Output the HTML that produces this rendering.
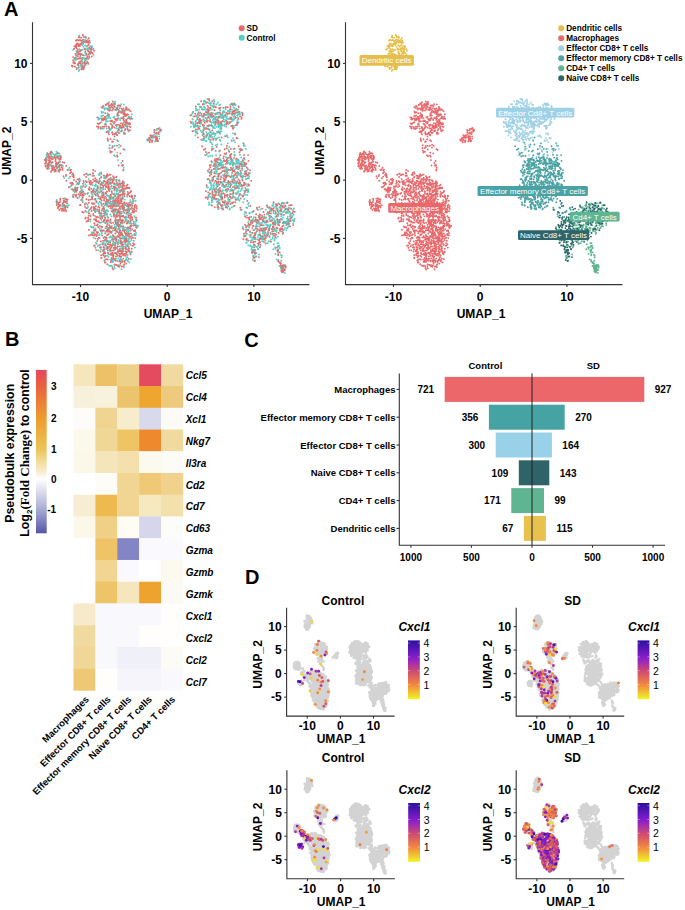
<!DOCTYPE html><html><head><meta charset="utf-8"><style>
html,body{margin:0;padding:0;background:#fff;width:685px;height:910px;overflow:hidden}
svg{display:block;font-family:"Liberation Sans",sans-serif}
.pts path,.pts use{fill:none;stroke-linecap:round}
.pts *{vector-effect:non-scaling-stroke}
.ax{stroke:#333;stroke-width:1.1;fill:none}
.tk{font-size:12px;font-weight:bold;fill:#000}
.lab{font-size:12px;font-weight:bold;fill:#000}
.lg{font-size:8.2px;font-weight:bold;fill:#000}
.bl{font-size:8px;fill:#FFFFFF}
.gn{font-size:10px;font-weight:bold;font-style:italic}
.cl{font-size:9.5px;font-weight:bold}
.cbt{font-size:10px;font-weight:bold}
.bt{font-size:12.4px;font-weight:bold}
.sf{font-family:"Liberation Serif",serif;font-weight:bold;font-size:13px}
.ct{font-size:9.5px;font-weight:bold}
.cv{font-size:10px;font-weight:bold}
.gl{font-size:12px;font-weight:bold;font-style:italic}
.lt{font-size:10.5px}
</style></head><body><svg width="685" height="910" viewBox="0 0 685 910"><defs><path id="p000" vector-effect="non-scaling-stroke" d="M82.6 69.3h0m-4.6 -1.4h0m8.7 -5.3h0m-7.4 -22.7h0m11.5 8.8h0m-3.3 -8.8h0m-2.5 -0.2h0m-0.4 1.3h0m-2 14.1h0m9.4 -7.8h0m-10.6 18h0m6 -3.8h0m-8 -12.2h0m6.3 3.1h0m-6.9 18.5h0m-5.7 -21.1h0m2.4 10.2h0m18 -5.3h0m-19.2 3.4h0m16 -12h0m-5.2 12.4h0m2 -0.3h0m-12.3 1.2h0m-1.2 3.5h0m11.6 -17.4h0m-11.7 17.8h0m5.3 2.7h0"/><path id="p001" vector-effect="non-scaling-stroke" d="M80.4 61.4h0m7 -13h0m2.4 0.9h0m-9.3 0.9h0m0.1 15.7h0m8.6 -24.5h0m-10.2 4.7h0m9.5 5.5h0m-12.5 8.2h0m4.9 4.6h0m-4.4 -10.9h0m9.1 -16.9h0m-6.3 33.3h0m-1.1 -5.2h0m6.3 -1.2h0m-1.9 -13.8h0m2.2 5.7h0m-2.6 2.8h0m3.3 -15.7h0m-9.3 25.1h0m0.1 -16.3h0m8.3 13.5h0m2.1 -15.4h0m-1.9 -0.4h0m4.3 -0.6h0m-5.6 -1.6h0"/><path id="p002" vector-effect="non-scaling-stroke" d="M82.1 61.5h0m2.6 -1.8h0m2.8 -3.1h0m-6 -15.3h0m-1.1 15.2h0m11.5 -10.3h0m-10.4 19.7h0m9.3 -14.7h0m-6.8 7.1h0m-2.4 5.4h0m-3.9 -12.8h0m4.3 7.7h0m-6 -0.9h0m13.7 -15.4h0m-3.7 17.3h0m1.5 -3.7h0m-1 6.5h0m1.5 -13.5h0m-5.3 18.1h0m-0.5 -21.9h0m0.4 -2.8h0m1 -5.3h0m-4.4 -1.3h0m7.6 10.8h0m-1.3 18.4h0m-0.2 -11.9h0"/><path id="p010" vector-effect="non-scaling-stroke" d="M89.8 42.8h0m-11.1 24.8h0m-6.9 -2h0m18.4 -13.5h0m-11.5 -7.3h0m-1.1 6.4h0m5.8 4.2h0m-6.7 -15.1h0m9.6 13.6h0m-3.1 -10.2h0m4.5 -1.8h0m-4.2 24.8h0m-0 0.9h0m-3.4 -10.5h0m5.7 1.5h0m-3.8 -15.3h0m-0.9 -5.5h0m6.3 7.8h0m-12.6 20.9h0m10.2 -18h0m-3.7 -5.2h0m-2.1 19.6h0m2.5 -8.7h0m3.8 6.1h0m-5.5 -6.3h0m10.2 -0.2h0m-1.6 -11h0m-12.3 5.2h0m-0.4 -0.7h0m3.7 -2.9h0m4.2 23.9h0m5.2 -12.1h0m-7.4 11.4h0m-0.3 1.7h0m-3.7 -4.5h0m-0.9 4.2h0m8.9 -9.8h0m-3 -1.2h0m3.9 -17h0m2.2 -2.7h0m-11.1 5.2h0m-1.5 12.2h0m9.9 -14.4h0m-6.3 4.9h0m-4.9 17.2h0m11.2 -25.7h0m-6.6 24h0m7.5 -19.4h0m-6.3 1.5h0m1.8 15.5h0m-8.3 -10.6h0"/><path id="p011" vector-effect="non-scaling-stroke" d="M91.1 48.6h0m-10.7 6.2h0m-3.7 -11.2h0m2.7 8h0m6.8 -10.4h0m-4.3 26.7h0m-7.9 -6h0m15.4 -20.5h0m-11.4 13.2h0m8.7 -13.5h0m1.9 10h0m-16 15.3h0m11.9 -17.5h0m0.1 12.8h0m8.7 -12.8h0m-18.2 14.3h0m10.2 -12h0m-2.4 -15.8h0m-5.3 13.8h0m14.3 3.5h0m-13.9 1.6h0m0.4 -0.4h0m8.1 0.8h0m-3.1 14.5h0m-6.1 -17.2h0m10.4 10.4h0m-8.9 -21.8h0m10.6 -0.1h0m-14 13.4h0m9.8 11.1h0m3 -6.1h0m5.8 -8.1h0m-12.5 9.9h0m9.8 -13.7h0m-3.9 -4.8h0m-14.1 19.9h0m15.3 -7.8h0m-4 -17.2h0m-2 20.9h0m0 5.2h0m8.4 -14.3h0m0.8 7.6h0m-13.2 -11h0m1.4 5.9h0m0.6 -6.9h0m11.8 8.7h0m-9.1 -11.3h0m7.8 10.6h0m-1.4 -0.6h0m-9.2 3.4h0"/><path id="p012" vector-effect="non-scaling-stroke" d="M76.4 46.3h0m11.8 17.4h0m-15 -3.4h0m4.3 -1.5h0m3 -0.2h0m-2.8 -6.2h0m0.7 -6.5h0m9.8 -4.2h0m-13.3 4.8h0m14.7 6.4h0m-3.4 10.7h0m3 -16.2h0m-6.1 -7.7h0m-7.4 5.4h0m0.2 -4.5h0m6.8 -5.7h0m-0.4 5.7h0m-4.4 24.1h0m3.2 -14.4h0m6 7h0m-12.8 -10.9h0m-1.9 19.8h0m7.1 -12.2h0m8.3 -3.5h0m-8.3 -13.2h0m-0.8 14.2h0m12.8 -1.7h0m-14.2 -10h0m-0.8 4.8h0m7.9 22.2h0m5 -9.1h0m-10.5 0.8h0m3.3 8.9h0m-3.8 -4h0m2 -1.3h0m7.8 -19.9h0m0.4 2.8h0m-9.9 -7.7h0m-2 7.4h0m1.2 11.5h0m4.7 8.9h0m-9.5 -8h0m7 6.3h0m10.3 -11.1h0m-9.8 -12.1h0m4.2 22.9h0m-0.5 -21.2h0m-9 16.1h0m8.8 4.4h0m-3.3 -17.8h0"/><path id="p100" vector-effect="non-scaling-stroke" d="M112.3 133.3h0m2.4 -10.8h0m-0 -17.9h0m7 26.1h0m-6.7 -28.9h0m9.5 30.6h0m-21.3 -20.1h0m20.1 5.1h0m-19.6 10.8h0m22 -4.8h0m-8.2 -9h0m-11.8 2.9h0m21.4 -7.3h0m-21.1 10.6h0m13.5 12.1h0m9.4 -14.9h0m-22.8 3.9h0m7.4 -16.4h0m-5 11.1h0m-7.4 1.9h0m7.9 -16.1h0m19.9 14.2h0m-3.8 -6h0m-0.4 1h0m-21.1 -5h0m12.9 19.6h0m-14.4 3h0m15.2 -8.8h0m8.6 2.9h0m-5.5 -17.4h0m-7.5 3.9h0m11 -5.2h0m-17.4 14.4h0m3.4 10.4h0m-1.6 -20.7h0m-6.8 3.3h0m1 3.9h0m21.4 2.7h0m-6.2 -11.3h0m3.5 -3h0m1.1 26.4h0m-2.9 -19.9h0m-20.9 7.1h0m24.6 7.9h0m-23.9 -6.2h0m19.6 -0.9h0m8.3 9h0m-0.6 -6.1h0m-3.9 -9.2h0m-9.2 5.2h0m8.5 10.4h0m-3.5 -9.9h0m2.7 -6.2h0m-4.6 -2.2h0m-9.1 21.6h0m21.4 -6.7h0m-2.5 -4.3h0m-9.9 8.1h0m6.8 -10.3h0m-14.8 14.1h0m-7.1 -24.9h0m15 3.1h0m-9.6 18.4h0m-6 -0.4h0m12 5.9h0m19.5 -15.3h0m-24.4 -9.8h0m8.5 16.2h0m2.8 7.9h0m-20.8 -13.6h0m10.7 -12.6h0m-1.8 24.7h0m13.5 -5.7h0m-0.9 1.5h0m4.2 -5h0m-9.2 -19.4h0m8.3 9.3h0m-9.8 -9h0m7.2 8.8h0m-13.6 -3.7h0m12.4 17.4h0m6.6 -16.4h0m-4.8 19.2h0m5.8 -4.5h0m-17.6 -15.1h0m11.3 18.4h0m-18.8 -14.6h0m9.6 15.7h0m-2 -11.6h0m11.8 14h0m-3.9 4.3h0m-11.9 -26.7h0m3.7 7.7h0m7.1 -8.4h0m-11.5 1.7h0m-6.4 19.1h0m2.9 -12.5h0m14.5 16.7h0m8 -0.1h0m-23 -5.4h0m13.6 -20.5h0m-6.1 11h0m-5.1 -2.3h0m15.9 14.3h0m-9.9 1.2h0m2.6 -6.5h0m7.1 -9h0m2.9 -6.9h0m6.6 22.7h0m-16.4 -26.5h0m6.6 4.6h0m7.5 -2.4h0m-15.2 0.7h0m16.9 14.9h0m-3.7 4.3h0m-22.6 -4.6h0m9.1 7.7h0m3 -26.5h0m-8.5 20.5h0m4.1 -8.7h0m11.3 -3.7h0m10.7 5.2h0m-20.7 1.6h0m21.4 -4.2h0m-27.7 -6.1h0m10.4 8.7h0m3.4 11.7h0m-4.8 -6.2h0m-6.1 -6.5h0m0.4 -2.6h0m10.2 17.7h0m-0.5 1.2h0m-9.3 -10.9h0m-8.4 -2.5h0m22.6 7.5h0m-1.8 -6.2h0m-1.1 24.7h0m3.7 21.1h0m-7.7 -9.5h0m-1.1 -16.9h0m9.3 31.1h0m0.3 -2.7h0m-13.7 -17.2h0m9.1 -3h0m3 18h0m-9.3 -19.6h0m-3 -0.7h0m11.7 17.7h0m3.2 -13.2h0m-6.6 10.3h0m-0 -19h0m-3.3 4.7h0m-3 2.3h0m-3.6 -7.2h0m9.2 11.7h0m-3.2 2.7h0m0.3 -15.9h0m38.5 -4h0m-2.8 2.4h0m9.6 -9.7h0m-3 10.6h0m-7.9 0.5h0m9.2 1.7h0m-6.3 -5h0m7.6 -7.8h0m-2.5 4.6h0m-8.2 7.2h0m10.3 -11.2h0m-11.7 11.1h0m13.5 -10h0m-3.7 -0.9h0m-1.3 9.4h0m-0.5 3.1h0m4.1 -2.8h0m-4.5 -8.2h0m2.6 3h0m-0.7 -3.1h0m-9.3 10.3h0m13.7 -10.4h0m-10.7 7.4h0m0.6 -0.7h0m3.5 -4.3h0m4.6 3.8h0m-6.8 0.7h0m-3.7 2.1h0m7.5 -1.4h0m0.9 -1.5h0m-2.7 -1.7h0m6.1 -3.2h0m-8.3 6.5h0m4.9 -4.1h0m-98.6 33.3h0m-7.7 -2.3h0m-0.8 1.1h0m9.6 -6.1h0m-1.7 -4.2h0m0.8 10.5h0m-5.4 -0.5h0m-5.8 -8.3h0m10.8 8.8h0m-1.8 -14.5h0m1.6 4.7h0m-9.9 10.9h0m3 -15.8h0m9.3 4.2h0m-2.6 8.1h0m-1 0.4h0m1.3 6.6h0m-1.9 -16.9h0m-0.8 3.8h0m4.1 7.2h0m-13 -9.6h0m13.2 13.4h0m-14 -6.7h0m11.3 -5.3h0m-7.6 -2.6h0m13.2 11.5h0m-6.2 0.5h0m2.7 1.5h0m1.9 -9.6h0m-8.2 1.4h0m5.8 11.2h0m-4.3 -1.3h0m-8.2 -9.2h0m14.1 1.7h0m-7 -4.1h0m-4.5 4.8h0m6.6 3.8h0m-8.4 -7h0m0.3 -6.2h0m3.1 1.6h0m4.6 16.1h0m-8.9 -13.1h0m12.8 -4.4h0m-3.8 2.9h0m4.5 2.7h0m-13.9 6.4h0m15.3 -8.3h0m-5.9 -2.2h0m-1.5 13.1h0m-2.8 -6.7h0m-4.8 5.5h0m10.8 2.2h0m0.3 -4.9h0m-3.7 -9.6h0m-4.3 14.2h0m0.9 -14.6h0m9.5 -0.1h0m-12.7 2.7h0m11.6 0.8h0m-8.4 4h0m-1.5 -4.8h0m3.9 -3.8h0m6.4 3.4h0m-9.6 8.3h0m2.1 -9.5h0m8.4 14.8h0m-2.8 -16.2h0m-1.1 0.8h0m0.6 0.3h0m-4.1 2.4h0m18.6 25.6h0m1.3 0h0m-6.3 -6.5h0m7.4 -1.3h0m3.9 13.6h0m-5.5 0.8h0m10.8 7.6h0m-9.4 -7.2h0m2.1 -2.1h0m-3 -12.6h0m-3.6 -5.4h0m0.5 8.7h0m1.8 7.9h0m-0.9 0.8h0m2.7 9.6h0m2.7 -5.3h0m0.6 -3.4h0m7.1 6h0m-1.6 -3.5h0m-2.3 -9.8h0m-4.1 8h0m4.2 -5.7h0m-15 -4.7h0m10.5 14.4h0m-11.8 -26.6h0m11.5 24.3h0m0.4 0.4h0m-5.3 -22.8h0m7 16.6h0m-13.3 25.1h0m1.6 -11.2h0m-2.9 10.7h0m5 -3.1h0m-6.9 -0.8h0m3.4 3.7h0m-7 -7.4h0m7.4 5h0m-6.9 -6.4h0m8.2 6.3h0m1.3 -3.8h0m-2.1 2.4h0m2.4 -3.2h0m-0.7 4.8h0m-0 -4h0m-3.4 4.2h0m-5.9 -3.9h0m5.8 0.8h0m0.4 1.5h0m5.9 0.1h0m-2.9 -2.6h0m-8.5 -0.1h0m-0.7 1.7h0m9 1.4h0m-1.7 -4.8h0m-1.7 5.1h0m-2.8 -0.7h0m5.9 -3.8h0m62.5 21.3h0m-5.1 0.9h0m-4.9 -11.2h0m2.4 7.6h0m7.7 10.3h0"/><path id="p101" vector-effect="non-scaling-stroke" d="M119.8 211.5h0m-5.7 -27.2h0m8 -1.1h0m9.9 21.9h0m-27.8 -26.8h0m-16.4 43h0m43.8 18.9h0m-32.7 -65.4h0m17 65.9h0m-6.4 -3.2h0m-3.8 -59h0m1.8 22.2h0m-6.1 -4.4h0m3.4 19.4h0m12.9 -26.7h0m-23 19.3h0m25.7 25.5h0m10.1 -8.1h0m-11.7 0.6h0m-31.2 -21.9h0m44.5 15.7h0m-30.5 7.5h0m29.2 31.6h0m-29.7 -87h0m19.7 51.1h0m-6.5 -32.7h0m4 74.5h0m-17.5 -48h0m29.1 24.3h0m-2 19.9h0m-6.9 -10.1h0m-11.4 -0.3h0m7.4 -34.4h0m3.6 31.9h0m-3.7 -26h0m-2.5 17.2h0m0.2 -46.2h0m16 27h0m-30.8 8.3h0m16.9 -36.9h0m8.6 59.4h0m-14.7 -30.1h0m2 -32.7h0m-14.9 6.7h0m8 42.2h0m14.4 -22.4h0m-0.6 45.7h0m6.6 -26h0m-26.1 -22.2h0m31.7 23.6h0m-10.4 -45h0m-24.6 -1.7h0m21.7 50.6h0m-11.9 -35.2h0m13.5 7.1h0m-28.6 22.4h0m17.7 7h0m-2.1 -31.1h0m6.3 -6.6h0m14 2.6h0m-32.4 -20.5h0m23.9 39.4h0m15.2 -2h0m-32.4 -40.5h0m5.4 12.8h0m9.4 36.2h0m9.8 -15h0m-21.9 24.2h0m11.7 -31.3h0m6.1 43.9h0m-10.6 -36.9h0m-16.4 -5.5h0m16 40.1h0m13.5 -59.9h0m-8.4 21.1h0m-3.7 49.7h0m-23 -52.4h0m11.7 -32.4h0m11.7 77.5h0m-2.6 4.9h0m18.9 -45.9h0m-23.7 48.8h0m0.6 -24.6h0m10.6 -53.3h0m-2.6 57.9h0m-12.5 -51.9h0m20.3 45.2h0m-0.2 -41.3h0m1.1 54.4h0m10.3 -11.2h0m-29.8 -54.6h0m7.1 31.5h0m9 22.3h0m-2.8 17.3h0m-18.7 -72h0m33.7 22.2h0m-2.6 1.5h0m-6 -18.9h0m9.5 23.2h0m-24.5 1.2h0m12.6 -2.1h0m5.5 50.6h0m-46.8 -62.6h0m44.1 -12.9h0m-16.7 43.9h0m-12.9 -36.8h0m18.9 18.5h0m16.6 -7.2h0m-23.7 -0.9h0m9.6 36.8h0m10.4 -49.8h0m-33 -13h0m34.7 81.3h0m1.7 -49.3h0m-25.3 -13.4h0m14 8.3h0m0.1 -19.3h0m-2.7 76.9h0m8.2 -74h0m-44.7 -3.1h0m37.5 0.4h0m18.3 14.7h0m-10.1 10.5h0m-32.4 -12.3h0m27.6 28.3h0m-24.5 -8.9h0m-2.3 -30.7h0m15.7 43h0m10.9 7.7h0m-25.1 -54.7h0m5.3 -7.9h0m-1.5 58.8h0m20.2 26.4h0m2.4 2.7h0m-28.6 -27.7h0m21 26.9h0m-2.3 -24.1h0m12 -38.3h0m-30.6 0.8h0m27.1 -2.6h0m-12.4 17.3h0m9.7 -9h0m14.8 10.1h0m-9.1 30.7h0m-25.8 -9.2h0m37.1 -12.3h0m-32.9 -1.2h0m24.7 28.7h0m-29.8 -52.4h0m41 28.8h0m-15.2 22.7h0m-4.2 -36h0m-29.1 -39.2h0m43.7 77.1h0m-23.5 -68.1h0m-6.3 42.9h0m3.4 -9.1h0m-13.3 14.3h0m9.8 -26.8h0m-5.4 -2.9h0m31.5 -8.1h0m-0.2 39.3h0m10.4 -7.8h0m-16.9 25.4h0m1.9 -64.8h0m-0.4 42.7h0m7.3 -25.1h0m-1.2 7.8h0m-22.5 1.7h0m8.2 -13.2h0m-1.5 34.6h0m15 -21h0m-35.6 19.4h0m14.9 7.3h0m22.1 21.6h0m-25.6 -18.4h0m9.6 -44h0m-19.5 19.3h0m27.5 7.1h0m0.9 16.7h0m-8.1 -59.5h0m-1.5 46.9h0m-2 5.6h0m18.2 -23.8h0m-34.6 17.5h0m-6.9 -24.9h0m26.2 -26.6h0m-13.6 14h0m18.6 -11.8h0m5.4 49.3h0m-4.8 21h0m-24.5 -40.1h0m22.4 21h0m-21.5 -31.3h0m10.3 22.1h0m18.1 44.8h0m-41.8 -76.1h0m5 17.1h0m35.1 -12.9h0m-13.9 61.4h0m0.4 -14.3h0m17.8 -22.7h0m-27.2 -39.9h0m21.1 81.1h0m-18.9 -41h0m3.6 -31h0m16.6 22.8h0m-2.4 -8h0m-25.6 -13.5h0m20.1 40h0m9 -38.3h0m-13.6 4.8h0m11.4 45.1h0m-0.9 -41.6h0m-20.1 34.1h0m30.6 -7.1h0m-26.7 -46.4h0m-23.3 -1h0m28.2 4.2h0m3.9 14.3h0m-7.1 29.7h0m2 27.5h0m9.6 -17.7h0m-1.6 9.7h0m13.8 -60h0m-20.3 2.8h0m-11.7 35.1h0m10.6 -8.2h0m1.1 48.1h0m0 -83.4h0m-23.4 2.3h0m3.6 -9.9h0m10.3 18.1h0m-15.4 -10.3h0m-4.3 13.4h0m37.2 41.5h0m-9.7 3.4h0m6.2 -30.5h0m-7.3 -26.1h0m14.3 41.1h0m4 -41.9h0m-11.2 52.7h0m15.4 -6.7h0m-33.7 -35h0m28.3 13.7h0m14.2 18.6h0m-42.2 -17.5h0m-13.1 -22.2h0m33.2 56.5h0m13.9 -15.7h0m-23.9 4.3h0m14.3 -1.8h0m1 -10.5h0m-3.4 -29.7h0m8.9 47.4h0m-26.1 -38.3h0m-5 0.3h0m31.5 41.5h0m-30.5 2h0m27 -11.9h0m8.3 -4.6h0m-3.6 34h0m-28 -48.2h0m6.6 33.7h0m16.7 -17.5h0m-1.4 -27.7h0m-1 -14.4h0m5.2 34.9h0m-21 30.6h0m15.7 -52.3h0m6.3 49.9h0m-37.2 -59h0m4.2 47.6h0m9.2 -29.2h0m23.8 23.1h0m-6.5 -11.7h0m-22.1 -32.7h0m29.1 1.1h0m0.6 72.8h0m-6.6 -35.2h0m-9.5 -29.2h0m0.5 49h0m-13.9 4.5h0m36 -15.3h0m-11.9 -19h0m12.9 1.5h0m-4.4 -0.6h0m-13.7 3.9h0m2.3 -25.1h0m0.4 -3.4h0m14.8 15h0m-17.6 5.5h0m12.2 21.8h0m-46.9 -44.3h0m13.7 -0.6h0m-0.6 38.7h0m24 -40.6h0m5.8 39.6h0m6 -10.7h0m-10.9 15.8h0m-17.3 18.1h0m27.3 2.4h0m-1.2 -14.3h0m-15.7 -40.6h0m15.1 44.7h0m7.5 -21.2h0m-29.7 9.4h0m21.3 -26.2h0m-12 38.1h0m-22.7 -70.3h0m-6.6 13.4h0m48 48h0m-2 -31.6h0m-12.3 -5.3h0m3.6 8.8h0m-28.5 24.8h0m26.9 17.4h0m-14.2 -47.8h0m8.7 26.1h0m9 -6.9h0m-2.8 -26h0m-39.2 -7.8h0m35.7 30.3h0"/><path id="p102" vector-effect="non-scaling-stroke" d="M126.8 228.7h0m-15.6 -30h0m-22.8 12.7h0m46.4 -15.6h0m-19.2 0.7h0m8.6 6.6h0m-25.3 32h0m31.3 -11.9h0m-30.5 -7.3h0m11.1 -10.9h0m16.1 1h0m3.3 -0.7h0m-28.3 -11.4h0m23.6 23.4h0m-25.2 -32.8h0m-18.1 6.2h0m32.6 36.6h0m20.9 -26.6h0m-13 37.8h0m-22.9 -63.6h0m17.8 67.5h0m19.2 -21.9h0m-5.3 -12h0m-12.3 -16.4h0m-16.1 -2.5h0m12 57.6h0m3.2 -35.7h0m-5.5 -13.6h0m22.1 49.7h0m-4.1 -2.7h0m-1.4 -8.9h0m0.2 16.9h0m-14.2 -46.7h0m0.5 -1.5h0m-8.4 24.1h0m-4.7 22.4h0m-5.8 -39.9h0m38.3 12.4h0m-12.4 13.9h0m-16.7 -24h0m7.4 39.9h0m-23.2 -38.4h0m9.5 0.4h0m33.9 25.3h0m-15.6 5.6h0m-12.7 -53.4h0m28.8 23.1h0m-18 -25.6h0m-20.8 1.1h0m-2.6 4.6h0m-3.6 14.1h0m12.1 12.1h0m19.8 -15.9h0m-25.3 -14.9h0m14 37h0m8 15.6h0m-4.5 -5.6h0m3.1 -44.4h0m-34.6 -4.8h0m45.7 65.9h0m-9.6 -25.8h0m-1.8 -25.5h0m-8.3 18.9h0m2.7 -33.9h0m18 22.5h0m-24.3 25.7h0m31.7 -4.2h0m-37.5 -51.3h0m9.6 21h0m1.8 23.7h0m-3.5 -23.6h0m12.4 19.2h0m-9.3 27.5h0m3.4 -38.2h0m2.5 16.8h0m5.2 30.2h0m-14.6 -53.4h0m9.5 -8.6h0m8.1 31.1h0m0.4 10.8h0m-11 23.6h0m-20.9 -27.6h0m7.7 -8.2h0m12.3 -23.1h0m-1.3 37.9h0m-0.7 -61.6h0m1.5 66.4h0m-3.9 -49.7h0m7.3 16.1h0m9.1 -4.8h0m-32 -12.8h0m-11.1 -8h0m31.5 24.5h0m7.4 26.1h0m-15.4 -59.2h0m-21.9 23.1h0m26.3 -5h0m15 45.6h0m0.2 -39.4h0m-2.3 44.1h0m12.6 -21.3h0m-27.1 15.9h0m-15.7 -47.3h0m-5.2 18.6h0m36.6 34.9h0m-25.5 -61.1h0m24.6 74.4h0m-21.1 -10.7h0m29.3 -43.7h0m-29.9 -20h0m24 18.8h0m-6.3 -1.3h0m-0.4 -19.2h0m-2.5 17.2h0m2.1 -16.8h0m-25 42.6h0m5.4 19.1h0m-9 -67.2h0m33.6 42.7h0m-0.2 -13.3h0m-34 -15.5h0m12.5 21.1h0m29.4 16.3h0m-1.2 16h0m-11.9 -52.1h0m-3.9 65.5h0m4.5 -27.8h0m-8.1 -33.9h0m24.1 2h0m-12 69.1h0m10.6 -34.1h0m-14.9 -49.6h0m9.8 24.8h0m0.9 22.3h0m6 -10.6h0m-24.3 -25.2h0m-6 52.6h0m7.2 4.6h0m-8.7 -70.1h0m23.8 53.1h0m2.4 -16.2h0m-5.4 28.9h0m-9.7 -47.5h0m4.1 -19.4h0m2.6 -1.2h0m-13.2 64.8h0m12.3 -5.4h0m-4.1 -36.1h0m-8.9 6.2h0m-2.5 35.3h0m-2.2 -43.4h0m14.1 -18.3h0m8.4 9.5h0m-14 56.3h0m-1.8 -50.9h0m2.5 -15.7h0m4.3 84.5h0m-8 -58.1h0m12.3 11.2h0m-9 44.5h0m7.5 -4.7h0m3.8 -19.9h0m-30.7 -15h0m26.7 34.4h0m10.7 -19.8h0m-21.6 1.2h0m-6.3 -52.4h0m14.1 4.6h0m1.9 -5.9h0m-6 11.3h0m12.9 -6.8h0m-40.9 6.4h0m45.7 29.7h0m-32.2 -44.6h0m36.9 18.1h0m-16.2 19.6h0m-20 -28.6h0m40.2 31.6h0m-36.8 22.2h0m14.7 -22.5h0m14.2 7.1h0m-19.7 22.5h0m-4.9 -45.3h0m20.8 -9.6h0m-12.2 54.7h0m3.4 -26.9h0m-5 18.1h0m-11.3 -43.7h0m17 -22.1h0m4.5 53h0m-14.7 -28.6h0m4.6 50.5h0m-17 -47.4h0m22.8 6.6h0m-4.7 23.7h0m14.5 8h0m-11.8 1.5h0m-15.9 -34h0m5.6 34.8h0m14.2 -14h0m-1.4 17.9h0m-6.9 -14.4h0m6.4 -13.3h0m9.6 33.6h0m-24.9 -24.9h0m28.7 -18.8h0m-30.5 -32.8h0m35.9 54.1h0m-31.2 -29.6h0m12.2 -12h0m2.2 49.4h0m-4.2 -16h0m-4 -23.6h0m-12.2 -11.9h0m26.8 29.1h0m-2.9 33h0m-17.4 1.9h0m10 -75.6h0m6.6 26.5h0m10.9 -4.8h0m-35.9 42.2h0m-11.6 -49.6h0m50.9 27.1h0m-50.9 -17.9h0m8.1 -13.1h0m26.5 23.6h0m0.1 23.4h0m-20.4 -10.9h0m14.8 22.2h0m1.1 4.1h0m-5 -32.1h0m-22.3 -13.7h0m27.7 31.3h0m-8.4 -32h0m15.1 42.2h0m-25.2 -38.5h0m28.4 34.1h0m4.4 -25.1h0m2.3 -17.5h0m-9.7 -5.2h0m-17.7 63.9h0m-5.3 -22.1h0m25.6 22.4h0m-26.4 -55.3h0m6.1 17.4h0m-6.7 -24.1h0m21.9 61.3h0m-22.7 -63.9h0m31.6 46.2h0m-33.3 -56h0m2.2 35.5h0m30.5 1.1h0m-2.3 -4.8h0m-12 26.9h0m5.9 -17h0m-5.6 -24.2h0m-5.8 38h0m4.8 -28.3h0m-1.3 -5h0m7.3 20.4h0m-0.2 -36.3h0m-1.2 60.6h0m9.8 -44.4h0m-16 53.1h0m13.2 -43.7h0m-24 -15.2h0m9.7 -25.1h0m18.9 49.3h0m-25.1 -13.8h0m-14.3 8.2h0m21.9 -18.3h0m-2.7 29.5h0m5.8 15.1h0m4.8 -60.5h0m3.7 57.1h0m-28.7 1.3h0m28.7 -16.2h0m-12 -43.6h0m-9.4 57.6h0m26 -3.8h0m-11.9 -35.8h0m9.8 44.1h0m3.1 -38.4h0m-34.9 -21h0m10.4 26.4h0m10.4 6.1h0m6.7 -30.3h0m8.3 9.5h0m-24 26.3h0m14.2 33.8h0m-20 -15.6h0m-4.7 -62.8h0m20.3 76.9h0m8.2 -21.9h0m1.1 0.4h0m1 -23.3h0m-47.5 -30.5h0m48.6 13.4h0m-26.5 34.4h0m22.2 -22.2h0m-8.8 57.6h0m-9 -82.6h0m30.7 42.9h0m-11.6 -13.9h0m-4 0.3h0m-16.6 29.1h0m22.9 -4.2h0m-21.6 -27.5h0m2.3 5.5h0m8 -0.5h0m-2.5 27.7h0m-0.7 22.7h0m7 -61.3h0m-14.3 7.8h0m19.8 -2.4h0m-44.8 -18.2h0m30.2 -9.6h0m3.5 14.8h0m12.9 61.8h0m-28.2 -55.9h0m3.4 30.6h0m2.6 -57.9h0"/><path id="p110" vector-effect="non-scaling-stroke" d="M125.3 129h0m-16.2 -1.2h0m9.8 -15.6h0m-4 -8.2h0m10.9 12h0m0.1 9.7h0m3.4 -15.8h0m-21.4 5.2h0m2.8 5.9h0m-5.5 -7.7h0m12 2.3h0m-1.5 17.7h0m-11.2 -14.1h0m26.7 -0.8h0m-16.7 9.1h0m15 -3.8h0m-13.3 -3.2h0m12.8 10.1h0m-17 -2.8h0m-6.6 -9.8h0m20.5 -9.1h0m2.2 0.2h0m-5.2 14.3h0m-13.8 5.2h0m-8.5 -0.4h0m22.6 -0.8h0m1.8 6.4h0m2.7 -15.3h0m-24.6 -12.6h0m9.2 19.9h0m16 -2.3h0m-13.8 12.9h0m2.8 -17.6h0m6.7 -4.6h0m-20.9 4.1h0m27.4 8.8h0m-14.6 -7.7h0m5 3.9h0m-13.7 -19.9h0m11.5 26.2h0m-9.7 4.8h0m8.6 -21.2h0m-15.2 -5.5h0m22.2 17.1h0m-2 0.2h0m-16.2 7h0m-7.6 -8h0m21.1 3.3h0m-15.1 -10.6h0m14.7 10.9h0m-10.8 -13.1h0m-6.3 4.9h0m14.4 15.3h0m1.6 -2.1h0m2.6 -20.1h0m-4.4 7.3h0m3.3 -11.7h0m-8.4 -4.2h0m0.8 28.3h0m1.7 -8.6h0m-5.2 -17.9h0m-1.1 4h0m15.7 4.3h0m-10.6 20.6h0m9.2 -7.1h0m-13.7 -23.8h0m-10.6 19.8h0m26.4 10.3h0m3.4 -7.6h0m-6.1 5.1h0m-6.4 -12.4h0m9.1 -8.6h0m-12.4 -3.9h0m16.4 8.2h0m-25.1 5.7h0m18.1 -2.3h0m3.6 -2.9h0m-7.5 -6.8h0m2.8 18.1h0m2.6 -8h0m0.5 8.3h0m1.2 -5.7h0m2.9 -6.7h0m3.4 -3.1h0m-8 -0.2h0m-12 12.8h0m-12.3 3.8h0m4.5 -9h0m27.5 0.3h0m-33 -1.5h0m32.4 5.9h0m-19.5 -18.2h0m13.4 14.8h0m2.5 -0.1h0m-20.3 4.5h0m-5.7 -1.3h0m21.7 -10.2h0m4.6 10.2h0m-2.9 -14.6h0m0.1 8.4h0m-26.7 9.6h0m11.8 0.5h0m-3.1 -21.9h0m0 19.5h0m6.4 -14h0m5.2 24.5h0m-4.8 -27.4h0m-2.4 2.3h0m17.7 19.6h0m-0.7 -14.8h0m-18.6 18h0m-4.1 -13.4h0m14.7 -14h0m-9 15.8h0m16.3 -0.5h0m-6 -14.5h0m-7.9 20.1h0m12.5 3.9h0m-8.8 -5.1h0m10.9 -9.8h0m-1.7 -0.9h0m-10.8 -7.7h0m15 11.4h0m-5.2 -5.3h0m-6.7 2.2h0m7.7 10h0m-3.3 -15.4h0m8.2 14.6h0m-0.5 2.3h0m-12.2 -10.7h0m-8.2 -5h0m8.5 14.1h0m-0 -15.2h0m9.5 13.1h0m-1.6 -0.5h0m-23.1 4.5h0m1.8 -0.2h0m20.9 -10.6h0m-26.6 10.7h0m21.4 -0.6h0m-4.9 -16.2h0m11.3 -1.8h0m-12.1 13.9h0m4.3 -10.1h0m-13.2 7.4h0m6.6 1.9h0m17.8 9.2h0m-2.3 -1.3h0m-11.9 4.7h0m-5.7 -26.3h0m8.6 23h0m-5.2 -21.9h0m-1.7 12.1h0m1 -19.2h0m0.1 25.1h0m1.6 7.5h0m-7.8 -29.4h0m11 1.2h0m-7.5 4.3h0m2.1 -4.9h0m13.7 4.4h0m-24.1 10.1h0m4.6 6.7h0m13.3 -1.2h0m-7.4 16.3h0m8 11.9h0m-3.1 -13.2h0m-5.3 11.6h0m-2.5 -3.6h0m1.1 -8.9h0m10.2 6.6h0m1.5 19.5h0m-9.3 -23.8h0m1.9 7.8h0m3.8 16.1h0m-11 -27.1h0m9.5 17.1h0m-0.2 -9.7h0m-6.5 6.8h0m13.1 17.1h0m-15.7 -29.7h0m15 24.9h0m-10.1 -17.7h0m-2 4.6h0m12.8 -2.6h0m-6 7.6h0m5.1 4.2h0m-10.4 -19.1h0m38.2 -6.7h0m8.6 -3.1h0m-6.9 8.8h0m3.8 0.1h0m-0.7 -4.2h0m2.5 3.6h0m-0.6 -2h0m-7.9 -0.2h0m7.8 -0.3h0m-3.6 -0.7h0m-5.6 2.5h0m6.4 -9.7h0m4.1 -1.2h0m-7 8.2h0m-2.1 0.7h0m2.7 -2h0m1.6 1.6h0m5.2 -5.1h0m-4.4 0.1h0m5.7 -2.2h0m-2.7 9.7h0m3.2 -9.8h0m-4.9 7.1h0m0.1 2h0m1 -6.1h0m-6.2 6.7h0m1.5 2.4h0m0.5 -1.7h0m-0.4 0.2h0m5.7 0.6h0m1 -7.1h0m-9.4 7.1h0m0.4 1.1h0m5.6 -6h0m4.7 -6.2h0m-4 3.4h0m-96.6 26h0m-1 3.3h0m-3 6.9h0m-10.1 -3.5h0m5.2 -14h0m9.6 6.3h0m-14.1 3.2h0m-1.4 -1.7h0m4.6 -1.5h0m5.1 -2.2h0m-6.1 4.2h0m13.1 4.7h0m-12.8 -0.1h0m12 4.7h0m-9.1 -17.5h0m-3.9 12h0m12.9 -6.6h0m-6 13.9h0m2 -7h0m-8.2 -8.6h0m4.5 13.2h0m-2.3 -16.7h0m12.2 9.7h0m-2.4 2.5h0m0.2 -8.4h0m-4.2 10.3h0m1.8 -8.3h0m-12.4 2.1h0m6.5 -1.3h0m6.8 3.1h0m3.6 7.7h0m-11.2 -13.3h0m5.1 6.2h0m4 -3.9h0m-6.4 10.5h0m6.4 -10h0m-11.2 -1.6h0m3.2 4.5h0m2 5.5h0m2.7 -11h0m-1.7 4.2h0m-6.5 -2.5h0m-3.2 4.9h0m2.8 -0h0m11.6 -7h0m-13 -2.3h0m7.4 15.5h0m4.6 -3.2h0m-9.9 -3.6h0m-3.4 -4.1h0m7.6 8.4h0m-1.6 3.4h0m-4.5 -5h0m15.2 2.7h0m-5 -15h0m2.2 11.9h0m-11.4 2h0m3 -4h0m1.3 6.1h0m2.9 2h0m-7.7 -5.2h0m-0.2 -1.3h0m6.6 -7h0m-3.5 0.6h0m4.9 1.1h0m1.5 4.9h0m-1.2 6.8h0m5.3 -3.9h0m-4.1 0.6h0m-6.1 -9.1h0m0.9 9.5h0m3.8 -3.1h0m3.3 4.8h0m-1.8 -12.6h0m-9.2 -3.1h0m7.6 4h0m-8.1 10.7h0m2.9 -7.4h0m0.3 -3.1h0m-1.5 2h0m6.7 3h0m-4.1 3.2h0m0.8 3.5h0m-7.6 -6.7h0m5.9 8.4h0m-4.1 -3.6h0m3.6 -15h0m1.5 12.6h0m7.1 6h0m-9.5 -15.4h0m19.3 30.8h0m-2.8 -12.2h0m4.9 -5.2h0m5.6 20.2h0m6.2 4.8h0m-6 -4.6h0m4.1 -2.1h0m-17.4 -11.9h0m13 18.5h0m-3 -3.8h0m2.7 -9.4h0m-6 -11.3h0m-3.9 -4.3h0m6.9 18h0m2.5 3.9h0m-2.1 -12.6h0m9.2 11.3h0m-12.8 -13.3h0m5.1 21.8h0m-1.7 2h0m-0.4 -20.6h0m4.7 21.6h0m-5.9 -13h0m1.4 9.9h0m3 -3.1h0m-0.1 4.9h0m-3.3 -23.2h0m6.4 5.2h0m-1.7 4.7h0m-11.2 -2.6h0m8.8 8.6h0m-5 -12.8h0m1 -4.6h0m-0.7 11.3h0m2.3 5.9h0m1.3 -9.3h0m6.2 12h0m-7.9 -8.9h0m5.3 -3.6h0m0.9 5h0m-4.7 -7.5h0m9 20.6h0m-8.9 -20.3h0m4.4 6.3h0m2 10.4h0m-16 -31.2h0m17.5 36.5h0m-0.3 -6.5h0m-3.6 -9.5h0m-2 7.4h0m-8.4 -20.6h0m-2.1 31.9h0m-6 3.7h0m-1 -1.3h0m0.9 5.7h0m8.3 -2.8h0m-10.8 -5h0m3.4 -3.5h0m4.5 8.9h0m1 2.3h0m-0.2 -2.8h0m0.7 4.2h0m-8 -4.6h0m5.7 -6h0m-0.2 1.5h0m-3.2 3.1h0m4.9 -5.8h0m1.9 4.1h0m-10.4 -2h0m1.5 5.5h0m4.8 -8.5h0m-3.3 7.3h0m-1.1 -3.2h0m1.2 -0.7h0m1.8 8.6h0m3.3 -1.8h0m-1.8 -6.7h0m3.4 -0.6h0m-2.3 9.1h0m-4.8 -4.6h0m3.3 4.7h0m-4.2 -4.2h0m-1.9 -1.4h0m1.9 -1.6h0m1.5 -3.4h0m7.3 -0.3h0m-4.7 3.9h0m1.3 1.7h0m-3.4 3.1h0m-2.8 -0.3h0m6.1 -7.1h0m2.6 -2h0m-4 9.6h0m54.1 -25.6h0m-10.9 57.2h0m29.4 -8.9h0m-23.9 -8.3h0m-19.5 4.2h0m32.9 34.9h0m-4.8 -70.2h0m-1.6 28.5h0m4.7 -3.9h0m-16.8 -22.7h0m1.9 23.9h0m8.4 6.7h0"/><path id="p111" vector-effect="non-scaling-stroke" d="M93.5 215.2h0m20.7 -12.9h0m-8.7 41.9h0m3.2 -14.7h0m0.7 -29.6h0m4.1 55.5h0m8.9 -2.4h0m-13.6 -23.6h0m1.7 -32.3h0m0.9 11.4h0m5.2 -10.4h0m-11.5 47h0m5.1 -39.5h0m6.9 -21.9h0m-13.9 4.2h0m19.9 78.3h0m-24.5 -70h0m-3.5 -25.1h0m-8.6 28.1h0m26.5 40.6h0m20.7 -9.1h0m-13 -8.1h0m7.9 -6.9h0m-15.9 -14.4h0m-4.1 -14.5h0m8 1.4h0m-15.8 53.2h0m0.9 -40.8h0m22 9.4h0m-26.3 23.8h0m38.9 -16.2h0m0.3 -11.7h0m-32.3 5.4h0m25.1 -23.1h0m5 56.1h0m-15 9.5h0m9.8 -5.7h0m-5.6 6.4h0m2.8 -66.5h0m-12.4 -8.9h0m13.1 8.8h0m-32.7 15.6h0m28.5 0.6h0m-0.1 16.3h0m-19.1 10.1h0m7.3 35.2h0m10.5 -64.4h0m-11 43.2h0m-20 -25.1h0m-1.1 -30.3h0m19 -9.9h0m8.7 18.8h0m-10.4 -21.1h0m23.3 46.7h0m-27.9 -5.6h0m15.6 18.1h0m-1.9 -13.4h0m-24.7 -14.8h0m39.7 22.6h0m-3.3 2.8h0m-12 -24.2h0m3.8 -28.6h0m-3.4 76h0m1.9 -13.9h0m-17 -43.2h0m-7.7 -6.8h0m3.7 39.7h0m19.7 -29.1h0m-5.3 24.4h0m-8.7 -34.9h0m21.2 -2h0m-11.6 48.6h0m8.1 -44.3h0m7.6 -0.5h0m-4.8 25.7h0m1.4 2h0m1.2 18.7h0m-11.6 -31.7h0m5.9 -1.1h0m4.6 -11.8h0m-13.4 36.6h0m-15.5 1.7h0m17.5 10.1h0m1 -61.5h0m-6.2 46.2h0m-1.1 -46.4h0m26.8 18h0m-11.5 5h0m-26.5 3h0m31 42.7h0m8.5 -21.5h0m-21.4 6.4h0m-23 -1.7h0m2.3 -61.4h0m2.1 38.5h0m0.5 17.6h0m33.2 -21.2h0m2.8 -13h0m-19.6 32.8h0m-21.1 -47.2h0m37 51.4h0m-33.9 -23.7h0m2.6 -7.3h0m25 14.7h0m2.8 23h0m-8.8 -39.9h0m-5.5 23.3h0m13.3 24.6h0m-16.8 -26.1h0m20.2 2.6h0m-34.4 -19.9h0m27.4 42.7h0m11.9 -22.6h0m-42.8 6.1h0m40 -25.8h0m-44.1 -10.5h0m18.6 13.4h0m29.3 -3.6h0m-8.1 -17.7h0m5.1 29.7h0m-34.6 -37.1h0m6.3 79.6h0m-3.5 -19h0m13.9 -55.8h0m8 73.1h0m-30.8 -20.7h0m36.8 5h0m-4.5 -14.1h0m5.7 -16.9h0m2.6 27.4h0m-37.9 -29.9h0m30.8 -9h0m-26.4 18.9h0m19.3 -14.5h0m-3.8 24.2h0m-3.4 20.5h0m-2.1 -70.9h0m-3 17.5h0m12.5 27.2h0m1.1 20.2h0m-7.1 -66.3h0m8.1 22h0m-15.4 0.7h0m6.9 -9.5h0m11.5 47h0m-3.9 -30.8h0m3.6 26.2h0m8.6 -37.4h0m-20.9 8.2h0m15.4 4.9h0m10.7 19.3h0m-16.4 24.5h0m10.7 -1.9h0m-35.1 -20.5h0m12.5 -50.2h0m18.6 76.7h0m-22.8 -40.5h0m12 37h0m9.6 -34.9h0m6.2 -19.3h0m6.7 14.8h0m-2.6 10.4h0m-48.5 -34.4h0m29.7 18.7h0m-28.9 -2.3h0m-0.5 7.5h0m-1.3 -36.2h0m5 6.3h0m32 52.4h0m-13.8 30.7h0m19.8 -36.4h0m-1.7 -22.9h0m-12.6 39.5h0m14.1 -2.8h0m-27.8 -30.8h0m28.4 -1.4h0m-22.6 53.1h0m-2.5 -66.9h0m26.9 55.5h0m3 -45h0m-19.9 46.7h0m11.2 -23.4h0m-30.3 -50h0m17.3 22.2h0m10 61.7h0m-15.7 -26.4h0m-3 -54.2h0m8.7 -2.2h0m8.7 86.2h0m-30.5 -63.9h0m10 -19.5h0m18.9 60.9h0m-11.3 -5.5h0m9.7 9.5h0m-2.9 9.9h0m-6.5 -31.6h0m13.8 31.2h0m7.7 -17.4h0m-26.6 -52.4h0m4.9 -12.4h0m0.3 50.8h0m-1.9 26.9h0m19.3 11.3h0m-21 -42.7h0m14.4 -22.1h0m-31.2 21.8h0m27.2 -15.3h0m-22.8 -6.6h0m2.4 -29.6h0m12.1 63.4h0m16.1 -30.4h0m-8.4 -26.8h0m-1.6 84.4h0m-26.3 -53.7h0m22.6 43.6h0m-12.8 -31.1h0m-3.4 -35.9h0m28.9 67.1h0m-3.4 -2.7h0m-12.7 12.6h0m-9.8 -66.4h0m-6.3 26.7h0m28.9 -4.5h0m-18.9 -34.2h0m23.1 7.6h0m-27.3 41.1h0m17.5 -19.6h0m21.7 0.6h0m-44.7 7.5h0m2.4 -10.5h0m10.5 -31.5h0m7.5 50.6h0m7.6 -34h0m-4.5 -0.8h0m-23.3 22.7h0m26.7 -9.3h0m-8.2 -32.3h0m1.4 12.7h0m-5.8 29.2h0m30 -17.1h0m-23.9 32.3h0m10.7 -29.2h0m0.5 -17.3h0m2.5 57.3h0m7.6 1.9h0m-29.7 7.5h0m-3.5 -26.2h0m-1.5 22.5h0m5.6 -56.4h0m7 -3.5h0m1.2 58.8h0m-1.1 6.8h0m19.4 -26.1h0m-1.6 21.6h0m-9.3 5.4h0m-6.1 -46.1h0m22.9 37h0m-19.1 -58.8h0m2.5 23.2h0m14.4 28.8h0m-48.6 -36.4h0m20.5 -15.8h0m14.8 80h0m-0.2 -42.6h0m5.4 6.7h0m-4.9 -35.4h0m-29.8 18.2h0m-5.5 -29.4h0m35.2 10.2h0m-34.7 -13h0m20.5 32.4h0m19 22.2h0m-20 -43.3h0m3.2 5.9h0m21.4 14.1h0m-23.7 3.3h0m-21.1 -23.9h0m48.1 41.8h0m-7.1 4.6h0m-34.5 -42h0m13.7 44.6h0m8.9 -35h0m9.5 50.8h0m4.6 -21.2h0m2.8 -30.1h0m-0.8 -17.4h0m-20.5 17h0m1.8 -13.8h0m-2.6 23.5h0m6.4 -33.7h0m-6.2 19.1h0m10.4 16.5h0m4.1 -17.7h0m-33.4 19.1h0m19.1 3.1h0m-6.2 26.8h0m10.5 -43.7h0m-3.3 -28.2h0m-4.7 27.9h0m22.8 36.1h0m5.3 11.8h0m0.8 -32.3h0m-8.2 45.1h0m1.5 -8.6h0m5.1 -46.9h0m-22.9 39.5h0m7.5 -43.8h0m12.8 12.9h0m-10 4.8h0m-17.8 -34.5h0m21.3 72.4h0m7.3 -9h0m-36.3 -16.1h0m11.6 -54.2h0m10.7 49.1h0m-0.4 34.6h0m8.6 -79.8h0m-17.8 77.6h0m20.7 -23.5h0m-29.8 11.2h0m7.2 -64.5h0m-2.3 30.3h0m-10.4 -33.9h0m6.6 27.4h0m15.5 46.4h0m5.6 -58.8h0m7.7 56.3h0m-29.4 -21h0m30.1 -29.1h0m-16.2 -28.6h0m12.1 76.7h0m-7.7 -12.4h0m-8.9 -36.6h0m16.6 -19.4h0m-15.1 -2.4h0m3.6 6.3h0m-0.9 63.5h0m2.9 -8.9h0m-2.9 -46.2h0m-12.6 37.2h0m-1.8 -26.1h0m18 52.6h0m16.6 -37.2h0m-34.7 -1.9h0m17.4 49.7h0m7.5 -25.9h0m-7.3 1.2h0m14.9 -8.3h0m-6.1 -2.2h0m-7.5 2.5h0m0.9 -30.5h0m14.6 22.2h0m-5.4 -40h0m-15.5 14.7h0m-0.4 -17h0m1.6 40.6h0m10.7 -27h0m-1.9 -9.4h0m-11.1 16.2h0m-4.5 0.9h0m4.2 36.5h0m12.1 -24.5h0m-3.9 -2.6h0m6.7 3.8h0m-12.6 10.9h0m3 -27.7h0m-23.8 9.5h0m18 10.8h0m14.3 21h0m-22.7 -33.1h0m-0.4 -30h0m17.9 82.9h0m4.8 -21.4h0m1.2 -54.5h0m-13.9 45.2h0m10.2 -47.3h0m2.9 46.5h0m-6.5 -13.3h0m-0.1 29.2h0m14.9 -56.8h0m-27.8 23.9h0m3.9 42.8h0m18.4 1.7h0m-15.5 -58h0m11.4 31.9h0m0.7 -44.3h0m-4.3 -0.1h0m-4.2 54.4h0m12.6 -2.1h0m-7.5 13.1h0m12.8 -53.8h0m-10.9 12h0m-38.2 -23.3h0m5.3 -8.7h0m41.8 67.6h0m-2.8 -16.3h0m-44.5 -33.4h0m12.7 -11.3h0m27.7 45h0m-27.3 -10.4h0m40.9 14.8h0m-28 -3.1h0m11.2 -6.4h0m-3 1.8h0m15.9 -4.6h0m-37 9.8h0m9.8 -15.5h0m-15.4 -20.1h0m42.4 -8.9h0m-20.9 40.5h0m-12.4 -39.5h0m24 29.7h0m-25 -40.4h0m16.4 75.4h0m-17.1 -37.5h0m-15.2 -24.1h0m39.6 0.3h0m-8.8 30.8h0m-9.6 0.3h0"/><path id="p112" vector-effect="non-scaling-stroke" d="M125.9 238.5h0m-14.3 7.8h0m16.9 -40.1h0m-24.4 -5.7h0m9.7 10.1h0m-3.9 17.2h0m-13 -37.4h0m26.6 21.5h0m-31.1 23.3h0m40.4 2.5h0m-8.9 -48.8h0m-5.9 23h0m-12.3 -8.8h0m1.5 -19.7h0m8 54.9h0m-1.1 -60.9h0m13.8 58.1h0m-23.6 17.1h0m24.3 -36.8h0m-23.2 -19.2h0m16.8 -10.8h0m-24.6 1.4h0m38.9 20.8h0m-31.6 -22.8h0m7.7 68.2h0m2 -63.9h0m-13.4 65.7h0m17.2 -54.2h0m2.4 49.7h0m-7.2 -2.8h0m-1.1 20.1h0m4.2 -67.1h0m-5.8 52.6h0m-3.7 -12.2h0m3 -10h0m8.9 1.1h0m3.8 -6.2h0m-1 40.3h0m-14.3 -36.5h0m-3.2 19.6h0m2.7 -17.8h0m23.5 -5.3h0m-29.1 -21.7h0m14.7 -27.5h0m-8.5 42.9h0m4 37.7h0m-4.1 -76h0m19.9 2.9h0m4.2 12.4h0m-5.4 66.4h0m-27.9 -46.2h0m9.6 35.5h0m-28 -47.6h0m25.3 47.8h0m14 -28h0m-8.4 -30.2h0m11.9 -2.5h0m3.1 37.5h0m-1.9 25.6h0m-10.7 -50.3h0m12.1 28.2h0m-25.6 -54.8h0m25 14.9h0m-2.2 13.5h0m-36.5 -30h0m9.4 61.6h0m28.8 -7.8h0m3.3 15.2h0m-34.4 -32h0m24.6 11.4h0m17 -18.4h0m1.4 12.4h0m-8.6 -27.5h0m-13.8 23.6h0m-12.5 -2h0m16.2 10.9h0m-20.7 11.4h0m15.5 -53.6h0m-2.6 0.6h0m11.7 55.6h0m2.5 -44.1h0m-18.3 61.8h0m-7.4 -28.9h0m4.3 -18.5h0m24.7 -2.9h0m-14.4 6h0m12.1 -8.5h0m-2.2 51.5h0m-1.5 -71.3h0m-8.2 70.5h0m-13.7 -31.5h0m33.3 23.2h0m-16 -39.4h0m1.5 45.5h0m-40.9 -61.8h0m44.3 23.6h0m-18 34h0m28.4 -51.9h0m-30.6 62.2h0m5.7 -27.4h0m15.1 -35.9h0m5.4 27.3h0m-13 -7.6h0m0.6 31h0m-16.2 -7.7h0m17.2 -36.7h0m17.1 42.2h0m-14.3 -8.5h0m-3.9 24.4h0m11.4 -5h0m-16.2 -26.1h0m15.4 5.6h0m2.9 17.3h0m-24.3 -51.7h0m13.7 2.8h0m-25.3 -19.3h0m18.2 62.5h0m-5.8 -27.5h0m17.1 4.6h0m11.3 -13.5h0m3.3 18.9h0m-11.6 -17.5h0m-28.4 -30.2h0m-1.8 45.3h0m28.5 23.5h0m-22.9 -18.2h0m18.3 -3.6h0m-35.4 -35h0m37.8 -1.5h0m-31 -15.9h0m-6.5 20.9h0m22.9 -3.6h0m28 43h0m-39 -54.7h0m12.7 4.5h0m-1.2 16.7h0m3.6 60.7h0m-17.2 -52.1h0m-9.8 2.6h0m29.5 10.3h0m2.3 -1h0m-9.7 -35.1h0m-1.9 34h0m6.7 -1.2h0m8.8 41.6h0m-6.7 -79.3h0m7.3 83.4h0m14.9 -69.2h0m-28.1 30.4h0m8.8 2.4h0m9.2 -11.5h0m-22.3 13.6h0m4 17.9h0m20.2 3.1h0m0.6 -41.4h0m-18.1 14.7h0m17 16.1h0m0.5 -28.6h0m10 -3.9h0m-14.2 11.4h0m7.9 34.2h0m-16.4 -40h0m-9.3 5.4h0m21.3 31.7h0m-21.5 5.8h0m-8 -36.4h0m19.2 22.3h0m-14.8 -59h0m8.7 -4.6h0m9.8 75.9h0m3.4 -46.6h0m-12.8 -25.3h0m12.7 61.6h0m-10.7 13.9h0m-1.9 -16.7h0m8.1 -32.4h0m2.1 -6.6h0m11.8 9.2h0m2.4 -7h0m-17.7 25.7h0m-6.7 -33.6h0m-16.5 35.1h0m5.7 -25.3h0m17.4 57.5h0m15 -57.3h0m-23.9 27.1h0m13.4 15.8h0m1.9 -1.6h0m-5 -37h0m-7.1 -17.4h0m1.4 12.5h0m-18.9 -31.4h0m28.9 29.4h0m-2.4 12.7h0m-26.2 -10.7h0m1.4 -15.1h0m2.1 48.9h0m25.9 -14.3h0m-36.9 -18.5h0m1.1 -14.4h0m20.1 -11.7h0m-8.3 27.8h0m20.4 2.7h0m0.8 4.2h0m-14.8 -34.9h0m0.1 41.3h0m24.8 -18h0m-26.8 32.8h0m11.8 -19.8h0m13.3 40.7h0m-11.3 -12.4h0m7.4 -14.2h0m-5.1 -25.3h0m-33.9 -25.6h0m45.9 67.4h0m-23.4 -59.7h0m-1.8 48.7h0m21.4 -31.1h0m-16.2 25.3h0m22.1 -19.5h0m-51.6 -0.4h0m32.8 -16h0m5.6 44.4h0m-20.5 -42h0m12.3 -19h0m-12.2 39.1h0m19.2 30.6h0m-6 -51h0m2.1 31.4h0m5.8 4.9h0m-4.9 -57.6h0m11.2 17.7h0m-15.9 -15.2h0m6.8 23.8h0m9.3 41.1h0m-9.1 -45.5h0m-23.3 21.3h0m27.4 -38.8h0m-8.5 20.3h0m-18.1 19.7h0m30.6 20.2h0m-13.3 -13.4h0m8.7 25.7h0m-32.7 -71.2h0m14.3 25.9h0m2.7 12.1h0m16.3 -4.3h0m-9.6 -22h0m5.5 21.3h0m-20.9 -26.8h0m-3.4 19.1h0m-9.3 10.8h0m21.6 -31.5h0m14.1 13.9h0m-1.7 7.6h0m-16.1 45.6h0m18.4 -1.7h0m1.8 6.1h0m-32.4 -74.1h0m24 80h0m-10.6 -83.1h0m-26.6 6.2h0m36 -0.7h0m-12 23.6h0m15.5 25.6h0m-20 -53.7h0m22.3 29h0m1.1 -5h0m-10.7 38.4h0m-12.8 -27.9h0m20.2 15h0m11.8 -21.6h0m-14.8 -6.2h0m13.8 45.5h0m-3.8 -47h0m-34.5 -18.7h0m34.7 56.7h0m1 7.6h0m6.7 -30.7h0m-9.3 33.7h0m3.7 -65.5h0m-24.5 49.9h0m10.2 14.8h0m18.6 -35.5h0m-19.2 -23.6h0m8.9 62.6h0m-20.5 -56.4h0m10.2 51.2h0m9.8 13.1h0m-4.7 -74.3h0m-6.6 18.8h0m18.2 17h0m-1.8 23.1h0m-13.9 1.2h0m23.5 -36.4h0m-7.6 -16.3h0m-18.2 -5.3h0m-17.7 2.3h0m-5.5 25.7h0m34.5 -22.9h0m2.1 -6.9h0m6.6 46h0m-42.9 -60h0m8.5 7.1h0m13.5 63.4h0m8.3 9h0m12 -48.7h0m-13.1 28.9h0m-1 -45.1h0m-10.8 -12.8h0m31.9 29.1h0m-17.3 15.2h0m-7.6 -13.5h0m-18.5 -3.2h0m23.2 -2.2h0m17 28.1h0m-34 -22.2h0m30.3 14.4h0m-39 -34.2h0m-0.8 1.9h0m14.9 6.5h0m18.5 -8.2h0m-20.2 42.8h0m30.8 -19.2h0m-10.5 11.2h0m1.9 -14.2h0m-20.1 -10.5h0m-23.5 7.6h0m40.9 27.5h0m-17.7 20.9h0m-0.2 -42.3h0m21.7 -0.5h0m-9 28.8h0m19.3 -14h0m-42.9 -26.2h0m28.3 21.3h0m-34.1 -46.5h0m11 20h0m7.6 -0.8h0m12.8 12.5h0m-18.7 -24.2h0m-8.2 7.3h0m23.7 58.7h0m7.7 13.7h0m-28.3 -27.3h0m13 13.3h0m24.9 -50.3h0m-10.2 65.1h0m-1.3 -19.8h0m-34.1 -60.3h0m46.5 30.1h0m-2.6 24.6h0m-23.7 -50.5h0m-14.8 11.3h0m30.7 1.4h0m-38 5.7h0m46.2 12.7h0m-11.8 33.9h0m-2.7 -36h0m-22.6 -39.3h0m37 15.7h0m-28.4 53.1h0m1 6h0m14.5 -27.1h0m-18.9 21.6h0m1.6 2.2h0m10.5 7.6h0m-4.4 -34.2h0m9.1 -0.9h0m13 8.1h0m4.4 -2.3h0m-13.5 6.2h0m-0.4 -48.4h0m-19.9 30h0m23.1 -9.5h0m-27.3 -5h0m35.8 -2.1h0m-16 56.3h0m4.7 -20.6h0m-3.5 -51.4h0m-2.3 35.5h0m-7 -25h0m11.6 45.1h0m5 -54.8h0m-32.1 29h0m38.6 6.6h0m-39.4 -1.4h0m7.6 5.4h0m6.7 18.5h0m25.6 -21.4h0m-17.6 16.8h0m-33.3 -53.7h0m25.7 30.9h0m14.7 25.9h0m-26.9 -48.3h0m7.9 36.4h0m8.6 -47.5h0m10.8 71.3h0m-26.4 -4.6h0m24.3 -60.8h0m-39.6 9.3h0m13.8 -2.9h0m10.7 63.9h0m-1.9 -81.5h0m7.1 46.9h0m-6.1 -35.6h0m13.4 38.3h0m2 -10.5h0m-35.6 -17.6h0m52.1 14h0m-40.3 -5.6h0m13.7 55.8h0m-2.2 -55.6h0m6.3 -12.2h0m10.3 30.9h0m-6.5 38.1h0m-17.8 -36.2h0m-2.1 -29.3h0m19.4 15.4h0"/><path id="p200" vector-effect="non-scaling-stroke" d="M219.3 104.9h0m-9 31.9h0m3.9 -19.4h0m-4 14.9h0m9.8 1.5h0m0.2 -19.2h0m-9.7 -11.7h0m9.7 7.3h0m-6.2 -10.4h0m-4.5 0.9h0m-3.2 31.6h0m4.9 -17.8h0m2.6 8.4h0m-9.4 -7.7h0m10.5 10.5h0m-1 -21.7h0m-18.1 27.2h0m7.5 2.1h0m5.2 -7.6h0m3.9 0.3h0m0.5 0.2h0m-17.8 -1h0m8.9 -24.5h0m14.6 26.3h0m-15 -0h0m15.8 -10.3h0m-15.3 4.7h0m8.4 -4.7h0m1.7 16.8h0m3.2 -12.5h0m3.8 5h0m-18.8 9.3h0m-4.5 -31.1h0m16.9 23.9h0m6.5 -0.4h0m-25.4 -19.4h0m28 13.3h0m-19.5 -17.3h0m-4.1 16.4h0m7.1 -21.7h0m2.7 20.6h0m14.6 2.2h0m0.3 -6.5h0m-32.2 -2.5h0m24.9 6.7h0m-20.9 -3.9h0m13.4 19.7h0m-6.7 -31.6h0m9.2 30.1h0m6.9 -11.5h0m-26.7 -0.2h0m31 -5.8h0m-16.3 -6.5h0m3 7h0m-14.3 -6.5h0m18.9 14.2h0m6.3 6.9h0m-1.9 -22.6h0m-8.3 26.2h0m0.6 -25.6h0m4.6 4.1h0m-3.5 20.5h0m-3.6 -16h0m14.2 1.4h0m-10.2 8.2h0m12.7 -3.6h0m-7.4 -0.8h0m-5.7 -9.9h0m1.3 -3.2h0m-4.3 10.5h0m-0.5 -17h0m5.5 24.5h0m-12.1 6.9h0m13.7 -18h0m-22.7 13.7h0m5.5 -21.1h0m-3.8 12.2h0m4.7 -2.5h0m25.4 0.7h0m-29.7 1h0m-0.3 11.6h0m-2.6 -9.3h0m16.7 -15.4h0m4.5 28.7h0m0.1 -34.8h0m-2.8 21h0m3.8 -8.2h0m-16.1 5.4h0m20.8 -15.3h0m-24.4 18.4h0m18.2 -1.7h0m-10.4 -11.8h0m5.8 25.4h0m13.3 -20.5h0m-6.2 -10.3h0m-0.7 12.9h0m4.6 9.3h0m-19.6 -3.6h0m9.4 8.4h0m5.3 3.7h0m-24 -19.9h0m4 7.9h0m7.9 6.9h0m8.9 7.4h0m-0 -14.8h0m0 -16.8h0m-6.3 5.8h0m17.9 0.5h0m-6 6.5h0m3.1 -2.5h0m-21.8 -11.6h0m-5.7 12.3h0m0.4 10h0m21.5 -7.9h0m-10 -3.8h0m16.2 7.6h0m-24.3 -3.5h0m4.5 13.3h0m11.9 -32.4h0"/><path id="p201" vector-effect="non-scaling-stroke" d="M218.6 131.1h0m-24.5 -3.8h0m3.4 -10.1h0m-5.2 -3.7h0m8 -6.4h0m20.9 11h0m-4.2 13.9h0m-20 -5.6h0m6.9 -19.6h0m-7.3 24.8h0m26.7 -13.4h0m-14.8 20.2h0m4.8 -5.1h0m8.8 -8.4h0m-2.2 0.6h0m1 -3.4h0m-10.4 -13.9h0m1.4 28.9h0m-12.7 -10.8h0m2.2 -3.5h0m15.9 15.5h0m-8.2 -13.1h0m-6.1 14.9h0m6.6 -0.6h0m-4.3 -24.6h0m-12.6 4.7h0m22.4 18.8h0m-12.5 -29h0m22.3 15.1h0m-7.2 8.1h0m-20.2 -22.6h0m10.1 -7.7h0m1.5 11.1h0m2.1 19.3h0m9.5 -8.5h0m-16.8 -22.5h0m-6.9 31.3h0m21 -30.3h0m-13.5 35.4h0m12.2 -11.4h0m-12 -17.2h0m-11.5 2.3h0m10 5.8h0m17.6 -0.3h0m-7.2 -11.4h0m-17.6 10.4h0m19.7 17.5h0m-4.8 -30.7h0m9.5 28.1h0m-1.7 -18.5h0m-25.1 13.1h0m11.5 -17.9h0m18.8 3.3h0m1.8 5.5h0m-12 2.1h0m6.5 12.8h0m-9 -5.8h0m7.8 0.7h0m-25.6 -2h0m16.6 0.7h0m7.5 -11.3h0m-17.2 12.5h0m15.1 -6.9h0m-8.4 -1.3h0m9 3.5h0m-10.2 -19.5h0m2.3 26.3h0m4.8 -8.5h0m-10.1 11.7h0m18.4 -4.6h0m-10.6 -22.1h0m-16.2 22.3h0m1 8.1h0m0.6 -9.9h0m9.2 10.4h0m3.7 3h0m-2 -19.4h0m-5.6 -3.8h0m-0.2 6.6h0m17.6 -4.5h0m-12.6 10.5h0m-0 -13.5h0m1.1 19.2h0m10.9 -12.6h0m-5.1 6.5h0m9.7 -11.9h0m-7.1 -1.9h0m-1.2 7.6h0m3.1 0.8h0m-9.4 -19.7h0m-1.6 38h0m10.8 -28.2h0m-13.9 4.2h0m18.5 -1.7h0m-19.9 -6.3h0m2.9 -1.2h0m-4.1 16.1h0m-4.8 -13.5h0m14.2 6.2h0m-5.2 11.2h0m6.7 -14.9h0m-20.8 14h0m16.2 -11.7h0m-8 -1.4h0m12.3 12h0m7.6 11.8h0m-0.6 -12.7h0m-13.5 -23.7h0m6.7 16.4h0m-4.2 -7.1h0m-6.7 20.5h0m4.1 -10.3h0m-9.3 5.8h0m14.5 -16.4h0m10 14h0m-2 1h0m-9.4 -10.1h0m10.9 18h0m4.1 -11.4h0"/><path id="p202" vector-effect="non-scaling-stroke" d="M201.6 107h0m11 -0.6h0m-15.8 10.1h0m27.5 9.4h0m-23.9 -13.2h0m8.4 20.6h0m11.4 -4.4h0m-5 -9.5h0m16.9 -16h0m-5.1 19.6h0m9.1 -10.4h0m-14.4 2h0m13.9 -9.6h0m-4 16.5h0m7.3 -7.5h0m-6.2 12.5h0m-4.9 -15.5h0m1.5 -0.6h0m3.6 -6h0m-2 7.2h0m4.2 2.4h0m-1.6 2.7h0m-10.4 -4.3h0m0.7 4.7h0m12 -4.7h0m-1.8 15.2h0m-2.1 -18h0m-3.4 14.3h0m-2.4 2.9h0m12.4 -12.3h0m-5.8 4.6h0m-0.2 1.1h0m9.9 -7.2h0m-6.6 4.8h0m2.7 -6.1h0m-4.8 7.4h0m-10.4 -7.8h0m9.7 -5.7h0m-7.7 1.8h0m4.5 15.1h0m-1 -3.7h0m4.6 -14.3h0m1.2 -1h0m-12.1 12.6h0m16.1 6h0m-11.2 -3.2h0m7.1 -14.8h0m-4.1 13.2h0m0.2 -7.9h0m9.4 4.8h0m-1.5 -8h0m-8.4 -1.2h0m7.2 17.3h0m-2.8 -17.4h0m-0.2 3.1h0m-5.2 14.1h0m2.6 -2.8h0m-4.6 -3.1h0m4.6 -2.5h0m-5.1 4.2h0m11.1 -0.7h0m-13.1 -5h0m8.4 8.4h0m-1.6 -1.8h0m5.7 4.1h0m0.6 -8h0m-4.1 -7.5h0m0.3 18.5h0m-2.3 -12.1h0m-5.2 9.5h0m15 -10.8h0m-11.9 -0.5h0m6.7 -3.3h0m-8.8 5.4h0m6.7 5.3h0m2.5 -6.9h0m-4.4 2.5h0m3.7 -4.9h0m-1.6 5h0m-1.2 -9.9h0m6.3 8.3h0m-6.1 -2.4h0m-7.6 -1.8h0m11 0.3h0m-2.8 2.3h0m0.1 13.8h0m-10.1 -14.1h0m13.2 3.9h0m0.3 4.7h0m-12.8 4.8h0m-8.6 20.2h0m15.6 -4.9h0m-15.5 15h0m3.7 -15.3h0m5 -3.9h0m7 5.1h0m-30 -1.2h0m31.2 -6.6h0m-24.1 3.9h0m19 -0.1h0m18 11.7h0m-39.7 -11.6h0m9.8 2.6h0m11 -4.7h0m-15.3 15h0m-5.7 -8.9h0m6.1 2.9h0m25.7 -5.8h0m-9.3 11.3h0m4.4 -11.6h0m2 -4.7h0m-0.3 21.3h0m-20.9 -5.9h0m21.4 -6.7h0m-0.7 12.5h0m9.3 -8.9h0m-39.5 -5.7h0m6 2h0"/><path id="p210" vector-effect="non-scaling-stroke" d="M213.3 139.8h0m-2.8 -18.3h0m-7.6 -17.1h0m1.2 21.2h0m4.8 -26.3h0m-1.1 21.4h0m-6.3 -6.7h0m6.7 15.3h0m14.3 -8.3h0m-23.5 1.2h0m11.9 -6.6h0m2.6 17.4h0m7.1 -25.4h0m-18.9 12.9h0m1.1 4.7h0m-0.3 -8.7h0m-4.8 8.9h0m1.7 3.4h0m20.7 -11.6h0m-12.2 -7.9h0m-3.8 4.9h0m1.5 14.6h0m-4.3 -13.6h0m11.3 1.4h0m-15 2.8h0m-2.4 5.6h0m7.2 -15.4h0m4.9 16.5h0m3.2 -22.6h0m-1.6 6.9h0m-0.2 3.8h0m-7.9 6.8h0m-5.6 -7.3h0m4.7 6.5h0m21 3.5h0m-14.6 -2.4h0m3.8 0.3h0m8.6 10h0m-20.7 -14.4h0m13.1 -1.2h0m-0.3 23.7h0m-12.9 -2.3h0m1.7 -14.1h0m6.5 -10.8h0m8.4 -2.2h0m2.2 9.8h0m5.9 5.1h0m-8.8 -9.3h0m1.2 -9.5h0m-13.8 -5.1h0m0.1 38.4h0m17.8 -31.5h0m-11.4 4.5h0m-4.5 21.3h0m-5.4 -8.1h0m6.6 12.7h0m3.1 -33h0m1.9 23.9h0m-16.9 -10.4h0m19.8 -17.8h0m-15.1 21.9h0m20.2 8.8h0m-10.4 -22.6h0m5 5.3h0m-7.8 13.9h0m-13.1 -5.7h0m6.5 6.6h0"/><path id="p211" vector-effect="non-scaling-stroke" d="M206.9 128.5h0m-2.7 -14.8h0m-8.3 15.7h0m-1.3 -13.2h0m10.2 6.6h0m6.2 -9.7h0m10.5 10.8h0m-17.8 -8.2h0m19.2 1.5h0m-3.5 15.4h0m-11.2 -23.1h0m2.2 -1.8h0m1.1 17.5h0m-12.2 -9.7h0m14.4 -8.2h0m-10.3 12.3h0m-5.9 14h0m22.1 -21.2h0m1.7 16.3h0m-12.5 -3h0m6.5 -3.6h0m-15.7 -3.4h0m9.5 -19.2h0m-0.9 18h0m-4.8 21.3h0m14.9 -21.9h0m-9.9 -5.2h0m-17.7 10h0m7.8 6.1h0m22.5 -5.9h0m-30.6 -6.5h0m5.4 -8.9h0m24.8 7.2h0m-5 5.6h0m-5.7 -4.6h0m3.7 -11.3h0m5 17.5h0m-11.5 0.8h0m-4.3 3.1h0m2.7 -6.9h0m-5.6 3.7h0m3.9 12.4h0m3 2h0m-9.2 -21.7h0m0.9 -2h0m9.7 -5.2h0m10.4 9.3h0m4.2 -3.6h0m3.3 8.1h0m-28.2 2h0m8.4 -20.1h0m-2.7 27.7h0m4.6 -13.6h0m-15.7 14.3h0m15 -18.8h0m8.4 10.1h0m-5.8 13.6h0m5.6 -12h0m0.6 15.2h0m-16.3 -32.5h0m15.4 6.9h0m-11.6 22.9h0m8.5 -6.1h0m-13.2 -8.8h0m16.8 -14.5h0m2.4 16h0m-11.1 11.6h0"/><path id="p212" vector-effect="non-scaling-stroke" d="M242.6 113.7h0m-13.4 9.5h0m6.1 -5.1h0m-7.7 -10.8h0m7.6 9.7h0m-1.3 -6.6h0m-8 -3.1h0m1 16h0m4.4 2.7h0m4.7 -0.8h0m-10.4 -10.5h0m4.4 4h0m0.3 3.4h0m-3.8 -9.2h0m9.1 -2.6h0m-1.4 3.2h0m-2.8 -9.6h0m5.6 21h0m-4.5 0.7h0m-1.7 -7h0m-4.2 5.9h0m10.9 -1h0m-0.3 -11h0m1.2 6.4h0m-5.6 9h0m5.1 -18.1h0m-3.8 -6h0m-4.6 9.7h0m3.3 0.3h0m0.3 14.9h0m6.9 -12.3h0m1.5 1.1h0m-9.2 -3.7h0m5.3 9.1h0m-9.9 -9.4h0m3.6 4.1h0m1.4 -5.9h0m-5.3 9.9h0m15 -6.4h0m-11.9 -8.2h0m11 11.9h0m-7.1 -7.6h0m-4.2 -2.1h0m-6.8 -1.3h0m7.8 11.2h0m8.1 -7.2h0m-7.4 -7.5h0m6.8 2.8h0m-14.9 49.2h0m7.6 -2.5h0m12.4 -10h0m-17 4.4h0m-14.7 0.8h0m23.2 -14.7h0m-5.4 21.1h0m-16.8 -16.6h0m12.8 -2.6h0m15.6 13.7h0m-2 2.2h0m-10.1 -0.4h0m-23.6 0.2h0m30.9 -14.4h0m-31.5 17.5h0m28.7 -14.8h0m0.7 8.4h0m2.1 -10.4h0"/><path id="p300" vector-effect="non-scaling-stroke" d="M230.4 157.3h0m-1.2 -10.4h0m3.6 13.1h0m-7 -5.6h0m17.4 -11.1h0m-31.9 -0.6h0m33.7 3.1h0m-5.7 3.3h0m-31 7.4h0m28.1 4.1h0m5.1 -10.8h0m-7.4 2.1h0m-3.7 7.2h0m-1.3 -1.6h0m-8.8 -16.8h0m-8 15.4h0m5.1 -11.6h0m26.9 19.4h0m-4.3 -2h0m-27.9 -15.2h0m-5.1 6.6h0m29 6.2h0m10.1 4.8h0m-27.1 -12.8h0m6.9 5.8h0m1.2 1.5h0m15.4 -9h0m-35.7 4.9h0m21.1 -11.3h0m-17.9 12.4h0m18.9 -4.7h0m11.1 3.6h0m-20.6 2.8h0m14 -8.4h0m-12 -4.6h0m-9 11.3h0m5.6 28.7h0m-3.5 -11.7h0m31.7 0.5h0m-30.9 -4.9h0m33.2 21.3h0m-7.3 -32.1h0m-23.7 18.8h0m16.9 13.2h0m5.9 1.5h0m1.2 -2.2h0m-15.1 -17.1h0m-11 21.2h0m2.8 -19h0m9.8 -4.6h0m-12.6 4.2h0m4.6 22.6h0m17.7 -3.5h0m5.4 -30.4h0m-16.4 -1.5h0m-16.6 28.4h0m18.6 -28.4h0m-9.6 -1h0m0.2 31.4h0m3.9 -4.9h0m-7.9 -23.4h0m-3.1 32.1h0m20.5 -29.3h0m0.6 -1.8h0m15.9 12.6h0m-3.3 2.7h0m4 -6.2h0m-31.4 10.6h0m4.6 24.7h0m23.5 -18.1h0m-7.4 -6.4h0m-6.6 -7.5h0m-4.9 -3.2h0m-1.4 33.1h0m-1.1 -19.3h0m-9.2 -23.6h0m-3.7 29.8h0m30.1 -28.8h0m-14.8 -0.8h0m7.9 34.2h0m10.3 -14.2h0m-7 12.6h0m-12.5 -35.1h0m6.5 9.7h0m-2.1 26.7h0m9.8 -14.1h0m6.6 2.8h0m-22.9 -4.3h0m12.1 -20.4h0m-14.4 20.7h0m-3.8 24.3h0m-1.7 -21.8h0m12.2 -9.1h0m6.2 10h0m-9.9 10.7h0m17.5 -29.7h0m-24 -6.9h0m13.7 19.8h0m-18.4 6.3h0m30.5 4.9h0m-6.6 -24.4h0m-13.4 13.3h0m8.8 1h0m-20.9 9.1h0m9.5 -22.8h0m22.6 32.1h0m-14.3 2.9h0m15 -36.1h0m-35.1 24.3h0m26.3 -21.9h0m-5.9 19h0m-11.8 -7.9h0m-8.9 25h0m11.7 -4.5h0m12.1 -35.2h0m-11.5 44.1h0m-8.8 -9.8h0m8.1 -33.3h0m10.5 -5.7h0m-19.8 10.3h0m25 2.5h0m-5.4 -11.5h0m-9.2 35.5h0m15.3 -30h0m-2.6 15.5h0m-8.7 -10.6h0m-7.4 22.2h0m1.1 -30.4h0m17.7 11.8h0m-13.8 11.6h0m8.4 -22.9h0m-4.2 24.6h0m-4.9 4.9h0m12.1 -11.3h0m-7.2 0.9h0m-8.4 -17.7h0"/><path id="p301" vector-effect="non-scaling-stroke" d="M224.6 186.2h0m-1.2 -15.5h0m9.1 -6.9h0m-1 -2h0m-11.7 40.6h0m24.5 -37.8h0m-16.6 40.4h0m-5.5 -19.2h0m-11.4 -3.2h0m14.8 -21.7h0m-9.8 38.4h0m22.2 -39.6h0m-1.6 22.6h0m-5.8 -12.1h0m1.2 37.2h0m13.9 -32.9h0m-1 -9.9h0m-26.8 21.1h0m1.7 -20.7h0m12.4 -3.6h0m-4 8.1h0m-8.4 25.7h0m20.1 -9.5h0m-22 -0.4h0m21.1 -24.7h0m-22.5 31.4h0m31.3 -0h0m-9.5 -19.1h0m0.2 -9.3h0m-15.1 1.9h0m-11.7 20.6h0m17.5 -23.1h0m-19.2 10.2h0m38.8 18.6h0m-33.7 -25.1h0m2.1 4.7h0m24.5 -9.7h0m-3.6 13.1h0m-19.5 3.9h0m-3.4 20.8h0m19.4 -16.5h0m11.3 7.3h0m-22.2 -25.6h0m2.5 17.8h0m-3.3 22.7h0m-8.7 -16.9h0m12.1 -19.3h0m2.2 37.4h0m16.6 -35h0m-4 0.8h0m-27.1 -2.9h0m9.3 5.7h0m-7.2 -5.3h0m20.9 23.7h0m-25 8.9h0m34.5 -23.3h0m-34 20.1h0m4.3 -14.3h0m-6.7 -11.4h0m32.4 2.4h0m-25.6 -10.7h0m-6.9 24.5h0m11.9 5.4h0m25.4 -0h0m-10.9 -7.6h0m-13.4 3.3h0m-10.8 -11h0m1.5 -14.3h0m0.1 19.2h0m1.4 -12.9h0m20.9 1.6h0m0.9 -4.7h0m2.2 -2.6h0m-7.3 28.1h0m-8.9 -32.1h0m2.5 28.3h0m-14.2 -5.1h0m21.1 18.3h0m0.9 -13.1h0m1.2 -3.9h0m4.8 -17.9h0m6.9 -4.7h0m-34.5 41.4h0m22.6 -8.1h0m8.4 -0.9h0m-21.7 -33.9h0m18.3 25.8h0m-14 -15h0m11.8 26.6h0m-15.8 -23.6h0m5.4 -1.2h0m-4.3 9.1h0m18 -8.3h0m-16.1 0.4h0m13.8 11.8h0m-24 7h0m6.9 2.3h0m-0.6 -33.3h0m10.8 17.5h0m-3.2 1.2h0m-7.1 -20h0m14 6.7h0m4 16.7h0m-19.8 4.3h0m10.9 -8.2h0m-12.8 -21.9h0m1.7 39.4h0m8.8 -27.1h0m-6.9 -12.2h0m-1.1 5.2h0m5 38.1h0m13.7 -12.5h0m-6.9 -2h0m-1.8 10.9h0m9.1 -16.8h0m-30.6 4.2h0m1.5 -4.7h0m28.3 -23.5h0m4.6 17.9h0m-32.1 19.5h0m25.6 -3.4h0m8.2 0.6h0m-25.7 9.9h0m14.2 -42.1h0m-14.6 37.3h0m20 -1h0m10.1 -22.7h0m-33.8 7.6h0m28.4 5h0m-4.5 -25.5h0m-9.6 23.8h0m19.2 -10.8h0m-31.5 12.4h0m1.5 13.3h0m-1 1h0m0.2 -12.5h0"/><path id="p302" vector-effect="non-scaling-stroke" d="M216.7 171.4h0m4.7 -10.8h0m-5.5 7.1h0m3.6 35.7h0m13.3 -8.9h0m7.2 -10.3h0m4 0.1h0m-23.3 -24.9h0m0.3 8.6h0m4.6 -0.9h0m15.5 27.8h0m-20 -30.8h0m3 22.5h0m12.7 -9.9h0m1.4 -16.4h0m-1.1 3.4h0m-4.7 18.4h0m-23.2 12.4h0m7.5 -21h0m4.9 -10.4h0m14.2 14.7h0m-16.5 15.1h0m-9.3 -11.3h0m21.7 -6.3h0m-6 4.7h0m-8.3 21.1h0m9.2 -9.2h0m18.7 -25.9h0m-8.4 -3.7h0m-16.1 32.8h0m-7.3 -8.1h0m25 12.5h0m-24.7 -10.8h0m8.7 1.6h0m-3.4 -16.1h0m5.9 26.5h0m-11.2 -11.4h0m-5.3 5.8h0m13.7 -12.2h0m-6 11h0m15.3 -9.1h0m-10.6 -1.9h0m-8.2 16.7h0m12 -23.3h0m3.5 23.4h0m7.5 -36.3h0m-18.3 41.8h0m-5.1 -16h0m26.3 -0.7h0m-20.2 -25.4h0m26.6 31.8h0m-3.5 -5h0m-17.5 -2.5h0m-12.2 14.2h0m13.7 -30.7h0m2.8 27.4h0m-14.9 -32.6h0m16.6 4.5h0m-23.2 16.8h0m28.3 -23.2h0m-5.9 31.4h0m-6.9 11.2h0m-11.2 -18.7h0m21.8 9.9h0m9.2 -18.2h0m-12.3 29h0m-17.9 -36.1h0m14.8 -2.4h0m-14.4 8h0m29.8 -7.9h0m-30.1 -7.5h0m18.8 0.6h0m8.8 5.3h0m-17.4 22.8h0m-6.2 -26.3h0m25.6 8.7h0m-10.9 16.3h0m10.9 -23.7h0m-16.9 4h0m8.6 -2.4h0m-24.3 37h0m17.6 -29.7h0m4.4 1.6h0m-19.2 21.2h0m18.3 -6.6h0m0.3 -27.1h0m13 1h0m-10.7 24.5h0m-24.2 7.5h0m28 -11.8h0m-18.5 -19h0m24.4 11.1h0m3.1 -6.6h0m2.1 18.4h0m-19.4 -4.9h0m19.8 5.6h0m-18.2 -5.9h0m3.5 -7h0m-14.9 31.5h0m-1 -40.7h0m-3.9 17.5h0m35.5 -7.2h0m-31.3 12.4h0m9.5 0.2h0m12.2 10h0m-12.5 -14.4h0m10 -5h0m2.6 -7.3h0m-7.8 -12.1h0m-20.7 21.8h0m17.9 17.8h0m15.8 -42h0m-2.3 18.3h0m-29.9 -15.8h0m20.9 44.3h0m0.2 -42.7h0m13.9 4.6h0m-10.1 25.1h0m-29 -21.5h0m17 -1h0m-0.3 34.1h0m-5.8 -5h0m-10.3 2.4h0m7.8 -23.9h0m28.9 6.3h0m-16.2 24.6h0m18.5 -5.3h0m-0.8 3.8h0m15.7 9h0m-10.2 -4.8h0m-6.4 -4.6h0m10.4 1.1h0m-7.5 4.7h0m-5.9 -11.1h0m16.6 16.6h0m-15.4 -4.7h0"/><path id="p310" vector-effect="non-scaling-stroke" d="M202.1 146.2h0m1.8 3.5h0m30.7 5.8h0m8.4 5.3h0m-19.6 -2.6h0m15.2 -11.9h0m4.2 14h0m-21.3 -22.8h0m22.5 17.7h0m-13.3 -0.4h0m-6.1 -1.1h0m6.1 3.3h0m-15 -6.1h0m-10.4 -2.1h0m42.8 6.3h0m0.4 5.8h0m-23.7 -11.7h0m2.1 -3.3h0m-14.6 3h0m28.3 1.7h0m-9.8 -1.7h0m-14.2 -2h0m-7.7 5.8h0m31.7 -3.9h0m-14.2 4.3h0m-6.2 2.1h0m-0.3 -4.7h0m18 10.1h0m-26.6 9.8h0m28.5 -4.1h0m-15.8 1.5h0m13 31.4h0m-0.8 -15.5h0m-6.1 13h0m-6.2 -36.3h0m23.9 8.9h0m-6.7 4h0m-9.2 -3.9h0m1.3 13.3h0m2.2 -8.5h0m-4.5 -6.5h0m-6 27.5h0m11.6 -36.4h0m-2.4 -0.9h0m-8.4 49.4h0m-7.3 -48h0m4.6 7.8h0m-7.6 -2.2h0m1 24.4h0m-7.8 7h0m25 -18.4h0m7.8 -13.5h0m-5.1 29.5h0m12.4 -8.3h0m-25.1 -7.5h0m7.8 -17h0m11.6 34.4h0m-24.7 13.5h0m-7.5 -44.1h0m11.7 6.3h0m4.8 36.6h0m-17.6 -27.4h0m3 -0.3h0m-4.4 12.3h0m32.9 -6h0m-28.9 10.9h0m27.8 -22.8h0m-0.3 -10.5h0m-27.2 32.9h0m35.4 -18.7h0m-29.7 16.8h0m23.5 -29.3h0m-18.7 27.7h0m-7.3 1.8h0m17.5 -2.4h0m-6.1 9.3h0m-8.6 -26.8h0m4.2 26.2h0m23.7 -30.6h0m-2.8 5.3h0m-31 18h0m21.1 -23.5h0m-12 -6.1h0m24.9 2.9h0m-20 0.5h0m6 29.7h0m2.2 -26.1h0m-24.9 0.6h0m39.3 13h0m-10.8 -12h0m-17.5 18.4h0m17.1 -22.5h0m4 -0.8h0m-15.1 4.2h0m3.5 31.5h0m-1.9 -22.4h0m-22.7 9.7h0m38.8 -28.6h0m-17.5 27.8h0m10.5 -23h0m-12.7 19h0m-5.1 1.4h0m5.9 -10.5h0m-4.6 -4.8h0m5 12.1h0m-9.6 -1.7h0m32 -8.3h0m-37.2 -13.4h0m3.9 19.6h0m12.1 14.1h0"/><path id="p311" vector-effect="non-scaling-stroke" d="M214.9 189.1h0m19.8 -14.2h0m-4.7 12.2h0m14.1 -29.1h0m-0.1 7.9h0m-22.6 27.5h0m4.6 -3.1h0m-19.1 7h0m37.2 -11.9h0m-17.4 -25.4h0m20.1 30h0m-18.5 -9h0m15.8 1.8h0m-16.7 -12.1h0m-0.4 -9.2h0m18.1 30h0m-26.7 -26.7h0m-0.4 4.4h0m29.3 6.3h0m-1.9 1h0m-21 9.4h0m-7 21.2h0m-8.9 -28h0m4.7 -0.1h0m19.4 -10h0m-19 7.7h0m6.5 27.4h0m-1.5 3.4h0m12.3 -30.3h0m-2.3 5.7h0m4.6 13.5h0m-14.7 -14.6h0m1.2 -8.3h0m-7.8 26.8h0m21.7 -37.5h0m-15.3 5.8h0m4 30.4h0m0.7 10.6h0m14.4 -23.5h0m3.2 12.4h0m-0.8 -15h0m-18.4 -6.2h0m10.7 25.4h0m3.9 -14.1h0m7.7 -30.2h0m-24.6 5h0m-5.5 34.5h0m13.3 -35.4h0m-12.6 1.5h0m2.2 -4.7h0m20.2 17h0m0.8 -4.1h0m1.5 -4.8h0m-22.7 31.6h0m1.4 5.6h0m23.9 -19.7h0m-29.1 6.6h0m4.8 -4.9h0m12.9 7.4h0m4.6 -6.4h0m-29.2 10.1h0m44.4 -27.5h0m-22.9 33.4h0m20 -28.8h0m-22 27.2h0m-3.3 -4.2h0m15.5 -20.2h0m-13.3 24.9h0m18.8 -16.7h0m-33 -20.3h0m3.6 11.7h0m20.8 -6.1h0m-9.5 26.4h0m-7.2 -18.2h0m14.3 11.2h0m-19.3 2h0m-3.2 -23.3h0m14.6 12.3h0m6.7 1.9h0m-18.2 -2.4h0m9.2 25h0m-7 -45.5h0m30.8 27.6h0m-31.1 8.4h0m30.5 -3.9h0m-34.9 -16.9h0m25.7 24h0m5.5 -35.9h0m4.9 9.4h0m-21.4 1.8h0m-8.4 -9.1h0m30.1 -2.2h0m-28.1 19.2h0m15.2 -18.7h0m-21.4 41.4h0m3.6 -44.3h0m5.8 46.9h0m8.8 -44h0m-3.7 24.9h0m21.7 -4.8h0m-2.8 -11.8h0m-5.6 8.5h0m0.2 12.9h0m-9.4 -8.7h0m-10.2 -2.9h0m4.1 -21.6h0m0.8 6.3h0m13.2 16.3h0m-9.4 -13.4h0"/><path id="p312" vector-effect="non-scaling-stroke" d="M228.4 203.2h0m-12.2 -21.7h0m8 21h0m0.2 -22.1h0m-13.1 -6.1h0m23.1 31.5h0m8.3 -25.2h0m-5.9 -13h0m-29 31.4h0m25.3 -8.1h0m4.4 -9.4h0m1.1 -2.1h0m-28.6 14.4h0m12.6 8.3h0m12 -21.8h0m-20.6 -11.4h0m12.9 26.4h0m-0.4 8.8h0m-0.7 -40.2h0m-1.1 -3.1h0m16.4 16h0m-26 -17.9h0m9.9 17h0m-18.4 9.3h0m36.4 11.2h0m-2.7 -25.7h0m-21.8 6h0m11.4 -0.3h0m18.6 -3.3h0m-23.8 21h0m7.9 -23.4h0m-8.1 0.6h0m2.7 25.3h0m-12.7 -23.4h0m18.1 8.4h0m1.3 -5.8h0m-23.6 -8.5h0m34.2 16.7h0m-11 9.3h0m-16.8 -1.1h0m11 -16.4h0m16.9 -11.6h0m-29.4 27.3h0m16.1 -32.7h0m2 43.5h0m-4.8 -12.9h0m8.7 -2.4h0m-16.7 -7.8h0m2.7 5.2h0m8.9 -11.5h0m-17.9 -7.1h0m-2.9 6.3h0m24.1 30.2h0m-9 -25.5h0m-18.8 2.4h0m18 -1.3h0m-4.2 18.7h0m-6.6 10.7h0m24.6 -12.3h0m5.1 -21.1h0m-8.5 -7.7h0m-13.8 39.1h0m-2.7 -20.7h0m2.9 -16.9h0m-4.9 -5.4h0m-2.7 14h0m18.1 10.8h0m-1.4 11.3h0m0.8 -16.7h0m-11.3 23.6h0m-2.2 -16.2h0m-0.6 -7.2h0m2.5 -0.1h0m-0.8 -13h0m-3.8 -7.4h0m1.7 -2.1h0m17.6 15h0m-8.2 1.4h0m2.2 23.9h0m-14.6 -9.3h0m4.1 -16.3h0m-4.1 23.9h0m2.6 -39.1h0m2.9 31.5h0m-1.7 12.2h0m13 -33.3h0m-23.8 1.4h0m13.6 27.6h0m29.8 -17.4h0m-11.3 1.9h0m-17.8 15h0m-7.5 -2.8h0m19.3 -15.8h0m-5.9 -21.1h0m-9.1 34.1h0m11.4 4.6h0m-5.5 -17.4h0m24.4 40.2h0m12.8 -3.9h0m-14 2h0m-6.6 -7.8h0m18.7 9.2h0m-8.9 -2.1h0m-10.9 -9.2h0m16.6 -0h0m0.9 2.1h0m-4.3 1.2h0m8.5 6.4h0m-17 -1.2h0"/><path id="p400" vector-effect="non-scaling-stroke" d="M283.8 221.4h0m-9.6 0.7h0m-5.8 -14.4h0m8 19.9h0m-31 5.2h0m21.5 -18.8h0m19.5 -10.9h0m-0.2 9.2h0m-9.5 2.8h0m-30.4 27.7h0m23.3 -15.1h0m-7.6 -2.5h0m32.8 -6.3h0m-27.2 24.4h0m-14.4 12.5h0m-0.2 -33.8h0m35.3 -2.2h0m-20.1 -5.2h0m-5.5 19h0m-7.6 -12.2h0m7.9 6.7h0m25.8 -1.9h0m-17.8 13.3h0m15.1 -17.8h0m1.7 -4.9h0m-22.5 21.9h0m1.6 -4h0m8.6 -30.6h0m-6.8 37.1h0m-3.8 -19.9h0m-10.4 39.6h0m22.8 -41.2h0m-3.1 3.7h0m-4.9 12.5h0m9 -32.4h0m-35.3 23.4h0m10.8 25.4h0m9.6 -22.1h0m-16.9 9.5h0m38.6 -16.4h0m-29.4 10.7h0m17.6 -30h0m7.1 27.1h0m-5.8 -10.3h0m-14.2 25.4h0m24.5 -18.3h0m-29 28.7h0m26.1 -41.5h0m-19.3 6.5h0m14.1 10.5h0m-0.6 -23.2h0m-12 22.4h0m-5.5 -13.7h0m30.3 6.8h0m-26.2 8.9h0m1 -4.4h0m26.2 -12.4h0m-20 9.7h0m-2.2 -1.3h0m19.3 -6.5h0m0.5 9.1h0m-11.4 10.3h0m-25.8 8.4h0m24.6 -39.5h0m-19.8 53.8h0m19.7 -38.3h0m-28.9 7.5h0m33.7 -0.5h0m-9.6 -20.5h0m-22.8 20.9h0m8.7 2.8h0m16.5 -1.1h0m-23.1 3.8h0m15.8 -16.7h0m10 3.8h0m-18.6 -1.9h0m5.8 8.2h0m16.3 -8.4h0m-13.5 7.6h0m10.2 -11h0m-15.9 18h0"/><path id="p401" vector-effect="non-scaling-stroke" d="M286.3 225.3h0m-1.7 -3.3h0m-23.7 -2.8h0m-9.3 21.3h0m21.6 -15.7h0m8.8 -5.1h0m-1.2 -13h0m-10.1 18.3h0m-11.6 29.5h0m13.1 -49h0m-10.8 30.8h0m-4.9 20.2h0m31.5 -46.3h0m-20.8 -5.1h0m20.1 16.5h0m-17.3 -5.9h0m-12.2 23.8h0m29.2 -15h0m2.7 -16.2h0m-1 -0.5h0m4.9 6.9h0m-20.9 22.4h0m-16.3 9.7h0m33.8 -32.4h0m-15.4 5.7h0m8.7 -13.1h0m-31.2 30.9h0m34.7 -9.3h0m5.2 -12.5h0m-45.7 24h0m45.6 -23h0m-37.7 32.9h0m9.5 -16.8h0m19.2 -15.4h0m-7.2 13.3h0m-11.2 -0.8h0m-8.9 8.9h0m28.7 -27.9h0m-15.2 8h0m8.9 2.8h0m10.5 -0.8h0m2.2 -7.6h0m-18.1 24.9h0m-2.9 -17.7h0m5.6 4h0m-21.3 13.6h0m20.9 -14.5h0m-12.2 15.5h0m9.5 -5.5h0m15.9 -21.5h0m-9.5 1h0m-10.9 19.8h0m10.9 -10.3h0m-6.3 -5.1h0m-18.9 27.6h0m2.7 -23.3h0m3.5 2.6h0m10.1 -3.8h0m16.9 -12.6h0m-21.4 27.2h0m9 5h0m8.8 -10.5h0m-0.3 -24.6h0m-17.5 35h0m-13.1 -0.6h0m24.3 -23h0m-25 32.7h0m41.5 -26.3h0m-24 5.7h0m-7.2 -5.9h0m30.9 -10h0m-14 9.5h0m-13.7 9.5h0m-6.7 13.6h0m-5.4 4.8h0m14.5 -16.9h0m-19.7 -7.3h0m30.7 -10.4h0m-14.7 9.4h0m29.2 -5h0"/><path id="p402" vector-effect="non-scaling-stroke" d="M247.4 240.6h0m40 -18.1h0m-0.4 -0.7h0m-24.2 15.8h0m26.7 -18.7h0m-8 0h0m-2.5 2.9h0m-16.7 19.3h0m4.5 -20.8h0m-1 -10.7h0m28.4 11.3h0m-31.4 18.1h0m1.5 -22.2h0m13.6 -7.2h0m-6.1 11.3h0m5 9.4h0m-11.7 -12.9h0m4.3 -1.8h0m-5.5 21.2h0m6.4 -26.3h0m-5.9 12.2h0m-9.3 22.5h0m27.6 -22.2h0m-29 33.5h0m12.2 -13.3h0m20.8 -40.4h0m-3.2 3.8h0m0.5 23.2h0m-13.6 -5h0m7.1 25.9h0m0.3 -4.7h0m-2.3 2.8h0m0 5.1h0m1.8 -10.8h0m-0.6 16.3h0m5.1 -3.7h0m-8 -11.5h0m-0.5 5.1h0m7.6 5.4h0m-5.8 -7.5h0m6.1 13.5h0m-2.7 -14.2h0m-0.1 3h0m1.4 -1.5h0m1.8 9.4h0m-3.2 -14.1h0m0.8 2.4h0m-1.3 6.6h0m5.7 16.2h0m-1.7 2.3h0m-0.4 0.2h0m3.8 -5.7h0m-2.4 5.4h0m-2.1 -3h0m2.9 2.5h0m-2 -4.1h0m1.9 -0.6h0m-2.4 2.6h0m1.9 -2.8h0m0 1.3h0m0.8 3.1h0m-3.8 -3.6h0m0.7 2.4h0m1.8 -2.2h0m1.1 0.6h0m0.3 -2h0m-3.3 -1.1h0m1.5 5.3h0m-1 -0.7h0m0.3 2.5h0m2 -0.5h0m1.3 2.5h0m-5.4 -10.1h0m3.7 5.2h0m0.5 -0.5h0m-0.6 4.8h0m-3.5 -6.4h0m0.9 -2.7h0m2.7 3.9h0m0.6 0.7h0"/><path id="p410" vector-effect="non-scaling-stroke" d="M289.3 211.4h0m-10.7 2h0m-18.1 22.6h0m13.3 -25.5h0m3.4 9.4h0m4.7 -16.7h0m-10.7 13.5h0m-9.7 12.3h0m23.7 -23.5h0m4 -0.1h0m4 19.7h0m-4.6 -2.9h0m-22.7 -4.8h0m7.5 13.7h0m-21.1 20.6h0m30.6 -29.1h0m-18.7 9.3h0m-1.3 -11.7h0m2.4 14.9h0m9.1 -6.3h0m-10 -14.2h0m3.9 19.1h0m4.6 -5.9h0m3.5 6.8h0m-16.6 12.8h0m6.5 -18.5h0m6.4 -5.9h0m-6.4 -0.8h0m17.6 -7.3h0m-10.3 -3.7h0m-0 15.3h0m-18.2 11.4h0m12.1 -16.2h0m-22.9 14.4h0m10.5 5.5h0m38.7 -21.1h0m-23 13.4h0m-25.7 -9.1h0m24.6 12.1h0m20.9 -21.4h0m3.7 5.6h0m-19.4 14.3h0m-5.1 -28.2h0m12.4 -0.7h0m-0.2 24.9h0"/><path id="p411" vector-effect="non-scaling-stroke" d="M282.4 226.5h0m-10.1 -17.3h0m-12.7 10h0m8.1 -6.9h0m-6.6 5.4h0m8.1 -4.4h0m14.7 9.3h0m-12.7 -11.8h0m20.1 6.9h0m-37.2 2.7h0m-7.5 18.4h0m17.1 -17.5h0m14.3 0.6h0m-15.5 14.2h0m18.1 -7.6h0m-15 9.5h0m7.3 -11.3h0m14 -2.4h0m-23.2 -5.9h0m26.6 0.4h0m-11.1 6.4h0m7.3 -3.2h0m-31.8 23.8h0m14.5 -15.5h0m5.7 3.5h0m9 -30.5h0m-12.1 25.7h0m6 -14.6h0m-1.3 13.9h0m6.7 4.4h0m-2.3 -22.1h0m5.6 1.8h0m-13.5 11.1h0m9.8 10.2h0m7.3 -12.8h0m-35.5 12.2h0m36.6 -24.3h0m-22 7.2h0m0.2 12.4h0m-19.3 3.1h0m-6.7 7.7h0m28.2 -30.7h0m15.7 12.6h0m-4.4 2.1h0m-16.4 4.4h0"/><path id="p412" vector-effect="non-scaling-stroke" d="M254.4 257.7h0m-2 -4.8h0m24.8 -47.5h0m2.7 16.8h0m-2.4 6h0m5 -21.5h0m-14.5 25.2h0m2.3 9.5h0m-7.4 -11h0m13.3 -24.8h0m-25.6 18.5h0m39.4 2.3h0m-28.1 -1.1h0m2.4 9.6h0m15.5 -4.3h0m-10.6 -17.5h0m0.2 -0.2h0m-6.9 6.9h0m15.7 35.5h0m-0 -4.5h0m0 10.4h0m-1.2 -13.7h0m2.7 4.9h0m-1.5 1.9h0m-0.7 -4.1h0m0 0.5h0m0.7 9.6h0m3.3 6.7h0m-0.1 3.9h0m1.7 -2.9h0m2.5 -0.4h0m-2.5 3.4h0m-1 -5.6h0m2.6 5h0m-5 -8.1h0m5.1 7.2h0m-2.7 2.8h0m3.7 -5.7h0m-5.2 -1.4h0m3.7 0.6h0m-1.9 4.5h0m-0.1 -0.4h0m-1.6 -6.6h0m1 6.7h0m1.6 -4.1h0"/><path id="p500" vector-effect="non-scaling-stroke" d="M253 219h0m-12.5 -9.3h0m19.4 8.5h0m-10.1 -5.2h0m-4.8 -1h0m8.8 5.2h0m-4.1 -0.1h0m10.6 -7.6h0m-13.3 6h0m1.7 -12.5h0m0.1 3.1h0m6.2 47.4h0m26.3 -42h0m-5.7 -0.4h0m-31.9 18.5h0m4.7 -7.7h0m12.6 17.4h0m-10.4 -2.1h0m3.6 2.1h0m-10 -4h0m12.2 -9.1h0m18.2 13.1h0m-4.7 -21.8h0m-17.5 15.5h0m6.4 -11.4h0m-8.1 -0.7h0m24.4 -7.2h0m-14.3 24.2h0m-8.3 12.5h0m15.1 -15.6h0m26.3 -26.3h0m-23.5 24.2h0m-4.2 -8h0m-7.8 -9.1h0m14.5 -9.8h0m-15 31.3h0m25.4 -25.2h0m-36.6 30.9h0m28.2 -12.5h0m-23.2 16.5h0m0.4 -26.3h0m-8.1 16h0m15.1 -1.8h0"/><path id="p501" vector-effect="non-scaling-stroke" d="M259.6 231.9h0m-1.6 17.4h0m22.1 -37.8h0m2.4 -8.6h0m-0.4 2.5h0m-4.2 31.2h0m-27.6 8.7h0m5 4.7h0m7.3 -18.3h0m-1.6 4.9h0m8 -11h0m17.3 4.6h0m-35.2 10.3h0m6.6 -14.2h0m18.8 -19.2h0m-18.6 15.5h0m14.6 6.9h0m-12.9 -2.9h0m33 -6.9h0m-12.7 -9.3h0m9 9.8h0m-4.6 -8.9h0m-10.4 7.5h0m10.8 3.4h0m-29.9 32.1h0m16.2 -33.5h0m1.3 -11h0m14.8 8.9h0m2.2 2.2h0m-20.9 8.8h0m1.5 -11.2h0m11.8 -12.9h0m5.5 -3.2h0m-13 27.1h0m1.5 -16.1h0m-25.5 32.3h0m32.9 -33.8h0m-1.5 2.1h0m-8.3 21.6h0m5.7 -14.6h0m-31.6 4.8h0m42.8 -13.1h0m-39.7 19.7h0"/><path id="p502" vector-effect="non-scaling-stroke" d="M260.9 222.9h0m16.3 0.3h0m-27.1 8.9h0m8.2 3.1h0m9.2 -9.3h0m-13.1 9.2h0m3.6 13.8h0m-9 -21.3h0m37.2 -4.3h0m-0.1 -13.9h0m6.9 0.5h0m-40.5 42.5h0m18.6 -10.6h0m-13.7 -20.7h0m-10.9 13.1h0m9.9 -9.4h0m0.6 22.1h0m18 -16.4h0m-20.8 19.7h0m25.4 -43.1h0m-31.4 38.3h0m25.2 -32.4h0m16 10.4h0m-2.3 -14h0m-35.6 39.6h0m4.4 -22.5h0m-5.3 10.2h0m27.8 -24.9h0m-22.5 44.6h0m1.5 -26.5h0m10.3 -2.9h0m14.1 -18.3h0m-22.6 15.2h0m-6.4 36.1h0m16.5 -23.9h0m-15.9 15.5h0m32.8 -38.4h0m-40.6 12.1h0m6.7 21.9h0m2.3 -17.3h0m26.7 -13.6h0m-10.9 -5.7h0"/><path id="p510" vector-effect="non-scaling-stroke" d="M256.1 214.3h0m3.6 2.5h0m-13.5 0.8h0m6 -5.4h0m-3 5.7h0m10.1 -10.8h0m2.8 1.5h0m-11.8 -2.7h0m-4.3 6.8h0m3.4 6.7h0m6.4 -0.2h0m-8.5 -18.3h0m30.1 9.7h0m-21.6 18h0m9.8 4.3h0m12.3 -10.9h0m-24.3 19.6h0m33.8 -29.1h0m-26.2 18h0m-6.3 22.3h0m2.1 -29.8h0m22.6 -15.4h0m-2.2 1h0m0.4 2.8h0m13.9 -6.3h0m-10.1 23.4h0m-32.9 12.1h0m4.7 17.3h0m2.2 -40.5h0m33.2 2.2h0m-15.4 3.7h0m-27.2 4.2h0m-0 4h0m12.2 12.1h0m34.8 -32.3h0m-39 36.1h0m1.9 5.9h0m19.4 -31.4h0m-16.6 -5.7h0m22 -6h0m-27.4 19.9h0m13.5 5.9h0m15.6 -6.8h0m-20.3 9.5h0m3.4 -1.4h0m14.1 -17.6h0m-35.9 13.9h0m9.4 3.5h0m0.4 5.3h0m-0.7 -16.6h0m3 1.1h0m3.8 3.5h0m7 -24.6h0"/><path id="p511" vector-effect="non-scaling-stroke" d="M288.3 209.4h0m-34.7 16.6h0m-1.4 -3h0m20.2 -2.7h0m-17.4 32h0m22.3 -33.1h0m-23.7 37.1h0m3.7 -27.6h0m20.8 -4h0m7.5 -15.3h0m-25.1 35.3h0m9.1 -32.9h0m5.5 25.2h0m-15.1 -2.7h0m-1 -11.1h0m2.3 15.2h0m-12.9 -14.5h0m32.6 -5h0m-15.4 24.6h0m17.9 -18h0m-22.7 -0.4h0m14.2 -0.9h0m-1.8 9.6h0m-19.1 11h0m21.7 -32.2h0m-26.4 13.1h0m5.7 9.7h0m1.9 -13.5h0m28.4 -15.6h0m-1.4 1.1h0m-18.1 15h0m24.8 -1.5h0m-26.7 18.6h0m-5.3 4.3h0m32 -38.5h0m-38.3 22.8h0m26.2 4.9h0m-21.7 -1.7h0m2.1 11.6h0m0.9 -4.2h0m-2.7 -18.8h0m-10.6 13.8h0m29.9 -29.5h0m5.4 24.8h0m-36.3 6.9h0m9.1 25h0m22.6 -55.8h0m3.7 3.9h0m-22.1 48.1h0m-5.7 -14.7h0m-5.4 -12.3h0m25.7 -21.9h0"/><path id="p512" vector-effect="non-scaling-stroke" d="M254.6 237.5h0m17.6 -5.9h0m-8.1 -3h0m-10.4 21.5h0m33.8 -47.4h0m-8 1.5h0m-27.3 48.2h0m-3.4 -27.8h0m10.1 5.3h0m-12.4 9.3h0m45.9 -26h0m-21.1 -4h0m9.6 -4.1h0m-30 37.2h0m7.1 1.3h0m1 -3.9h0m1.4 -25h0m20.3 -0.6h0m7.2 -4.6h0m-27.5 18.9h0m-9.6 6.5h0m20.2 -14.4h0m-20.6 4h0m9.4 13.9h0m-11.3 -8.4h0m19.1 -23.1h0m-12.7 13.7h0m8.6 -8.6h0m-4.3 28.8h0m11.8 -27.4h0m-15.9 21.1h0m4.4 -15h0m-7.7 1.2h0m0.5 11.9h0m33 -23.6h0m-5.6 12.5h0m-12.3 -0.3h0m6.2 -18.9h0m7 27.2h0m-26.9 7h0m6.1 -22.1h0m28.3 9.4h0m-30.2 -3.1h0m18.9 -4.5h0m-30.8 9.9h0m19.3 3.7h0m29.4 -18.1h0m-30.3 27.1h0m-4.3 3.5h0m-9.2 -19.9h0m-8 6h0m21 13.5h0"/></defs><text x="4" y="16" font-size="20" font-weight="bold">A</text><path d="M32.5 22.3V284.6H309.4" class="ax"/><path d="M32.5 63.4h-2.5" class="ax"/><text x="27.5" y="67.7" class="tk" text-anchor="end">10</text><path d="M32.5 121.9h-2.5" class="ax"/><text x="27.5" y="126.2" class="tk" text-anchor="end">5</text><path d="M32.5 180.1h-2.5" class="ax"/><text x="27.5" y="184.4" class="tk" text-anchor="end">0</text><path d="M32.5 238.4h-2.5" class="ax"/><text x="27.5" y="242.70000000000002" class="tk" text-anchor="end">-5</text><path d="M80.5 284.6v2.5" class="ax"/><text x="80.49999999999999" y="301" class="tk" text-anchor="middle">-10</text><path d="M167.2 284.6v2.5" class="ax"/><text x="167.2" y="301" class="tk" text-anchor="middle">0</text><path d="M253.9 284.6v2.5" class="ax"/><text x="253.89999999999998" y="301" class="tk" text-anchor="middle">10</text><text x="168" y="318.2" class="lab" text-anchor="middle">UMAP_1</text><text transform="translate(10.5,151) rotate(-90)" class="lab" text-anchor="middle" x="0">UMAP_2</text><path d="M345.5 22.3V284.6H622.4" class="ax"/><path d="M345.5 63.4h-2.5" class="ax"/><text x="340.5" y="67.7" class="tk" text-anchor="end">10</text><path d="M345.5 121.9h-2.5" class="ax"/><text x="340.5" y="126.2" class="tk" text-anchor="end">5</text><path d="M345.5 180.1h-2.5" class="ax"/><text x="340.5" y="184.4" class="tk" text-anchor="end">0</text><path d="M345.5 238.4h-2.5" class="ax"/><text x="340.5" y="242.70000000000002" class="tk" text-anchor="end">-5</text><path d="M393.5 284.6v2.5" class="ax"/><text x="393.5" y="301" class="tk" text-anchor="middle">-10</text><path d="M480.2 284.6v2.5" class="ax"/><text x="480.2" y="301" class="tk" text-anchor="middle">0</text><path d="M566.9 284.6v2.5" class="ax"/><text x="566.9" y="301" class="tk" text-anchor="middle">10</text><text x="481" y="318.2" class="lab" text-anchor="middle">UMAP_1</text><text transform="translate(323.5,151) rotate(-90)" class="lab" text-anchor="middle">UMAP_2</text><g class="pts" stroke-width="1.9" transform=""><use href="#p000" stroke="#50CFC7"/><use href="#p100" stroke="#50CFC7"/><use href="#p200" stroke="#50CFC7"/><use href="#p300" stroke="#50CFC7"/><use href="#p400" stroke="#50CFC7"/><use href="#p500" stroke="#50CFC7"/><use href="#p010" stroke="#E96A68"/><use href="#p110" stroke="#E96A68"/><use href="#p210" stroke="#E96A68"/><use href="#p310" stroke="#E96A68"/><use href="#p410" stroke="#E96A68"/><use href="#p510" stroke="#E96A68"/><use href="#p001" stroke="#50CFC7"/><use href="#p101" stroke="#50CFC7"/><use href="#p201" stroke="#50CFC7"/><use href="#p301" stroke="#50CFC7"/><use href="#p401" stroke="#50CFC7"/><use href="#p501" stroke="#50CFC7"/><use href="#p011" stroke="#E96A68"/><use href="#p111" stroke="#E96A68"/><use href="#p211" stroke="#E96A68"/><use href="#p311" stroke="#E96A68"/><use href="#p411" stroke="#E96A68"/><use href="#p511" stroke="#E96A68"/><use href="#p002" stroke="#50CFC7"/><use href="#p102" stroke="#50CFC7"/><use href="#p202" stroke="#50CFC7"/><use href="#p302" stroke="#50CFC7"/><use href="#p402" stroke="#50CFC7"/><use href="#p502" stroke="#50CFC7"/><use href="#p012" stroke="#E96A68"/><use href="#p112" stroke="#E96A68"/><use href="#p212" stroke="#E96A68"/><use href="#p312" stroke="#E96A68"/><use href="#p412" stroke="#E96A68"/><use href="#p512" stroke="#E96A68"/></g><g class="pts" stroke-width="1.9" transform="translate(313,0)"><use href="#p000" stroke="#E6BE4C"/><use href="#p100" stroke="#E8686B"/><use href="#p200" stroke="#9FD1E6"/><use href="#p300" stroke="#4AA2A4"/><use href="#p400" stroke="#5DB592"/><use href="#p500" stroke="#2D6569"/><use href="#p010" stroke="#E6BE4C"/><use href="#p110" stroke="#E8686B"/><use href="#p210" stroke="#9FD1E6"/><use href="#p310" stroke="#4AA2A4"/><use href="#p410" stroke="#5DB592"/><use href="#p510" stroke="#2D6569"/><use href="#p001" stroke="#E6BE4C"/><use href="#p101" stroke="#E8686B"/><use href="#p201" stroke="#9FD1E6"/><use href="#p301" stroke="#4AA2A4"/><use href="#p401" stroke="#5DB592"/><use href="#p501" stroke="#2D6569"/><use href="#p011" stroke="#E6BE4C"/><use href="#p111" stroke="#E8686B"/><use href="#p211" stroke="#9FD1E6"/><use href="#p311" stroke="#4AA2A4"/><use href="#p411" stroke="#5DB592"/><use href="#p511" stroke="#2D6569"/><use href="#p002" stroke="#E6BE4C"/><use href="#p102" stroke="#E8686B"/><use href="#p202" stroke="#9FD1E6"/><use href="#p302" stroke="#4AA2A4"/><use href="#p402" stroke="#5DB592"/><use href="#p502" stroke="#2D6569"/><use href="#p012" stroke="#E6BE4C"/><use href="#p112" stroke="#E8686B"/><use href="#p212" stroke="#9FD1E6"/><use href="#p312" stroke="#4AA2A4"/><use href="#p412" stroke="#5DB592"/><use href="#p512" stroke="#2D6569"/></g><circle cx="241.7" cy="28.3" r="3" fill="#E96A68"/><text x="246.5" y="31.2" class="lg">SD</text><circle cx="241.7" cy="37.8" r="3" fill="#50CFC7"/><text x="246.5" y="40.699999999999996" class="lg">Control</text><circle cx="561.2" cy="28.3" r="3" fill="#E6BE4C"/><text x="566.2" y="31.2" class="lg">Dendritic cells</text><circle cx="561.2" cy="38.3" r="3" fill="#E8686B"/><text x="566.2" y="41.199999999999996" class="lg">Macrophages</text><circle cx="561.2" cy="48.3" r="3" fill="#9FD1E6"/><text x="566.2" y="51.199999999999996" class="lg">Effector CD8+ T cells</text><circle cx="561.2" cy="58.3" r="3" fill="#4AA2A4"/><text x="566.2" y="61.199999999999996" class="lg">Effector memory CD8+ T cells</text><circle cx="561.2" cy="68.3" r="3" fill="#5DB592"/><text x="566.2" y="71.2" class="lg">CD4+ T cells</text><circle cx="561.2" cy="78.3" r="3" fill="#2D6569"/><text x="566.2" y="81.2" class="lg">Naive CD8+ T cells</text><rect x="359.5" y="55.1" width="54.4" height="10.7" rx="1.5" fill="#E6BE4C"/><text x="386.7" y="63.35" class="bl" text-anchor="middle">Dendritic cells</text><rect x="388.2" y="202.9" width="52.9" height="9.9" rx="1.5" fill="#E8686B"/><text x="414.65" y="210.75000000000003" class="bl" text-anchor="middle">Macrophages</text><rect x="496.0" y="107.7" width="78.3" height="9.9" rx="1.5" fill="#9FD1E6"/><text x="535.15" y="115.55000000000001" class="bl" text-anchor="middle">Effector Cd8+ T cells</text><rect x="477.5" y="186.0" width="110.4" height="10.0" rx="1.5" fill="#4AA2A4"/><text x="532.7" y="193.9" class="bl" text-anchor="middle">Effector memory Cd8+ T cells</text><rect x="569.7" y="211.7" width="49.9" height="9.8" rx="1.5" fill="#5DB592"/><text x="594.6500000000001" y="219.5" class="bl" text-anchor="middle">Cd4+ T cells</text><rect x="518.0" y="230.3" width="71.0" height="9.6" rx="1.5" fill="#2D6569"/><text x="553.5" y="238.00000000000003" class="bl" text-anchor="middle">Naive Cd8+ T cells</text><text x="5" y="346.3" font-size="20" font-weight="bold">B</text><rect x="73.50" y="364.30" width="22.18" height="22.04" fill="#F5E6BC"/><rect x="95.38" y="364.30" width="22.18" height="22.04" fill="#EDC168"/><rect x="117.26" y="364.30" width="22.18" height="22.04" fill="#EDD089"/><rect x="139.14" y="364.30" width="22.18" height="22.04" fill="#E54B5E"/><rect x="161.02" y="364.30" width="22.18" height="22.04" fill="#F0DA9F"/><text x="185.7" y="378.97" class="gn">Ccl5</text><rect x="73.50" y="386.04" width="22.18" height="22.04" fill="#F7F0DA"/><rect x="95.38" y="386.04" width="22.18" height="22.04" fill="#F8F1DC"/><rect x="117.26" y="386.04" width="22.18" height="22.04" fill="#EDC46E"/><rect x="139.14" y="386.04" width="22.18" height="22.04" fill="#EEA631"/><rect x="161.02" y="386.04" width="22.18" height="22.04" fill="#EDCA7D"/><text x="185.7" y="400.89000000000004" class="gn">Ccl4</text><rect x="73.50" y="407.78" width="22.18" height="22.04" fill="#FDFCF8"/><rect x="95.38" y="407.78" width="22.18" height="22.04" fill="#F0D592"/><rect x="117.26" y="407.78" width="22.18" height="22.04" fill="#F7EDCC"/><rect x="139.14" y="407.78" width="22.18" height="22.04" fill="#D8DAEB"/><rect x="161.02" y="407.78" width="22.18" height="22.04" fill="#FCFBF7"/><text x="185.7" y="422.81000000000006" class="gn">Xcl1</text><rect x="73.50" y="429.52" width="22.18" height="22.04" fill="#FBF8EC"/><rect x="95.38" y="429.52" width="22.18" height="22.04" fill="#F0D795"/><rect x="117.26" y="429.52" width="22.18" height="22.04" fill="#EEC465"/><rect x="139.14" y="429.52" width="22.18" height="22.04" fill="#EE8A2D"/><rect x="161.02" y="429.52" width="22.18" height="22.04" fill="#F1DAA0"/><text x="185.7" y="444.73" class="gn">Nkg7</text><rect x="73.50" y="451.26" width="22.18" height="22.04" fill="#FBF8EA"/><rect x="95.38" y="451.26" width="22.18" height="22.04" fill="#F4E5BA"/><rect x="117.26" y="451.26" width="22.18" height="22.04" fill="#F3E0AC"/><rect x="139.14" y="451.26" width="22.18" height="22.04" fill="#FCFAEE"/><rect x="161.02" y="451.26" width="22.18" height="22.04" fill="#FCFBF5"/><text x="185.7" y="466.65000000000003" class="gn">Il3ra</text><rect x="73.50" y="473.00" width="22.18" height="22.04" fill="#FFFFFF"/><rect x="95.38" y="473.00" width="22.18" height="22.04" fill="#FDFCF7"/><rect x="117.26" y="473.00" width="22.18" height="22.04" fill="#F1D592"/><rect x="139.14" y="473.00" width="22.18" height="22.04" fill="#EFC976"/><rect x="161.02" y="473.00" width="22.18" height="22.04" fill="#F0D28C"/><text x="185.7" y="488.57" class="gn">Cd2</text><rect x="73.50" y="494.74" width="22.18" height="22.04" fill="#F7EDD4"/><rect x="95.38" y="494.74" width="22.18" height="22.04" fill="#EEBA50"/><rect x="117.26" y="494.74" width="22.18" height="22.04" fill="#F1D592"/><rect x="139.14" y="494.74" width="22.18" height="22.04" fill="#F6E8BF"/><rect x="161.02" y="494.74" width="22.18" height="22.04" fill="#F3E0AD"/><text x="185.7" y="510.49" class="gn">Cd7</text><rect x="73.50" y="516.48" width="22.18" height="22.04" fill="#FBF8EA"/><rect x="95.38" y="516.48" width="22.18" height="22.04" fill="#F0D086"/><rect x="117.26" y="516.48" width="22.18" height="22.04" fill="#FEFCF3"/><rect x="139.14" y="516.48" width="22.18" height="22.04" fill="#D5D6EB"/><rect x="161.02" y="516.48" width="22.18" height="22.04" fill="#FCFCF8"/><text x="185.7" y="532.41" class="gn">Cd63</text><rect x="73.50" y="538.22" width="22.18" height="22.04" fill="#FFFFFF"/><rect x="95.38" y="538.22" width="22.18" height="22.04" fill="#EFC466"/><rect x="117.26" y="538.22" width="22.18" height="22.04" fill="#8485C4"/><rect x="139.14" y="538.22" width="22.18" height="22.04" fill="#FAFAFE"/><rect x="161.02" y="538.22" width="22.18" height="22.04" fill="#FAFAFE"/><text x="185.7" y="554.33" class="gn">Gzma</text><rect x="73.50" y="559.96" width="22.18" height="22.04" fill="#FFFFFF"/><rect x="95.38" y="559.96" width="22.18" height="22.04" fill="#F1D591"/><rect x="117.26" y="559.96" width="22.18" height="22.04" fill="#F9F9FE"/><rect x="139.14" y="559.96" width="22.18" height="22.04" fill="#FFFFFF"/><rect x="161.02" y="559.96" width="22.18" height="22.04" fill="#FCFAEE"/><text x="185.7" y="576.25" class="gn">Gzmb</text><rect x="73.50" y="581.70" width="22.18" height="22.04" fill="#FFFFFF"/><rect x="95.38" y="581.70" width="22.18" height="22.04" fill="#EDC468"/><rect x="117.26" y="581.70" width="22.18" height="22.04" fill="#F5E6BD"/><rect x="139.14" y="581.70" width="22.18" height="22.04" fill="#EEA32E"/><rect x="161.02" y="581.70" width="22.18" height="22.04" fill="#FCFAF5"/><text x="185.7" y="598.17" class="gn">Gzmk</text><rect x="73.50" y="603.44" width="22.18" height="22.04" fill="#F6EACB"/><rect x="95.38" y="603.44" width="22.18" height="22.04" fill="#F8F8FD"/><rect x="117.26" y="603.44" width="22.18" height="22.04" fill="#F8F8FD"/><rect x="139.14" y="603.44" width="22.18" height="22.04" fill="#F8F8FD"/><rect x="161.02" y="603.44" width="22.18" height="22.04" fill="#FFFEFC"/><text x="185.7" y="620.09" class="gn">Cxcl1</text><rect x="73.50" y="625.18" width="22.18" height="22.04" fill="#F1DA9F"/><rect x="95.38" y="625.18" width="22.18" height="22.04" fill="#F8F8FD"/><rect x="117.26" y="625.18" width="22.18" height="22.04" fill="#F9F9FD"/><rect x="139.14" y="625.18" width="22.18" height="22.04" fill="#FFFEFC"/><rect x="161.02" y="625.18" width="22.18" height="22.04" fill="#FFFEFC"/><text x="185.7" y="642.01" class="gn">Cxcl2</text><rect x="73.50" y="646.92" width="22.18" height="22.04" fill="#F0D797"/><rect x="95.38" y="646.92" width="22.18" height="22.04" fill="#F8F8FD"/><rect x="117.26" y="646.92" width="22.18" height="22.04" fill="#F0F0F8"/><rect x="139.14" y="646.92" width="22.18" height="22.04" fill="#F0F0F8"/><rect x="161.02" y="646.92" width="22.18" height="22.04" fill="#FCFBF5"/><text x="185.7" y="663.9300000000001" class="gn">Ccl2</text><rect x="73.50" y="668.66" width="22.18" height="22.04" fill="#EFC876"/><rect x="95.38" y="668.66" width="22.18" height="22.04" fill="#FFFEFC"/><rect x="117.26" y="668.66" width="22.18" height="22.04" fill="#F5F5FB"/><rect x="139.14" y="668.66" width="22.18" height="22.04" fill="#F5F5FB"/><rect x="161.02" y="668.66" width="22.18" height="22.04" fill="#F9F9FD"/><text x="185.7" y="685.8499999999999" class="gn">Ccl7</text><text transform="translate(89.4,700) rotate(-45)" class="cl" text-anchor="end">Macrophages</text><text transform="translate(111.3,700) rotate(-45)" class="cl" text-anchor="end">Effector CD8+ T cells</text><text transform="translate(131.9,700) rotate(-45)" class="cl" text-anchor="end">Effector memory CD8+ T cells</text><text transform="translate(152.5,700) rotate(-45)" class="cl" text-anchor="end">Naive CD8+ T cells</text><text transform="translate(175.7,700) rotate(-45)" class="cl" text-anchor="end">CD4+ T cells</text><defs><linearGradient id="cb" x1="0" y1="0" x2="0" y2="1"><stop offset="0" stop-color="#E3485F"/><stop offset="0.103" stop-color="#E8633F"/><stop offset="0.29" stop-color="#EE9B2F"/><stop offset="0.48" stop-color="#EBC355"/><stop offset="0.63" stop-color="#F8EFD8"/><stop offset="0.667" stop-color="#FFFFFF"/><stop offset="0.85" stop-color="#ABADD5"/><stop offset="1" stop-color="#5557A6"/></linearGradient></defs><rect x="36" y="369.9" width="10.7" height="163.4" fill="url(#cb)"/><text x="53.7" y="390.3" class="cbt" text-anchor="middle">3</text><text x="53.7" y="421.6" class="cbt" text-anchor="middle">2</text><text x="53.7" y="452.70000000000005" class="cbt" text-anchor="middle">1</text><text x="53.7" y="482.8" class="cbt" text-anchor="middle">0</text><text x="51.6" y="513.1" class="cbt" text-anchor="middle">-1</text><text transform="translate(13.9,453.3) rotate(-90)" class="bt" text-anchor="middle">Pseudobulk expression</text><text transform="translate(29.2,453) rotate(-90)" class="bt" text-anchor="middle">Log<tspan font-size="8" dy="2.5">2</tspan><tspan dy="-2.5" class="sf">(Fold Change)</tspan> to control</text><text x="244.3" y="346.6" font-size="20" font-weight="bold">C</text><rect x="444.7" y="376.9" width="199.6" height="25" fill="#EB676A"/><text x="395.5" y="393.0" class="ct" text-anchor="end">Macrophages</text><path d="M396.5 389.4h2.8" class="ax"/><text x="434.1869" y="393.09999999999997" class="cv" text-anchor="end">721</text><text x="654.7597" y="393.09999999999997" class="cv">927</text><rect x="488.9" y="404.7" width="75.8" height="25" fill="#46A3A4"/><text x="395.5" y="420.8" class="ct" text-anchor="end">Effector memory CD8+ T cells</text><path d="M396.5 417.2h2.8" class="ax"/><text x="478.3884" y="420.9" class="cv" text-anchor="end">356</text><text x="575.197" y="420.9" class="cv">270</text><rect x="495.7" y="432.5" width="56.2" height="25" fill="#98D1E8"/><text x="395.5" y="448.6" class="ct" text-anchor="end">Effector CD8+ T cells</text><path d="M396.5 445.0h2.8" class="ax"/><text x="485.17" y="448.7" class="cv" text-anchor="end">300</text><text x="562.3604" y="448.7" class="cv">164</text><rect x="518.8" y="460.3" width="30.5" height="25" fill="#2E6467"/><text x="395.5" y="476.4" class="ct" text-anchor="end">Naive CD8+ T cells</text><path d="M396.5 472.8h2.8" class="ax"/><text x="508.30010000000004" y="476.49999999999994" class="cv" text-anchor="end">109</text><text x="559.8173" y="476.49999999999994" class="cv">143</text><rect x="511.3" y="488.1" width="32.7" height="25" fill="#5FB592"/><text x="395.5" y="504.2" class="ct" text-anchor="end">CD4+ T cells</text><path d="M396.5 500.6h2.8" class="ax"/><text x="500.7919" y="504.29999999999995" class="cv" text-anchor="end">171</text><text x="554.4889" y="504.29999999999995" class="cv">99</text><rect x="523.9" y="515.9" width="22.0" height="25" fill="#E9C14F"/><text x="395.5" y="532.0" class="ct" text-anchor="end">Dendritic cells</text><path d="M396.5 528.4h2.8" class="ax"/><text x="513.3863" y="532.1" class="cv" text-anchor="end">67</text><text x="556.4265" y="532.1" class="cv">115</text><path d="M532 373.4V545" stroke="#222" stroke-width="1"/><path d="M399.3 373.4V545.2H665.1" class="ax"/><path d="M410.9 545.2v2.5" class="ax"/><text x="410.9" y="561" class="cv" text-anchor="middle">1000</text><path d="M471.4 545.2v2.5" class="ax"/><text x="471.45" y="561" class="cv" text-anchor="middle">500</text><path d="M532.0 545.2v2.5" class="ax"/><text x="532.0" y="561" class="cv" text-anchor="middle">0</text><path d="M592.5 545.2v2.5" class="ax"/><text x="592.55" y="561" class="cv" text-anchor="middle">500</text><path d="M653.1 545.2v2.5" class="ax"/><text x="653.1" y="561" class="cv" text-anchor="middle">1000</text><text x="485.4" y="369.2" class="ct" text-anchor="middle">Control</text><text x="593.3" y="369.2" class="ct" text-anchor="middle">SD</text><text x="245" y="584" font-size="20" font-weight="bold">D</text><defs><linearGradient id="pl" x1="0" y1="0" x2="0" y2="1"><stop offset="0" stop-color="#2A0FA0"/><stop offset="0.3" stop-color="#8A1ECB"/><stop offset="0.53" stop-color="#D04C70"/><stop offset="0.76" stop-color="#F28A3E"/><stop offset="1" stop-color="#F0F525"/></linearGradient></defs><g class="pts" stroke="#D3D3D3" stroke-width="2.6" transform="matrix(0.38178,0,0,0.40171,276.567,601.252)"><use href="#p000"/><use href="#p001"/><use href="#p002"/><use href="#p100"/><use href="#p101"/><use href="#p102"/><use href="#p200"/><use href="#p201"/><use href="#p202"/><use href="#p300"/><use href="#p301"/><use href="#p302"/><use href="#p400"/><use href="#p401"/><use href="#p402"/><use href="#p500"/><use href="#p501"/><use href="#p502"/></g><circle cx="311.9" cy="621.8" r="1.45" fill="#F0D42E"/><circle cx="318.6" cy="641.1" r="1.45" fill="#D65866"/><circle cx="317.4" cy="644.5" r="1.45" fill="#EB7D48"/><circle cx="316.9" cy="650.4" r="1.45" fill="#EE8343"/><circle cx="313.5" cy="652.4" r="1.45" fill="#F28A3E"/><circle cx="316.9" cy="654.6" r="1.45" fill="#F0D42E"/><circle cx="321.1" cy="656.2" r="1.45" fill="#F28A3E"/><circle cx="326.1" cy="652.0" r="1.45" fill="#D04C70"/><circle cx="325.0" cy="655.0" r="1.45" fill="#761AC4"/><circle cx="326.6" cy="653.4" r="1.45" fill="#EB7D48"/><circle cx="320.8" cy="664.1" r="1.45" fill="#F0D42E"/><circle cx="311.5" cy="669.3" r="1.45" fill="#8A1ECB"/><circle cx="316.1" cy="671.3" r="1.45" fill="#AD359D"/><circle cx="318.6" cy="671.3" r="1.45" fill="#8A1ECB"/><circle cx="307.7" cy="673.0" r="1.45" fill="#8A1ECB"/><circle cx="310.2" cy="673.9" r="1.45" fill="#D65866"/><circle cx="301.8" cy="674.4" r="1.45" fill="#F0D42E"/><circle cx="304.3" cy="677.6" r="1.45" fill="#8A1ECB"/><circle cx="311.5" cy="678.1" r="1.45" fill="#F0D42E"/><circle cx="319.4" cy="675.5" r="1.45" fill="#D65866"/><circle cx="321.9" cy="677.6" r="1.45" fill="#D65866"/><circle cx="317.7" cy="680.2" r="1.45" fill="#F28A3E"/><circle cx="321.1" cy="682.3" r="1.45" fill="#F28A3E"/><circle cx="322.8" cy="681.4" r="1.45" fill="#D65866"/><circle cx="328.3" cy="680.6" r="1.45" fill="#D65866"/><circle cx="321.1" cy="685.6" r="1.45" fill="#AD359D"/><circle cx="298.4" cy="681.4" r="1.45" fill="#5115B6"/><circle cx="300.1" cy="681.8" r="1.45" fill="#2B0FA8"/><circle cx="302.6" cy="683.4" r="1.45" fill="#D04C70"/><circle cx="310.2" cy="691.2" r="1.45" fill="#F0D42E"/><circle cx="317.7" cy="692.7" r="1.45" fill="#F28A3E"/><circle cx="319.7" cy="689.0" r="1.45" fill="#F28A3E"/><circle cx="328.3" cy="692.0" r="1.45" fill="#F28A3E"/><circle cx="325.6" cy="700.7" r="1.45" fill="#F28A3E"/><circle cx="325.8" cy="703.7" r="1.45" fill="#D65866"/><circle cx="323.9" cy="706.3" r="1.45" fill="#D65866"/><circle cx="315.2" cy="704.4" r="1.45" fill="#F28A3E"/><circle cx="364.4" cy="671.8" r="1.45" fill="#EE8343"/><circle cx="362.7" cy="679.6" r="1.45" fill="#F19F39"/><path d="M286.6 607.7V716.1H394.6" class="ax"/><path d="M286.6 626.6h-2.5" class="ax"/><text x="281.65" y="630.9" class="tk" text-anchor="end">10</text><path d="M286.6 650.1h-2.5" class="ax"/><text x="281.65" y="654.4" class="tk" text-anchor="end">5</text><path d="M286.6 673.6h-2.5" class="ax"/><text x="281.65" y="677.9" class="tk" text-anchor="end">0</text><path d="M286.6 697.1h-2.5" class="ax"/><text x="281.65" y="701.4" class="tk" text-anchor="end">-5</text><path d="M307.3 716.1v2.5" class="ax"/><text x="307.29999999999995" y="730.3000000000001" class="tk" text-anchor="middle">-10</text><path d="M340.4 716.1v2.5" class="ax"/><text x="340.4" y="730.3000000000001" class="tk" text-anchor="middle">0</text><path d="M373.5 716.1v2.5" class="ax"/><text x="373.5" y="730.3000000000001" class="tk" text-anchor="middle">10</text><text x="341.0" y="743.1" class="lab" text-anchor="middle">UMAP_1</text><text transform="translate(261.9,664.4) rotate(-90)" class="lab" text-anchor="middle">UMAP_2</text><text x="342.9" y="605.3000000000001" class="lab" text-anchor="middle">Control</text><text x="398.4" y="631.0" class="gl">Cxcl1</text><rect x="408.0" y="640.4" width="11.8" height="58.8" fill="url(#pl)"/><text x="423.5" y="647.1" class="lt">4</text><path d="M408.0 643.1h2.2M417.6 643.1h2.2" stroke="#fff" stroke-opacity="0.6" stroke-width="0.6"/><text x="423.5" y="660.9" class="lt">3</text><path d="M408.0 656.9h2.2M417.6 656.9h2.2" stroke="#fff" stroke-opacity="0.6" stroke-width="0.6"/><text x="423.5" y="674.7" class="lt">2</text><path d="M408.0 670.7h2.2M417.6 670.7h2.2" stroke="#fff" stroke-opacity="0.6" stroke-width="0.6"/><text x="423.5" y="688.5" class="lt">1</text><path d="M408.0 684.5h2.2M417.6 684.5h2.2" stroke="#fff" stroke-opacity="0.6" stroke-width="0.6"/><g class="pts" stroke="#D3D3D3" stroke-width="2.6" transform="matrix(0.38178,0,0,0.40171,506.167,601.252)"><use href="#p010"/><use href="#p011"/><use href="#p012"/><use href="#p110"/><use href="#p111"/><use href="#p112"/><use href="#p210"/><use href="#p211"/><use href="#p212"/><use href="#p310"/><use href="#p311"/><use href="#p312"/><use href="#p410"/><use href="#p411"/><use href="#p412"/><use href="#p510"/><use href="#p511"/><use href="#p512"/></g><circle cx="536.2" cy="625.8" r="1.45" fill="#F28A3E"/><circle cx="534.1" cy="620.7" r="1.45" fill="#F28A3E"/><circle cx="547.3" cy="648.6" r="1.45" fill="#DA5E61"/><circle cx="553.4" cy="655.5" r="1.45" fill="#F28A3E"/><circle cx="548.1" cy="644.4" r="1.45" fill="#DA5E61"/><circle cx="543.4" cy="648.4" r="1.45" fill="#DA5E61"/><circle cx="550.4" cy="643.8" r="1.45" fill="#B43994"/><circle cx="546.3" cy="654.2" r="1.45" fill="#801CC7"/><circle cx="555.1" cy="644.5" r="1.45" fill="#DA5E61"/><circle cx="554.0" cy="650.7" r="1.45" fill="#B43994"/><circle cx="548.2" cy="652.0" r="1.45" fill="#DA5E61"/><circle cx="549.7" cy="654.9" r="1.45" fill="#F0DF2C"/><circle cx="548.1" cy="650.3" r="1.45" fill="#DA5E61"/><circle cx="554.9" cy="651.2" r="1.45" fill="#DA5E61"/><circle cx="553.8" cy="645.0" r="1.45" fill="#3E12AF"/><circle cx="549.8" cy="651.6" r="1.45" fill="#F28A3E"/><circle cx="553.1" cy="647.2" r="1.45" fill="#B43994"/><circle cx="550.1" cy="646.8" r="1.45" fill="#DA5E61"/><circle cx="544.5" cy="648.1" r="1.45" fill="#F28A3E"/><circle cx="545.4" cy="651.5" r="1.45" fill="#801CC7"/><circle cx="556.6" cy="652.1" r="1.45" fill="#801CC7"/><circle cx="555.7" cy="648.9" r="1.45" fill="#F0DF2C"/><circle cx="550.1" cy="652.2" r="1.45" fill="#F28A3E"/><circle cx="545.3" cy="650.7" r="1.45" fill="#DA5E61"/><circle cx="552.3" cy="654.4" r="1.45" fill="#F28A3E"/><circle cx="545.2" cy="650.1" r="1.45" fill="#F28A3E"/><circle cx="548.8" cy="647.6" r="1.45" fill="#B43994"/><circle cx="547.6" cy="642.6" r="1.45" fill="#F28A3E"/><circle cx="553.4" cy="665.5" r="1.45" fill="#B43994"/><circle cx="549.4" cy="662.7" r="1.45" fill="#F28A3E"/><circle cx="562.4" cy="658.7" r="1.45" fill="#DA5E61"/><circle cx="564.4" cy="658.2" r="1.45" fill="#F28A3E"/><circle cx="528.8" cy="669.5" r="1.45" fill="#B43994"/><circle cx="528.1" cy="662.9" r="1.45" fill="#DA5E61"/><circle cx="524.1" cy="667.1" r="1.45" fill="#DA5E61"/><circle cx="527.6" cy="661.7" r="1.45" fill="#F28A3E"/><circle cx="529.6" cy="662.6" r="1.45" fill="#F28A3E"/><circle cx="530.3" cy="663.5" r="1.45" fill="#F28A3E"/><circle cx="533.4" cy="675.1" r="1.45" fill="#F28A3E"/><circle cx="531.0" cy="667.5" r="1.45" fill="#B43994"/><circle cx="531.3" cy="668.9" r="1.45" fill="#F28A3E"/><circle cx="531.0" cy="668.0" r="1.45" fill="#F28A3E"/><circle cx="534.7" cy="673.5" r="1.45" fill="#F28A3E"/><circle cx="537.5" cy="677.1" r="1.45" fill="#F28A3E"/><circle cx="530.0" cy="668.5" r="1.45" fill="#F0DF2C"/><circle cx="535.1" cy="671.0" r="1.45" fill="#B43994"/><circle cx="531.9" cy="672.9" r="1.45" fill="#801CC7"/><circle cx="535.1" cy="675.4" r="1.45" fill="#F0DF2C"/><circle cx="548.6" cy="691.1" r="1.45" fill="#B43994"/><circle cx="540.7" cy="672.3" r="1.45" fill="#B43994"/><circle cx="542.0" cy="685.5" r="1.45" fill="#F28A3E"/><circle cx="538.6" cy="672.9" r="1.45" fill="#B43994"/><circle cx="538.8" cy="686.8" r="1.45" fill="#DA5E61"/><circle cx="546.1" cy="701.4" r="1.45" fill="#F28A3E"/><circle cx="544.7" cy="693.0" r="1.45" fill="#B43994"/><circle cx="546.7" cy="700.5" r="1.45" fill="#3E12AF"/><circle cx="554.1" cy="696.7" r="1.45" fill="#F0DF2C"/><circle cx="535.5" cy="675.2" r="1.45" fill="#DA5E61"/><circle cx="542.8" cy="678.1" r="1.45" fill="#F28A3E"/><circle cx="555.2" cy="688.0" r="1.45" fill="#F28A3E"/><circle cx="543.3" cy="678.4" r="1.45" fill="#DA5E61"/><circle cx="544.2" cy="681.4" r="1.45" fill="#DA5E61"/><circle cx="552.7" cy="684.4" r="1.45" fill="#DA5E61"/><circle cx="540.0" cy="684.7" r="1.45" fill="#F28A3E"/><circle cx="542.7" cy="693.3" r="1.45" fill="#B43994"/><circle cx="553.1" cy="695.6" r="1.45" fill="#DA5E61"/><circle cx="538.9" cy="684.9" r="1.45" fill="#B43994"/><circle cx="547.7" cy="693.2" r="1.45" fill="#801CC7"/><circle cx="537.1" cy="674.3" r="1.45" fill="#3E12AF"/><circle cx="546.7" cy="695.9" r="1.45" fill="#F28A3E"/><circle cx="540.2" cy="680.9" r="1.45" fill="#801CC7"/><circle cx="543.4" cy="673.6" r="1.45" fill="#DA5E61"/><circle cx="545.4" cy="700.4" r="1.45" fill="#F28A3E"/><circle cx="540.6" cy="677.1" r="1.45" fill="#F28A3E"/><circle cx="549.5" cy="671.8" r="1.45" fill="#801CC7"/><circle cx="555.7" cy="677.9" r="1.45" fill="#801CC7"/><circle cx="545.2" cy="674.4" r="1.45" fill="#B43994"/><circle cx="553.5" cy="703.9" r="1.45" fill="#DA5E61"/><circle cx="545.7" cy="699.7" r="1.45" fill="#B43994"/><circle cx="541.5" cy="692.3" r="1.45" fill="#B43994"/><circle cx="548.1" cy="679.8" r="1.45" fill="#DA5E61"/><circle cx="544.2" cy="689.7" r="1.45" fill="#801CC7"/><circle cx="550.4" cy="676.4" r="1.45" fill="#801CC7"/><circle cx="555.0" cy="701.1" r="1.45" fill="#B43994"/><circle cx="543.8" cy="702.7" r="1.45" fill="#F28A3E"/><circle cx="542.3" cy="680.9" r="1.45" fill="#DA5E61"/><circle cx="551.6" cy="694.8" r="1.45" fill="#F28A3E"/><circle cx="534.2" cy="678.8" r="1.45" fill="#801CC7"/><circle cx="545.3" cy="670.5" r="1.45" fill="#B43994"/><circle cx="552.2" cy="686.5" r="1.45" fill="#F28A3E"/><circle cx="549.2" cy="707.3" r="1.45" fill="#F28A3E"/><circle cx="548.4" cy="702.6" r="1.45" fill="#F28A3E"/><circle cx="551.1" cy="692.5" r="1.45" fill="#DA5E61"/><circle cx="545.1" cy="696.9" r="1.45" fill="#DA5E61"/><circle cx="550.2" cy="676.4" r="1.45" fill="#DA5E61"/><circle cx="541.3" cy="688.8" r="1.45" fill="#B43994"/><circle cx="535.4" cy="674.7" r="1.45" fill="#F28A3E"/><circle cx="542.6" cy="671.5" r="1.45" fill="#F28A3E"/><circle cx="545.4" cy="699.8" r="1.45" fill="#801CC7"/><circle cx="538.1" cy="674.9" r="1.45" fill="#F28A3E"/><circle cx="557.2" cy="681.0" r="1.45" fill="#B43994"/><circle cx="556.0" cy="678.2" r="1.45" fill="#801CC7"/><circle cx="543.6" cy="687.1" r="1.45" fill="#F0DF2C"/><circle cx="554.2" cy="676.6" r="1.45" fill="#DA5E61"/><circle cx="547.1" cy="677.5" r="1.45" fill="#F28A3E"/><circle cx="542.2" cy="693.2" r="1.45" fill="#B43994"/><circle cx="551.6" cy="690.8" r="1.45" fill="#F28A3E"/><circle cx="556.9" cy="692.4" r="1.45" fill="#DA5E61"/><circle cx="549.3" cy="681.3" r="1.45" fill="#B43994"/><circle cx="552.5" cy="704.2" r="1.45" fill="#DA5E61"/><circle cx="551.9" cy="689.4" r="1.45" fill="#B43994"/><circle cx="539.1" cy="675.4" r="1.45" fill="#801CC7"/><circle cx="542.2" cy="680.7" r="1.45" fill="#DA5E61"/><circle cx="549.8" cy="683.0" r="1.45" fill="#DA5E61"/><circle cx="551.3" cy="692.3" r="1.45" fill="#B43994"/><circle cx="545.5" cy="703.3" r="1.45" fill="#F0DF2C"/><circle cx="552.9" cy="681.8" r="1.45" fill="#3E12AF"/><circle cx="552.2" cy="707.7" r="1.45" fill="#B43994"/><circle cx="546.7" cy="678.1" r="1.45" fill="#F28A3E"/><circle cx="549.8" cy="681.7" r="1.45" fill="#F28A3E"/><circle cx="551.0" cy="697.5" r="1.45" fill="#DA5E61"/><circle cx="551.6" cy="705.4" r="1.45" fill="#F28A3E"/><circle cx="541.7" cy="675.6" r="1.45" fill="#F28A3E"/><circle cx="551.2" cy="680.6" r="1.45" fill="#B43994"/><circle cx="535.7" cy="675.4" r="1.45" fill="#B43994"/><circle cx="554.2" cy="706.0" r="1.45" fill="#DA5E61"/><circle cx="554.9" cy="696.4" r="1.45" fill="#F0DF2C"/><circle cx="550.0" cy="688.6" r="1.45" fill="#F28A3E"/><circle cx="542.0" cy="696.0" r="1.45" fill="#B43994"/><circle cx="547.2" cy="676.7" r="1.45" fill="#801CC7"/><circle cx="551.3" cy="687.2" r="1.45" fill="#B43994"/><circle cx="538.8" cy="684.7" r="1.45" fill="#801CC7"/><circle cx="540.7" cy="674.0" r="1.45" fill="#B43994"/><circle cx="552.7" cy="706.2" r="1.45" fill="#F28A3E"/><circle cx="548.2" cy="695.8" r="1.45" fill="#DA5E61"/><circle cx="552.4" cy="673.7" r="1.45" fill="#F28A3E"/><circle cx="544.2" cy="700.6" r="1.45" fill="#F28A3E"/><circle cx="539.7" cy="677.7" r="1.45" fill="#B43994"/><circle cx="618.5" cy="683.0" r="1.45" fill="#EE8343"/><path d="M516.2 607.7V716.1H624.2" class="ax"/><path d="M516.2 626.6h-2.5" class="ax"/><text x="511.25" y="630.9" class="tk" text-anchor="end">10</text><path d="M516.2 650.1h-2.5" class="ax"/><text x="511.25" y="654.4" class="tk" text-anchor="end">5</text><path d="M516.2 673.6h-2.5" class="ax"/><text x="511.25" y="677.9" class="tk" text-anchor="end">0</text><path d="M516.2 697.1h-2.5" class="ax"/><text x="511.25" y="701.4" class="tk" text-anchor="end">-5</text><path d="M536.9 716.1v2.5" class="ax"/><text x="536.9" y="730.3000000000001" class="tk" text-anchor="middle">-10</text><path d="M570.0 716.1v2.5" class="ax"/><text x="570.0" y="730.3000000000001" class="tk" text-anchor="middle">0</text><path d="M603.1 716.1v2.5" class="ax"/><text x="603.1" y="730.3000000000001" class="tk" text-anchor="middle">10</text><text x="570.6" y="743.1" class="lab" text-anchor="middle">UMAP_1</text><text transform="translate(491.6,664.4) rotate(-90)" class="lab" text-anchor="middle">UMAP_2</text><text x="572.5" y="605.3000000000001" class="lab" text-anchor="middle">SD</text><text x="628.0" y="631.0" class="gl">Cxcl1</text><rect x="637.6" y="640.4" width="11.8" height="58.8" fill="url(#pl)"/><text x="653.1" y="647.1" class="lt">4</text><path d="M637.6 643.1h2.2M647.2 643.1h2.2" stroke="#fff" stroke-opacity="0.6" stroke-width="0.6"/><text x="653.1" y="660.9" class="lt">3</text><path d="M637.6 656.9h2.2M647.2 656.9h2.2" stroke="#fff" stroke-opacity="0.6" stroke-width="0.6"/><text x="653.1" y="674.7" class="lt">2</text><path d="M637.6 670.7h2.2M647.2 670.7h2.2" stroke="#fff" stroke-opacity="0.6" stroke-width="0.6"/><text x="653.1" y="688.5" class="lt">1</text><path d="M637.6 684.5h2.2M647.2 684.5h2.2" stroke="#fff" stroke-opacity="0.6" stroke-width="0.6"/><g class="pts" stroke="#D3D3D3" stroke-width="2.6" transform="matrix(0.38178,0,0,0.40171,276.767,763.852)"><use href="#p000"/><use href="#p001"/><use href="#p002"/><use href="#p100"/><use href="#p101"/><use href="#p102"/><use href="#p200"/><use href="#p201"/><use href="#p202"/><use href="#p300"/><use href="#p301"/><use href="#p302"/><use href="#p400"/><use href="#p401"/><use href="#p402"/><use href="#p500"/><use href="#p501"/><use href="#p502"/></g><circle cx="311.5" cy="780.4" r="1.45" fill="#F28A3E"/><circle cx="316.2" cy="811.1" r="1.45" fill="#F28A3E"/><circle cx="317.3" cy="807.9" r="1.45" fill="#F28A3E"/><circle cx="317.7" cy="817.7" r="1.45" fill="#3E12AF"/><circle cx="327.0" cy="809.9" r="1.45" fill="#F28A3E"/><circle cx="317.5" cy="812.6" r="1.45" fill="#DA5E61"/><circle cx="323.5" cy="808.0" r="1.45" fill="#F28A3E"/><circle cx="318.7" cy="805.5" r="1.45" fill="#F28A3E"/><circle cx="315.9" cy="816.4" r="1.45" fill="#DA5E61"/><circle cx="319.8" cy="813.4" r="1.45" fill="#DA5E61"/><circle cx="320.4" cy="823.5" r="1.45" fill="#801CC7"/><circle cx="297.2" cy="826.1" r="1.45" fill="#801CC7"/><circle cx="301.6" cy="830.3" r="1.45" fill="#DA5E61"/><circle cx="300.4" cy="831.3" r="1.45" fill="#3E12AF"/><circle cx="298.9" cy="827.5" r="1.45" fill="#F28A3E"/><circle cx="295.5" cy="831.8" r="1.45" fill="#B43994"/><circle cx="307.9" cy="837.6" r="1.45" fill="#3E12AF"/><circle cx="308.2" cy="838.8" r="1.45" fill="#B43994"/><circle cx="300.4" cy="833.7" r="1.45" fill="#F28A3E"/><circle cx="301.3" cy="830.4" r="1.45" fill="#B43994"/><circle cx="303.6" cy="836.2" r="1.45" fill="#801CC7"/><circle cx="302.2" cy="832.6" r="1.45" fill="#F28A3E"/><circle cx="307.0" cy="837.5" r="1.45" fill="#F28A3E"/><circle cx="308.3" cy="835.5" r="1.45" fill="#F28A3E"/><circle cx="304.5" cy="832.0" r="1.45" fill="#DA5E61"/><circle cx="307.0" cy="837.0" r="1.45" fill="#DA5E61"/><circle cx="308.4" cy="838.8" r="1.45" fill="#F28A3E"/><circle cx="304.2" cy="833.2" r="1.45" fill="#F28A3E"/><circle cx="302.2" cy="830.4" r="1.45" fill="#DA5E61"/><circle cx="303.0" cy="833.2" r="1.45" fill="#DA5E61"/><circle cx="303.7" cy="834.4" r="1.45" fill="#B43994"/><circle cx="301.2" cy="832.3" r="1.45" fill="#801CC7"/><circle cx="301.7" cy="835.8" r="1.45" fill="#B43994"/><circle cx="307.2" cy="836.8" r="1.45" fill="#3E12AF"/><circle cx="302.0" cy="832.9" r="1.45" fill="#801CC7"/><circle cx="306.9" cy="840.0" r="1.45" fill="#F28A3E"/><circle cx="305.5" cy="837.8" r="1.45" fill="#B43994"/><circle cx="305.9" cy="836.3" r="1.45" fill="#3E12AF"/><circle cx="306.7" cy="837.6" r="1.45" fill="#B43994"/><circle cx="302.4" cy="831.4" r="1.45" fill="#B43994"/><circle cx="307.7" cy="839.4" r="1.45" fill="#B43994"/><circle cx="307.5" cy="834.6" r="1.45" fill="#F28A3E"/><circle cx="306.9" cy="840.0" r="1.45" fill="#F28A3E"/><circle cx="301.9" cy="831.2" r="1.45" fill="#F28A3E"/><circle cx="301.2" cy="833.9" r="1.45" fill="#801CC7"/><circle cx="306.3" cy="840.2" r="1.45" fill="#801CC7"/><circle cx="300.5" cy="846.4" r="1.45" fill="#3E12AF"/><circle cx="302.6" cy="846.9" r="1.45" fill="#801CC7"/><circle cx="299.1" cy="847.6" r="1.45" fill="#801CC7"/><circle cx="299.6" cy="844.7" r="1.45" fill="#3E12AF"/><circle cx="302.0" cy="848.4" r="1.45" fill="#B43994"/><circle cx="299.6" cy="845.1" r="1.45" fill="#801CC7"/><circle cx="299.3" cy="846.6" r="1.45" fill="#801CC7"/><circle cx="298.3" cy="845.1" r="1.45" fill="#B43994"/><circle cx="298.6" cy="844.4" r="1.45" fill="#801CC7"/><circle cx="301.6" cy="844.1" r="1.45" fill="#801CC7"/><circle cx="299.4" cy="844.3" r="1.45" fill="#801CC7"/><circle cx="300.3" cy="845.2" r="1.45" fill="#3E12AF"/><circle cx="325.7" cy="839.8" r="1.45" fill="#F28A3E"/><circle cx="326.6" cy="850.6" r="1.45" fill="#F0DF2C"/><circle cx="305.0" cy="837.7" r="1.45" fill="#F0DF2C"/><circle cx="310.2" cy="840.2" r="1.45" fill="#B43994"/><circle cx="322.8" cy="840.5" r="1.45" fill="#DA5E61"/><circle cx="327.8" cy="848.5" r="1.45" fill="#DA5E61"/><circle cx="319.4" cy="839.6" r="1.45" fill="#DA5E61"/><circle cx="310.3" cy="838.0" r="1.45" fill="#DA5E61"/><circle cx="321.1" cy="839.3" r="1.45" fill="#B43994"/><circle cx="322.5" cy="849.0" r="1.45" fill="#F0DF2C"/><circle cx="326.6" cy="861.9" r="1.45" fill="#F28A3E"/><circle cx="314.7" cy="857.2" r="1.45" fill="#F28A3E"/><circle cx="315.8" cy="859.9" r="1.45" fill="#F0DF2C"/><circle cx="316.2" cy="851.4" r="1.45" fill="#DA5E61"/><circle cx="324.0" cy="857.9" r="1.45" fill="#B43994"/><circle cx="312.4" cy="860.6" r="1.45" fill="#F0DF2C"/><circle cx="307.0" cy="837.6" r="1.45" fill="#801CC7"/><circle cx="317.3" cy="838.1" r="1.45" fill="#F0DF2C"/><circle cx="315.4" cy="850.6" r="1.45" fill="#F28A3E"/><circle cx="327.5" cy="861.1" r="1.45" fill="#F0DF2C"/><circle cx="323.4" cy="846.6" r="1.45" fill="#3E12AF"/><circle cx="314.0" cy="845.6" r="1.45" fill="#B43994"/><circle cx="314.6" cy="844.7" r="1.45" fill="#F28A3E"/><circle cx="317.9" cy="849.6" r="1.45" fill="#F0DF2C"/><circle cx="317.9" cy="867.4" r="1.45" fill="#F0DF2C"/><circle cx="318.4" cy="838.7" r="1.45" fill="#DA5E61"/><circle cx="321.3" cy="868.7" r="1.45" fill="#B43994"/><circle cx="312.4" cy="838.6" r="1.45" fill="#DA5E61"/><circle cx="334.4" cy="819.3" r="1.45" fill="#3E12AF"/><circle cx="335.6" cy="818.5" r="1.45" fill="#801CC7"/><circle cx="336.3" cy="817.7" r="1.45" fill="#2B0FA8"/><circle cx="334.0" cy="820.1" r="1.45" fill="#F28A3E"/><circle cx="366.4" cy="832.2" r="1.45" fill="#F19F39"/><circle cx="360.0" cy="844.8" r="1.45" fill="#EB7D48"/><circle cx="386.6" cy="849.8" r="1.45" fill="#EE8343"/><path d="M286.9 770.3V878.7H394.9" class="ax"/><path d="M286.9 789.2h-2.5" class="ax"/><text x="281.85" y="793.5" class="tk" text-anchor="end">10</text><path d="M286.9 812.7h-2.5" class="ax"/><text x="281.85" y="817.0" class="tk" text-anchor="end">5</text><path d="M286.9 836.2h-2.5" class="ax"/><text x="281.85" y="840.5" class="tk" text-anchor="end">0</text><path d="M286.9 859.7h-2.5" class="ax"/><text x="281.85" y="864.0" class="tk" text-anchor="end">-5</text><path d="M307.5 878.7v2.5" class="ax"/><text x="307.5" y="892.9000000000001" class="tk" text-anchor="middle">-10</text><path d="M340.6 878.7v2.5" class="ax"/><text x="340.6" y="892.9000000000001" class="tk" text-anchor="middle">0</text><path d="M373.7 878.7v2.5" class="ax"/><text x="373.70000000000005" y="892.9000000000001" class="tk" text-anchor="middle">10</text><text x="341.20000000000005" y="905.7" class="lab" text-anchor="middle">UMAP_1</text><text transform="translate(262.2,827.0) rotate(-90)" class="lab" text-anchor="middle">UMAP_2</text><text x="343.1" y="761.7" class="lab" text-anchor="middle">Control</text><text x="398.6" y="793.6" class="gl">Cxcl2</text><rect x="408.2" y="803.0" width="11.8" height="58.8" fill="url(#pl)"/><text x="423.70000000000005" y="809.7" class="lt">4</text><path d="M408.2 805.7h2.2M417.8 805.7h2.2" stroke="#fff" stroke-opacity="0.6" stroke-width="0.6"/><text x="423.70000000000005" y="823.5" class="lt">3</text><path d="M408.2 819.5h2.2M417.8 819.5h2.2" stroke="#fff" stroke-opacity="0.6" stroke-width="0.6"/><text x="423.70000000000005" y="837.3000000000001" class="lt">2</text><path d="M408.2 833.3h2.2M417.8 833.3h2.2" stroke="#fff" stroke-opacity="0.6" stroke-width="0.6"/><text x="423.70000000000005" y="851.1" class="lt">1</text><path d="M408.2 847.1h2.2M417.8 847.1h2.2" stroke="#fff" stroke-opacity="0.6" stroke-width="0.6"/><g class="pts" stroke="#D3D3D3" stroke-width="2.6" transform="matrix(0.38178,0,0,0.40171,506.167,763.852)"><use href="#p010"/><use href="#p011"/><use href="#p012"/><use href="#p110"/><use href="#p111"/><use href="#p112"/><use href="#p210"/><use href="#p211"/><use href="#p212"/><use href="#p310"/><use href="#p311"/><use href="#p312"/><use href="#p410"/><use href="#p411"/><use href="#p412"/><use href="#p510"/><use href="#p511"/><use href="#p512"/></g><circle cx="538.0" cy="789.2" r="1.45" fill="#F28A3E"/><circle cx="538.5" cy="787.7" r="1.45" fill="#F28A3E"/><circle cx="538.8" cy="781.6" r="1.45" fill="#F28A3E"/><circle cx="539.2" cy="779.3" r="1.45" fill="#DA5E61"/><circle cx="541.7" cy="784.7" r="1.45" fill="#B43994"/><circle cx="556.4" cy="809.5" r="1.45" fill="#F28A3E"/><circle cx="552.9" cy="809.4" r="1.45" fill="#F28A3E"/><circle cx="545.4" cy="816.7" r="1.45" fill="#801CC7"/><circle cx="552.2" cy="814.0" r="1.45" fill="#F28A3E"/><circle cx="551.1" cy="816.7" r="1.45" fill="#B43994"/><circle cx="553.9" cy="812.5" r="1.45" fill="#F0DF2C"/><circle cx="548.8" cy="806.0" r="1.45" fill="#B43994"/><circle cx="554.6" cy="811.4" r="1.45" fill="#B43994"/><circle cx="543.8" cy="809.3" r="1.45" fill="#F0DF2C"/><circle cx="543.8" cy="812.5" r="1.45" fill="#DA5E61"/><circle cx="548.5" cy="813.6" r="1.45" fill="#F28A3E"/><circle cx="553.8" cy="815.1" r="1.45" fill="#DA5E61"/><circle cx="545.4" cy="810.6" r="1.45" fill="#DA5E61"/><circle cx="555.3" cy="813.5" r="1.45" fill="#F28A3E"/><circle cx="546.8" cy="804.8" r="1.45" fill="#B43994"/><circle cx="553.3" cy="811.6" r="1.45" fill="#F28A3E"/><circle cx="554.0" cy="808.5" r="1.45" fill="#F28A3E"/><circle cx="550.7" cy="816.1" r="1.45" fill="#801CC7"/><circle cx="550.5" cy="815.2" r="1.45" fill="#3E12AF"/><circle cx="548.6" cy="816.0" r="1.45" fill="#F28A3E"/><circle cx="554.0" cy="809.9" r="1.45" fill="#F28A3E"/><circle cx="543.8" cy="814.9" r="1.45" fill="#F28A3E"/><circle cx="550.3" cy="815.5" r="1.45" fill="#F28A3E"/><circle cx="549.3" cy="814.2" r="1.45" fill="#B43994"/><circle cx="552.8" cy="812.7" r="1.45" fill="#DA5E61"/><circle cx="550.0" cy="809.7" r="1.45" fill="#F28A3E"/><circle cx="555.6" cy="812.8" r="1.45" fill="#DA5E61"/><circle cx="550.7" cy="808.9" r="1.45" fill="#F28A3E"/><circle cx="554.3" cy="815.6" r="1.45" fill="#F28A3E"/><circle cx="556.0" cy="809.9" r="1.45" fill="#F28A3E"/><circle cx="554.0" cy="806.6" r="1.45" fill="#F28A3E"/><circle cx="547.3" cy="813.2" r="1.45" fill="#B43994"/><circle cx="550.3" cy="812.5" r="1.45" fill="#F28A3E"/><circle cx="556.3" cy="815.9" r="1.45" fill="#DA5E61"/><circle cx="555.0" cy="809.6" r="1.45" fill="#B43994"/><circle cx="551.0" cy="813.9" r="1.45" fill="#F28A3E"/><circle cx="544.3" cy="809.3" r="1.45" fill="#DA5E61"/><circle cx="547.9" cy="817.4" r="1.45" fill="#F28A3E"/><circle cx="552.3" cy="807.4" r="1.45" fill="#DA5E61"/><circle cx="548.6" cy="811.5" r="1.45" fill="#F28A3E"/><circle cx="553.5" cy="818.0" r="1.45" fill="#DA5E61"/><circle cx="550.4" cy="810.2" r="1.45" fill="#F28A3E"/><circle cx="553.1" cy="806.3" r="1.45" fill="#DA5E61"/><circle cx="553.7" cy="807.1" r="1.45" fill="#F28A3E"/><circle cx="551.9" cy="812.1" r="1.45" fill="#DA5E61"/><circle cx="553.3" cy="806.4" r="1.45" fill="#DA5E61"/><circle cx="547.8" cy="814.6" r="1.45" fill="#F28A3E"/><circle cx="546.9" cy="807.7" r="1.45" fill="#F0DF2C"/><circle cx="545.5" cy="812.5" r="1.45" fill="#801CC7"/><circle cx="552.3" cy="817.3" r="1.45" fill="#F28A3E"/><circle cx="549.6" cy="823.1" r="1.45" fill="#F0DF2C"/><circle cx="552.1" cy="822.5" r="1.45" fill="#F0DF2C"/><circle cx="550.6" cy="830.1" r="1.45" fill="#F28A3E"/><circle cx="548.1" cy="822.0" r="1.45" fill="#F0DF2C"/><circle cx="547.2" cy="820.3" r="1.45" fill="#B43994"/><circle cx="553.3" cy="826.3" r="1.45" fill="#F28A3E"/><circle cx="551.9" cy="829.4" r="1.45" fill="#F28A3E"/><circle cx="548.0" cy="824.7" r="1.45" fill="#DA5E61"/><circle cx="564.4" cy="816.9" r="1.45" fill="#B43994"/><circle cx="565.2" cy="817.5" r="1.45" fill="#B43994"/><circle cx="567.6" cy="818.1" r="1.45" fill="#801CC7"/><circle cx="566.9" cy="815.1" r="1.45" fill="#801CC7"/><circle cx="563.4" cy="819.1" r="1.45" fill="#B43994"/><circle cx="562.0" cy="821.3" r="1.45" fill="#3E12AF"/><circle cx="563.2" cy="818.7" r="1.45" fill="#3E12AF"/><circle cx="565.0" cy="817.4" r="1.45" fill="#B43994"/><circle cx="524.5" cy="828.7" r="1.45" fill="#F28A3E"/><circle cx="528.0" cy="826.6" r="1.45" fill="#801CC7"/><circle cx="530.6" cy="830.1" r="1.45" fill="#F0DF2C"/><circle cx="525.3" cy="832.4" r="1.45" fill="#DA5E61"/><circle cx="525.3" cy="830.3" r="1.45" fill="#F28A3E"/><circle cx="530.6" cy="829.2" r="1.45" fill="#F28A3E"/><circle cx="525.8" cy="829.1" r="1.45" fill="#F28A3E"/><circle cx="527.1" cy="824.0" r="1.45" fill="#DA5E61"/><circle cx="529.0" cy="833.1" r="1.45" fill="#DA5E61"/><circle cx="528.9" cy="829.5" r="1.45" fill="#801CC7"/><circle cx="526.2" cy="823.8" r="1.45" fill="#DA5E61"/><circle cx="524.3" cy="826.5" r="1.45" fill="#F28A3E"/><circle cx="528.7" cy="828.1" r="1.45" fill="#B43994"/><circle cx="527.6" cy="827.3" r="1.45" fill="#F0DF2C"/><circle cx="525.2" cy="825.5" r="1.45" fill="#F28A3E"/><circle cx="526.0" cy="823.5" r="1.45" fill="#DA5E61"/><circle cx="523.5" cy="829.2" r="1.45" fill="#DA5E61"/><circle cx="529.1" cy="824.6" r="1.45" fill="#F28A3E"/><circle cx="526.6" cy="830.5" r="1.45" fill="#B43994"/><circle cx="526.2" cy="828.8" r="1.45" fill="#F28A3E"/><circle cx="532.4" cy="833.8" r="1.45" fill="#B43994"/><circle cx="534.1" cy="839.2" r="1.45" fill="#DA5E61"/><circle cx="537.4" cy="839.4" r="1.45" fill="#801CC7"/><circle cx="536.6" cy="835.6" r="1.45" fill="#B43994"/><circle cx="537.4" cy="837.7" r="1.45" fill="#F28A3E"/><circle cx="532.2" cy="832.3" r="1.45" fill="#B43994"/><circle cx="536.8" cy="840.1" r="1.45" fill="#3E12AF"/><circle cx="531.5" cy="831.7" r="1.45" fill="#DA5E61"/><circle cx="531.7" cy="830.8" r="1.45" fill="#F0DF2C"/><circle cx="533.9" cy="832.9" r="1.45" fill="#B43994"/><circle cx="537.0" cy="837.9" r="1.45" fill="#B43994"/><circle cx="538.2" cy="835.9" r="1.45" fill="#DA5E61"/><circle cx="532.0" cy="830.6" r="1.45" fill="#B43994"/><circle cx="536.8" cy="840.5" r="1.45" fill="#3E12AF"/><circle cx="537.8" cy="837.9" r="1.45" fill="#F28A3E"/><circle cx="533.1" cy="839.5" r="1.45" fill="#DA5E61"/><circle cx="533.7" cy="834.0" r="1.45" fill="#3E12AF"/><circle cx="537.6" cy="835.5" r="1.45" fill="#B43994"/><circle cx="531.5" cy="834.7" r="1.45" fill="#F28A3E"/><circle cx="537.2" cy="838.8" r="1.45" fill="#3E12AF"/><circle cx="532.2" cy="836.7" r="1.45" fill="#3E12AF"/><circle cx="536.5" cy="839.7" r="1.45" fill="#B43994"/><circle cx="529.6" cy="846.4" r="1.45" fill="#801CC7"/><circle cx="531.6" cy="844.0" r="1.45" fill="#F28A3E"/><circle cx="528.8" cy="848.0" r="1.45" fill="#801CC7"/><circle cx="527.5" cy="845.6" r="1.45" fill="#DA5E61"/><circle cx="530.9" cy="843.3" r="1.45" fill="#F0DF2C"/><circle cx="558.0" cy="859.0" r="1.45" fill="#801CC7"/><circle cx="543.2" cy="856.9" r="1.45" fill="#801CC7"/><circle cx="556.5" cy="841.5" r="1.45" fill="#B43994"/><circle cx="549.7" cy="867.5" r="1.45" fill="#DA5E61"/><circle cx="539.7" cy="838.6" r="1.45" fill="#B43994"/><circle cx="544.6" cy="854.6" r="1.45" fill="#B43994"/><circle cx="555.5" cy="845.5" r="1.45" fill="#B43994"/><circle cx="550.4" cy="840.2" r="1.45" fill="#801CC7"/><circle cx="549.4" cy="850.7" r="1.45" fill="#DA5E61"/><circle cx="550.6" cy="846.8" r="1.45" fill="#3E12AF"/><circle cx="541.9" cy="852.2" r="1.45" fill="#DA5E61"/><circle cx="545.2" cy="848.2" r="1.45" fill="#B43994"/><circle cx="540.2" cy="847.0" r="1.45" fill="#801CC7"/><circle cx="554.9" cy="867.7" r="1.45" fill="#DA5E61"/><circle cx="537.8" cy="844.5" r="1.45" fill="#B43994"/><circle cx="546.9" cy="837.5" r="1.45" fill="#B43994"/><circle cx="554.4" cy="856.1" r="1.45" fill="#B43994"/><circle cx="549.7" cy="858.8" r="1.45" fill="#F28A3E"/><circle cx="547.7" cy="856.9" r="1.45" fill="#DA5E61"/><circle cx="547.2" cy="853.9" r="1.45" fill="#DA5E61"/><circle cx="548.1" cy="860.3" r="1.45" fill="#B43994"/><circle cx="542.2" cy="844.6" r="1.45" fill="#801CC7"/><circle cx="553.5" cy="865.5" r="1.45" fill="#DA5E61"/><circle cx="544.2" cy="862.0" r="1.45" fill="#B43994"/><circle cx="546.4" cy="848.8" r="1.45" fill="#B43994"/><circle cx="550.2" cy="843.1" r="1.45" fill="#DA5E61"/><circle cx="550.3" cy="862.9" r="1.45" fill="#B43994"/><circle cx="555.9" cy="864.8" r="1.45" fill="#DA5E61"/><circle cx="537.3" cy="845.6" r="1.45" fill="#F28A3E"/><circle cx="554.2" cy="849.5" r="1.45" fill="#DA5E61"/><circle cx="545.4" cy="855.2" r="1.45" fill="#F28A3E"/><circle cx="542.2" cy="842.4" r="1.45" fill="#801CC7"/><circle cx="550.5" cy="853.6" r="1.45" fill="#DA5E61"/><circle cx="546.6" cy="863.1" r="1.45" fill="#F0DF2C"/><circle cx="545.8" cy="842.8" r="1.45" fill="#801CC7"/><circle cx="554.4" cy="846.2" r="1.45" fill="#B43994"/><circle cx="537.7" cy="835.7" r="1.45" fill="#F0DF2C"/><circle cx="554.0" cy="850.2" r="1.45" fill="#F28A3E"/><circle cx="551.9" cy="844.5" r="1.45" fill="#DA5E61"/><circle cx="551.9" cy="838.3" r="1.45" fill="#801CC7"/><circle cx="556.0" cy="858.7" r="1.45" fill="#B43994"/><circle cx="556.9" cy="844.8" r="1.45" fill="#801CC7"/><circle cx="550.6" cy="846.0" r="1.45" fill="#B43994"/><circle cx="551.8" cy="855.3" r="1.45" fill="#DA5E61"/><circle cx="554.4" cy="850.6" r="1.45" fill="#B43994"/><circle cx="542.7" cy="849.5" r="1.45" fill="#DA5E61"/><circle cx="547.4" cy="834.0" r="1.45" fill="#F28A3E"/><circle cx="551.7" cy="867.4" r="1.45" fill="#DA5E61"/><circle cx="552.7" cy="845.7" r="1.45" fill="#3E12AF"/><circle cx="549.3" cy="835.2" r="1.45" fill="#F28A3E"/><circle cx="550.8" cy="863.3" r="1.45" fill="#F28A3E"/><circle cx="552.7" cy="866.2" r="1.45" fill="#801CC7"/><circle cx="539.2" cy="842.7" r="1.45" fill="#801CC7"/><circle cx="548.6" cy="836.3" r="1.45" fill="#3E12AF"/><circle cx="541.3" cy="834.1" r="1.45" fill="#F28A3E"/><circle cx="541.2" cy="844.1" r="1.45" fill="#DA5E61"/><circle cx="539.9" cy="848.9" r="1.45" fill="#B43994"/><circle cx="538.9" cy="836.3" r="1.45" fill="#B43994"/><circle cx="551.2" cy="845.7" r="1.45" fill="#DA5E61"/><circle cx="548.3" cy="838.6" r="1.45" fill="#801CC7"/><circle cx="547.3" cy="857.2" r="1.45" fill="#B43994"/><circle cx="543.0" cy="847.5" r="1.45" fill="#F28A3E"/><circle cx="541.7" cy="837.4" r="1.45" fill="#3E12AF"/><circle cx="544.9" cy="862.0" r="1.45" fill="#DA5E61"/><circle cx="550.6" cy="842.7" r="1.45" fill="#3E12AF"/><circle cx="544.4" cy="834.0" r="1.45" fill="#801CC7"/><circle cx="548.7" cy="859.6" r="1.45" fill="#F28A3E"/><circle cx="546.2" cy="834.3" r="1.45" fill="#DA5E61"/><circle cx="546.4" cy="837.1" r="1.45" fill="#B43994"/><circle cx="538.8" cy="837.6" r="1.45" fill="#801CC7"/><circle cx="554.2" cy="852.1" r="1.45" fill="#801CC7"/><circle cx="548.0" cy="844.2" r="1.45" fill="#DA5E61"/><circle cx="556.9" cy="842.0" r="1.45" fill="#801CC7"/><circle cx="547.0" cy="846.1" r="1.45" fill="#801CC7"/><circle cx="545.0" cy="839.2" r="1.45" fill="#DA5E61"/><circle cx="543.0" cy="845.0" r="1.45" fill="#DA5E61"/><circle cx="546.8" cy="851.9" r="1.45" fill="#3E12AF"/><circle cx="553.2" cy="836.7" r="1.45" fill="#B43994"/><circle cx="542.7" cy="833.5" r="1.45" fill="#801CC7"/><circle cx="543.3" cy="864.2" r="1.45" fill="#DA5E61"/><circle cx="546.9" cy="843.3" r="1.45" fill="#DA5E61"/><circle cx="556.8" cy="839.7" r="1.45" fill="#F28A3E"/><circle cx="546.3" cy="867.2" r="1.45" fill="#B43994"/><circle cx="552.0" cy="862.1" r="1.45" fill="#3E12AF"/><circle cx="545.4" cy="843.5" r="1.45" fill="#801CC7"/><circle cx="544.3" cy="844.8" r="1.45" fill="#DA5E61"/><circle cx="556.6" cy="844.3" r="1.45" fill="#B43994"/><circle cx="556.5" cy="853.4" r="1.45" fill="#B43994"/><circle cx="553.2" cy="864.0" r="1.45" fill="#DA5E61"/><circle cx="547.4" cy="852.9" r="1.45" fill="#B43994"/><circle cx="549.0" cy="852.7" r="1.45" fill="#3E12AF"/><circle cx="555.5" cy="860.4" r="1.45" fill="#DA5E61"/><circle cx="549.9" cy="835.3" r="1.45" fill="#F28A3E"/><circle cx="543.4" cy="833.9" r="1.45" fill="#DA5E61"/><circle cx="555.6" cy="861.4" r="1.45" fill="#DA5E61"/><circle cx="548.6" cy="835.0" r="1.45" fill="#DA5E61"/><circle cx="554.3" cy="842.8" r="1.45" fill="#DA5E61"/><circle cx="539.3" cy="836.5" r="1.45" fill="#B43994"/><circle cx="545.2" cy="844.2" r="1.45" fill="#3E12AF"/><circle cx="557.5" cy="848.1" r="1.45" fill="#B43994"/><circle cx="558.1" cy="852.5" r="1.45" fill="#B43994"/><circle cx="550.1" cy="860.2" r="1.45" fill="#DA5E61"/><circle cx="553.9" cy="863.0" r="1.45" fill="#801CC7"/><circle cx="544.5" cy="847.0" r="1.45" fill="#B43994"/><circle cx="550.2" cy="860.8" r="1.45" fill="#801CC7"/><circle cx="551.9" cy="843.7" r="1.45" fill="#B43994"/><circle cx="542.8" cy="845.4" r="1.45" fill="#B43994"/><circle cx="555.1" cy="855.9" r="1.45" fill="#801CC7"/><circle cx="549.1" cy="868.6" r="1.45" fill="#DA5E61"/><circle cx="537.1" cy="844.6" r="1.45" fill="#DA5E61"/><circle cx="546.2" cy="845.2" r="1.45" fill="#DA5E61"/><circle cx="549.8" cy="837.7" r="1.45" fill="#F28A3E"/><circle cx="544.1" cy="854.2" r="1.45" fill="#DA5E61"/><circle cx="550.5" cy="862.6" r="1.45" fill="#B43994"/><circle cx="547.6" cy="856.7" r="1.45" fill="#DA5E61"/><circle cx="554.3" cy="845.7" r="1.45" fill="#801CC7"/><circle cx="557.0" cy="854.4" r="1.45" fill="#DA5E61"/><circle cx="550.5" cy="856.0" r="1.45" fill="#F28A3E"/><circle cx="544.6" cy="867.2" r="1.45" fill="#DA5E61"/><circle cx="545.6" cy="846.7" r="1.45" fill="#DA5E61"/><circle cx="539.7" cy="845.5" r="1.45" fill="#DA5E61"/><circle cx="546.1" cy="847.0" r="1.45" fill="#801CC7"/><circle cx="544.0" cy="859.7" r="1.45" fill="#DA5E61"/><circle cx="549.4" cy="846.2" r="1.45" fill="#801CC7"/><circle cx="552.5" cy="848.8" r="1.45" fill="#F28A3E"/><circle cx="550.7" cy="870.4" r="1.45" fill="#801CC7"/><circle cx="542.6" cy="859.1" r="1.45" fill="#801CC7"/><circle cx="551.4" cy="846.8" r="1.45" fill="#801CC7"/><circle cx="540.3" cy="834.6" r="1.45" fill="#DA5E61"/><circle cx="542.8" cy="846.7" r="1.45" fill="#B43994"/><circle cx="538.9" cy="847.8" r="1.45" fill="#F28A3E"/><circle cx="550.3" cy="837.0" r="1.45" fill="#B43994"/><circle cx="549.5" cy="865.7" r="1.45" fill="#3E12AF"/><circle cx="549.9" cy="869.0" r="1.45" fill="#801CC7"/><circle cx="544.4" cy="834.3" r="1.45" fill="#801CC7"/><circle cx="554.5" cy="861.2" r="1.45" fill="#DA5E61"/><circle cx="535.9" cy="840.5" r="1.45" fill="#B43994"/><circle cx="550.3" cy="859.8" r="1.45" fill="#801CC7"/><circle cx="537.1" cy="844.4" r="1.45" fill="#B43994"/><circle cx="549.1" cy="856.4" r="1.45" fill="#801CC7"/><circle cx="545.6" cy="862.0" r="1.45" fill="#801CC7"/><circle cx="546.9" cy="869.1" r="1.45" fill="#801CC7"/><circle cx="555.9" cy="841.0" r="1.45" fill="#801CC7"/><circle cx="538.5" cy="848.0" r="1.45" fill="#3E12AF"/><circle cx="541.9" cy="833.9" r="1.45" fill="#B43994"/><circle cx="550.0" cy="842.9" r="1.45" fill="#801CC7"/><circle cx="551.5" cy="838.8" r="1.45" fill="#F28A3E"/><circle cx="556.2" cy="862.4" r="1.45" fill="#DA5E61"/><circle cx="548.1" cy="836.3" r="1.45" fill="#3E12AF"/><circle cx="549.7" cy="850.5" r="1.45" fill="#DA5E61"/><circle cx="551.3" cy="835.2" r="1.45" fill="#B43994"/><circle cx="549.7" cy="842.6" r="1.45" fill="#801CC7"/><circle cx="556.2" cy="842.4" r="1.45" fill="#DA5E61"/><circle cx="555.8" cy="839.9" r="1.45" fill="#F28A3E"/><circle cx="543.5" cy="840.9" r="1.45" fill="#F28A3E"/><circle cx="543.0" cy="844.4" r="1.45" fill="#DA5E61"/><circle cx="541.6" cy="852.5" r="1.45" fill="#801CC7"/><circle cx="550.0" cy="834.5" r="1.45" fill="#3E12AF"/><circle cx="542.5" cy="836.8" r="1.45" fill="#801CC7"/><circle cx="556.8" cy="841.3" r="1.45" fill="#B43994"/><circle cx="555.2" cy="848.3" r="1.45" fill="#B43994"/><circle cx="547.8" cy="857.9" r="1.45" fill="#DA5E61"/><circle cx="554.4" cy="864.1" r="1.45" fill="#B43994"/><circle cx="545.8" cy="847.0" r="1.45" fill="#B43994"/><circle cx="550.3" cy="866.0" r="1.45" fill="#F0DF2C"/><circle cx="549.7" cy="867.6" r="1.45" fill="#B43994"/><circle cx="548.7" cy="842.8" r="1.45" fill="#DA5E61"/><circle cx="551.9" cy="857.8" r="1.45" fill="#DA5E61"/><circle cx="541.3" cy="858.1" r="1.45" fill="#801CC7"/><circle cx="553.8" cy="867.9" r="1.45" fill="#DA5E61"/><circle cx="556.9" cy="854.4" r="1.45" fill="#B43994"/><circle cx="549.5" cy="852.9" r="1.45" fill="#B43994"/><circle cx="542.8" cy="861.4" r="1.45" fill="#801CC7"/><circle cx="556.4" cy="858.9" r="1.45" fill="#B43994"/><circle cx="550.5" cy="846.5" r="1.45" fill="#F28A3E"/><circle cx="545.6" cy="853.0" r="1.45" fill="#801CC7"/><circle cx="548.7" cy="849.8" r="1.45" fill="#801CC7"/><circle cx="546.9" cy="850.4" r="1.45" fill="#3E12AF"/><circle cx="537.1" cy="843.9" r="1.45" fill="#801CC7"/><circle cx="548.6" cy="842.3" r="1.45" fill="#B43994"/><circle cx="553.4" cy="841.7" r="1.45" fill="#801CC7"/><circle cx="539.0" cy="850.2" r="1.45" fill="#B43994"/><circle cx="547.1" cy="860.6" r="1.45" fill="#DA5E61"/><circle cx="546.6" cy="848.0" r="1.45" fill="#801CC7"/><circle cx="552.2" cy="840.1" r="1.45" fill="#801CC7"/><circle cx="554.2" cy="838.1" r="1.45" fill="#801CC7"/><circle cx="537.2" cy="845.1" r="1.45" fill="#F28A3E"/><circle cx="542.7" cy="852.0" r="1.45" fill="#B43994"/><circle cx="544.4" cy="865.3" r="1.45" fill="#801CC7"/><circle cx="542.4" cy="862.0" r="1.45" fill="#DA5E61"/><circle cx="549.3" cy="844.4" r="1.45" fill="#B43994"/><circle cx="550.1" cy="846.3" r="1.45" fill="#3E12AF"/><circle cx="549.1" cy="843.2" r="1.45" fill="#3E12AF"/><circle cx="551.0" cy="857.4" r="1.45" fill="#DA5E61"/><circle cx="536.7" cy="837.7" r="1.45" fill="#DA5E61"/><circle cx="555.6" cy="866.7" r="1.45" fill="#F28A3E"/><circle cx="548.9" cy="847.1" r="1.45" fill="#F28A3E"/><circle cx="546.5" cy="834.8" r="1.45" fill="#3E12AF"/><circle cx="551.8" cy="843.8" r="1.45" fill="#DA5E61"/><circle cx="541.8" cy="855.9" r="1.45" fill="#B43994"/><circle cx="558.4" cy="850.2" r="1.45" fill="#801CC7"/><circle cx="557.6" cy="855.9" r="1.45" fill="#801CC7"/><circle cx="551.4" cy="863.3" r="1.45" fill="#801CC7"/><circle cx="545.4" cy="839.7" r="1.45" fill="#801CC7"/><circle cx="556.1" cy="846.7" r="1.45" fill="#F28A3E"/><circle cx="554.1" cy="855.5" r="1.45" fill="#F28A3E"/><circle cx="555.9" cy="845.3" r="1.45" fill="#DA5E61"/><circle cx="538.9" cy="849.3" r="1.45" fill="#F28A3E"/><circle cx="553.0" cy="840.8" r="1.45" fill="#B43994"/><circle cx="551.5" cy="850.3" r="1.45" fill="#3E12AF"/><circle cx="551.7" cy="837.9" r="1.45" fill="#801CC7"/><circle cx="547.5" cy="855.4" r="1.45" fill="#B43994"/><circle cx="541.9" cy="841.4" r="1.45" fill="#DA5E61"/><circle cx="553.8" cy="849.2" r="1.45" fill="#B43994"/><circle cx="545.2" cy="852.5" r="1.45" fill="#801CC7"/><circle cx="542.1" cy="843.7" r="1.45" fill="#F28A3E"/><circle cx="551.5" cy="842.6" r="1.45" fill="#DA5E61"/><circle cx="551.1" cy="863.3" r="1.45" fill="#801CC7"/><circle cx="549.7" cy="871.2" r="1.45" fill="#B43994"/><circle cx="543.1" cy="840.3" r="1.45" fill="#801CC7"/><circle cx="556.5" cy="856.1" r="1.45" fill="#3E12AF"/><circle cx="556.4" cy="859.1" r="1.45" fill="#801CC7"/><circle cx="538.0" cy="839.6" r="1.45" fill="#3E12AF"/><circle cx="550.9" cy="848.7" r="1.45" fill="#F28A3E"/><circle cx="542.3" cy="837.0" r="1.45" fill="#DA5E61"/><circle cx="555.4" cy="856.6" r="1.45" fill="#801CC7"/><circle cx="538.0" cy="847.2" r="1.45" fill="#B43994"/><circle cx="544.7" cy="844.2" r="1.45" fill="#801CC7"/><circle cx="544.8" cy="847.7" r="1.45" fill="#F28A3E"/><circle cx="539.7" cy="834.9" r="1.45" fill="#B43994"/><circle cx="553.2" cy="844.0" r="1.45" fill="#DA5E61"/><circle cx="542.4" cy="857.6" r="1.45" fill="#DA5E61"/><circle cx="545.2" cy="834.5" r="1.45" fill="#3E12AF"/><circle cx="549.5" cy="864.3" r="1.45" fill="#801CC7"/><circle cx="542.4" cy="844.4" r="1.45" fill="#3E12AF"/><circle cx="551.4" cy="848.9" r="1.45" fill="#801CC7"/><circle cx="548.2" cy="867.0" r="1.45" fill="#F28A3E"/><circle cx="534.7" cy="838.2" r="1.45" fill="#B43994"/><circle cx="555.6" cy="864.4" r="1.45" fill="#801CC7"/><circle cx="549.6" cy="852.6" r="1.45" fill="#DA5E61"/><circle cx="542.9" cy="863.0" r="1.45" fill="#DA5E61"/><circle cx="551.3" cy="842.1" r="1.45" fill="#DA5E61"/><circle cx="544.9" cy="864.6" r="1.45" fill="#B43994"/><circle cx="549.9" cy="857.9" r="1.45" fill="#801CC7"/><circle cx="551.1" cy="865.0" r="1.45" fill="#3E12AF"/><circle cx="534.5" cy="838.9" r="1.45" fill="#801CC7"/><circle cx="546.2" cy="853.1" r="1.45" fill="#801CC7"/><circle cx="551.3" cy="865.4" r="1.45" fill="#DA5E61"/><circle cx="552.3" cy="835.5" r="1.45" fill="#DA5E61"/><circle cx="553.8" cy="852.3" r="1.45" fill="#B43994"/><circle cx="543.2" cy="852.8" r="1.45" fill="#DA5E61"/><circle cx="551.2" cy="849.7" r="1.45" fill="#DA5E61"/><circle cx="537.5" cy="843.4" r="1.45" fill="#B43994"/><circle cx="548.1" cy="844.1" r="1.45" fill="#DA5E61"/><circle cx="554.6" cy="843.4" r="1.45" fill="#801CC7"/><circle cx="553.0" cy="868.0" r="1.45" fill="#3E12AF"/><circle cx="538.1" cy="843.7" r="1.45" fill="#801CC7"/><circle cx="542.9" cy="858.4" r="1.45" fill="#801CC7"/><circle cx="553.5" cy="848.3" r="1.45" fill="#801CC7"/><circle cx="553.5" cy="846.4" r="1.45" fill="#DA5E61"/><circle cx="546.4" cy="836.3" r="1.45" fill="#B43994"/><circle cx="538.5" cy="843.8" r="1.45" fill="#F28A3E"/><circle cx="534.8" cy="838.5" r="1.45" fill="#B43994"/><circle cx="542.3" cy="841.9" r="1.45" fill="#801CC7"/><circle cx="548.0" cy="845.9" r="1.45" fill="#B43994"/><circle cx="554.2" cy="839.7" r="1.45" fill="#B43994"/><circle cx="553.4" cy="869.2" r="1.45" fill="#801CC7"/><circle cx="550.9" cy="851.8" r="1.45" fill="#DA5E61"/><circle cx="548.6" cy="867.6" r="1.45" fill="#B43994"/><circle cx="554.6" cy="847.5" r="1.45" fill="#B43994"/><circle cx="544.8" cy="839.2" r="1.45" fill="#801CC7"/><circle cx="555.3" cy="855.9" r="1.45" fill="#DA5E61"/><circle cx="546.2" cy="858.0" r="1.45" fill="#801CC7"/><circle cx="546.7" cy="848.0" r="1.45" fill="#B43994"/><circle cx="550.7" cy="852.2" r="1.45" fill="#DA5E61"/><circle cx="541.1" cy="854.8" r="1.45" fill="#801CC7"/><circle cx="556.2" cy="849.9" r="1.45" fill="#801CC7"/><circle cx="552.3" cy="853.4" r="1.45" fill="#DA5E61"/><circle cx="555.9" cy="863.7" r="1.45" fill="#3E12AF"/><circle cx="540.5" cy="839.8" r="1.45" fill="#3E12AF"/><circle cx="549.3" cy="844.0" r="1.45" fill="#DA5E61"/><circle cx="545.5" cy="848.9" r="1.45" fill="#B43994"/><circle cx="548.3" cy="848.5" r="1.45" fill="#B43994"/><circle cx="554.2" cy="861.9" r="1.45" fill="#DA5E61"/><circle cx="550.1" cy="849.6" r="1.45" fill="#801CC7"/><circle cx="542.5" cy="844.9" r="1.45" fill="#801CC7"/><circle cx="554.8" cy="843.8" r="1.45" fill="#DA5E61"/><circle cx="549.2" cy="838.8" r="1.45" fill="#DA5E61"/><circle cx="548.0" cy="854.7" r="1.45" fill="#B43994"/><circle cx="542.4" cy="837.5" r="1.45" fill="#B43994"/><circle cx="550.6" cy="846.8" r="1.45" fill="#F28A3E"/><circle cx="552.6" cy="840.5" r="1.45" fill="#DA5E61"/><circle cx="552.8" cy="859.9" r="1.45" fill="#B43994"/><circle cx="539.9" cy="841.4" r="1.45" fill="#DA5E61"/><circle cx="550.4" cy="864.7" r="1.45" fill="#DA5E61"/><circle cx="547.6" cy="848.8" r="1.45" fill="#F28A3E"/><circle cx="549.8" cy="867.9" r="1.45" fill="#DA5E61"/><circle cx="544.7" cy="851.2" r="1.45" fill="#801CC7"/><circle cx="544.9" cy="865.8" r="1.45" fill="#B43994"/><circle cx="548.1" cy="856.9" r="1.45" fill="#801CC7"/><circle cx="558.6" cy="852.0" r="1.45" fill="#801CC7"/><circle cx="541.0" cy="857.9" r="1.45" fill="#DA5E61"/><circle cx="556.5" cy="847.5" r="1.45" fill="#DA5E61"/><circle cx="547.4" cy="866.2" r="1.45" fill="#F28A3E"/><circle cx="543.3" cy="859.6" r="1.45" fill="#B43994"/><circle cx="547.4" cy="853.4" r="1.45" fill="#3E12AF"/><circle cx="541.7" cy="846.1" r="1.45" fill="#801CC7"/><circle cx="551.1" cy="835.2" r="1.45" fill="#F28A3E"/><circle cx="548.0" cy="853.7" r="1.45" fill="#801CC7"/><circle cx="541.0" cy="846.6" r="1.45" fill="#B43994"/><circle cx="551.0" cy="838.8" r="1.45" fill="#DA5E61"/><circle cx="547.1" cy="837.8" r="1.45" fill="#801CC7"/><circle cx="547.9" cy="834.0" r="1.45" fill="#801CC7"/><circle cx="534.2" cy="839.2" r="1.45" fill="#DA5E61"/><circle cx="546.2" cy="862.6" r="1.45" fill="#DA5E61"/><circle cx="538.1" cy="844.3" r="1.45" fill="#B43994"/><circle cx="542.4" cy="844.9" r="1.45" fill="#B43994"/><circle cx="556.7" cy="850.2" r="1.45" fill="#B43994"/><circle cx="550.8" cy="853.5" r="1.45" fill="#B43994"/><circle cx="545.1" cy="840.9" r="1.45" fill="#801CC7"/><circle cx="557.7" cy="853.5" r="1.45" fill="#B43994"/><circle cx="545.4" cy="856.7" r="1.45" fill="#B43994"/><circle cx="547.4" cy="852.3" r="1.45" fill="#801CC7"/><circle cx="539.2" cy="851.3" r="1.45" fill="#801CC7"/><circle cx="553.4" cy="867.2" r="1.45" fill="#F28A3E"/><circle cx="557.5" cy="843.9" r="1.45" fill="#B43994"/><circle cx="557.0" cy="843.7" r="1.45" fill="#B43994"/><circle cx="553.9" cy="849.7" r="1.45" fill="#DA5E61"/><circle cx="550.1" cy="870.4" r="1.45" fill="#DA5E61"/><circle cx="548.1" cy="868.5" r="1.45" fill="#DA5E61"/><circle cx="609.7" cy="846.8" r="1.45" fill="#E7774D"/><circle cx="612.2" cy="845.6" r="1.45" fill="#E16B57"/><circle cx="601.6" cy="859.0" r="1.45" fill="#F1943B"/><path d="M516.2 770.3V878.7H624.2" class="ax"/><path d="M516.2 789.2h-2.5" class="ax"/><text x="511.25" y="793.5" class="tk" text-anchor="end">10</text><path d="M516.2 812.7h-2.5" class="ax"/><text x="511.25" y="817.0" class="tk" text-anchor="end">5</text><path d="M516.2 836.2h-2.5" class="ax"/><text x="511.25" y="840.5" class="tk" text-anchor="end">0</text><path d="M516.2 859.7h-2.5" class="ax"/><text x="511.25" y="864.0" class="tk" text-anchor="end">-5</text><path d="M536.9 878.7v2.5" class="ax"/><text x="536.9" y="892.9000000000001" class="tk" text-anchor="middle">-10</text><path d="M570.0 878.7v2.5" class="ax"/><text x="570.0" y="892.9000000000001" class="tk" text-anchor="middle">0</text><path d="M603.1 878.7v2.5" class="ax"/><text x="603.1" y="892.9000000000001" class="tk" text-anchor="middle">10</text><text x="570.6" y="905.7" class="lab" text-anchor="middle">UMAP_1</text><text transform="translate(491.6,827.0) rotate(-90)" class="lab" text-anchor="middle">UMAP_2</text><text x="572.5" y="761.7" class="lab" text-anchor="middle">SD</text><text x="628.0" y="793.6" class="gl">Cxcl2</text><rect x="637.6" y="803.0" width="11.8" height="58.8" fill="url(#pl)"/><text x="653.1" y="809.7" class="lt">4</text><path d="M637.6 805.7h2.2M647.2 805.7h2.2" stroke="#fff" stroke-opacity="0.6" stroke-width="0.6"/><text x="653.1" y="823.5" class="lt">3</text><path d="M637.6 819.5h2.2M647.2 819.5h2.2" stroke="#fff" stroke-opacity="0.6" stroke-width="0.6"/><text x="653.1" y="837.3000000000001" class="lt">2</text><path d="M637.6 833.3h2.2M647.2 833.3h2.2" stroke="#fff" stroke-opacity="0.6" stroke-width="0.6"/><text x="653.1" y="851.1" class="lt">1</text><path d="M637.6 847.1h2.2M647.2 847.1h2.2" stroke="#fff" stroke-opacity="0.6" stroke-width="0.6"/></svg></body></html>
